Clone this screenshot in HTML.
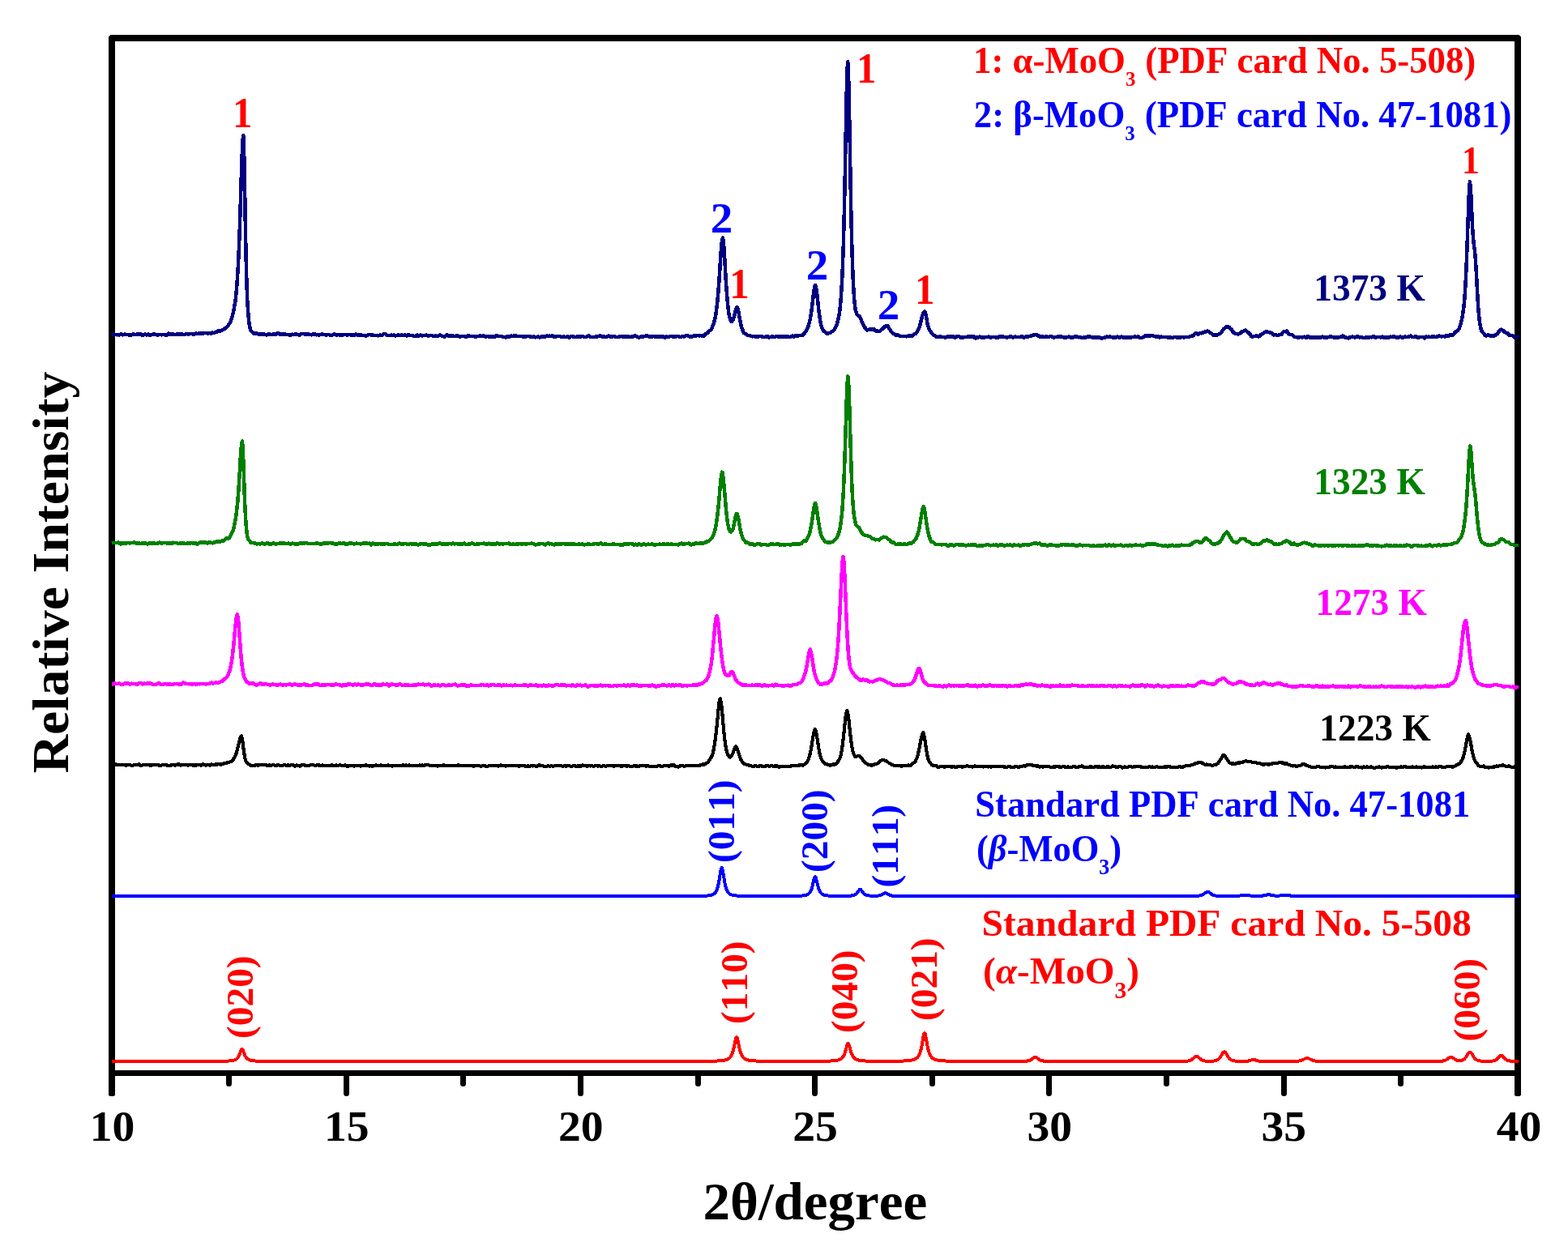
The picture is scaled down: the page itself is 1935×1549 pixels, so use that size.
<!DOCTYPE html>
<html lang="en"><head><meta charset="utf-8"><title>XRD patterns</title>
<style>
html,body{margin:0;padding:0;background:#fff;}
body{width:1935px;height:1549px;overflow:hidden;}
svg{display:block;}
text{font-family:"Liberation Serif","DejaVu Serif",serif;font-weight:bold;font-kerning:none;}
.c{fill:none;stroke-linejoin:round;stroke-linecap:butt;shape-rendering:crispEdges;}
</style></head><body>
<svg width="1935" height="1549" viewBox="0 0 1935 1549">
<rect x="0" y="0" width="1935" height="1549" fill="#ffffff"/>
<g stroke="#000" fill="none" stroke-linecap="round" stroke-linejoin="round" shape-rendering="crispEdges">
<path stroke-width="8" d="M138.0,1349.4 L138.0,47.0 L1873.0,47.0 L1873.0,1349.4"/>
<path stroke-width="7" stroke-linecap="butt" d="M138.0,1324.5 L1873.0,1324.5"/>
</g>
<g stroke="#000" fill="none" stroke-linecap="round" stroke-width="7">
<path d="M282.5,1325.5 L282.5,1337.4"/>
<path d="M427.5,1325.5 L427.5,1349.4"/>
<path d="M571.5,1325.5 L571.5,1337.4"/>
<path d="M716.5,1325.5 L716.5,1349.4"/>
<path d="M861.5,1325.5 L861.5,1337.4"/>
<path d="M1005.5,1325.5 L1005.5,1349.4"/>
<path d="M1150.5,1325.5 L1150.5,1337.4"/>
<path d="M1294.5,1325.5 L1294.5,1349.4"/>
<path d="M1439.5,1325.5 L1439.5,1337.4"/>
<path d="M1584.5,1325.5 L1584.5,1349.4"/>
<path d="M1728.5,1325.5 L1728.5,1337.4"/>
</g>
<path class="c" d="M138.0,413.8 L139.0,413.2 L140.0,412.7 L141.0,412.9 L142.0,412.9 L143.0,412.8 L144.0,413.3 L145.0,413.3 L146.0,413.1 L147.0,413.4 L148.0,413.3 L149.0,412.6 L150.0,412.5 L151.0,413.2 L152.0,413.3 L153.0,412.9 L154.0,412.7 L155.0,412.8 L156.0,413.1 L157.0,413.1 L158.0,413.0 L159.0,413.5 L160.0,413.8 L161.0,413.7 L162.0,413.4 L163.0,413.0 L164.0,412.7 L165.0,412.6 L166.0,412.9 L167.0,413.1 L168.0,412.8 L169.0,412.6 L170.0,412.5 L171.0,412.4 L172.0,412.6 L173.0,412.6 L174.0,412.6 L175.0,413.2 L176.0,413.9 L177.0,413.6 L178.0,412.9 L179.0,412.4 L180.0,412.8 L181.0,413.5 L182.0,413.2 L183.0,412.7 L184.0,413.3 L185.0,413.8 L186.0,413.5 L187.0,413.2 L188.0,413.1 L189.0,412.6 L190.0,412.3 L191.0,412.5 L192.0,412.8 L193.0,413.2 L194.0,413.5 L195.0,413.4 L196.0,413.3 L197.0,413.1 L198.0,412.9 L199.0,413.3 L200.0,413.2 L201.0,412.9 L202.0,412.9 L203.0,413.1 L204.0,413.5 L205.0,414.0 L206.0,413.6 L207.0,412.3 L208.0,411.7 L209.0,412.2 L210.0,412.8 L211.0,413.1 L212.0,412.6 L213.0,411.8 L214.0,412.3 L215.0,412.9 L216.0,413.0 L217.0,412.9 L218.0,412.6 L219.0,412.5 L220.0,412.7 L221.0,412.8 L222.0,412.7 L223.0,412.4 L224.0,412.3 L225.0,412.5 L226.0,412.8 L227.0,413.1 L228.0,413.1 L229.0,412.6 L230.0,412.1 L231.0,412.1 L232.0,412.4 L233.0,412.3 L234.0,412.2 L235.0,412.1 L236.0,412.1 L237.0,412.2 L238.0,412.4 L239.0,412.6 L240.0,412.6 L241.0,412.2 L242.0,411.7 L243.0,412.0 L244.0,412.1 L245.0,411.6 L246.0,411.6 L247.0,411.5 L248.0,411.3 L249.0,411.7 L250.0,411.9 L251.0,411.5 L252.0,411.2 L253.0,411.0 L254.0,410.8 L255.0,410.9 L256.0,411.4 L257.0,411.5 L258.0,411.0 L259.0,410.9 L260.0,411.6 L261.0,411.4 L262.0,410.5 L263.0,410.9 L264.0,411.2 L265.0,410.3 L266.0,409.7 L267.0,409.8 L268.0,409.5 L269.0,408.7 L270.0,408.5 L271.0,408.8 L272.0,408.6 L273.0,407.9 L274.0,407.3 L275.0,406.8 L276.0,406.6 L277.0,406.0 L278.0,405.0 L279.0,404.4 L280.0,403.8 L281.0,402.8 L282.0,401.3 L283.0,399.5 L284.0,397.7 L285.0,395.6 L286.0,393.0 L287.0,389.6 L288.0,384.8 L289.0,379.5 L290.0,374.4 L291.0,367.2 L292.0,356.4 L293.0,342.6 L294.0,325.5 L295.0,303.8 L296.0,276.7 L297.0,244.7 L298.0,211.2 L299.0,182.7 L300.0,167.7 L300.3,166.9 L301.0,179.3 L302.0,228.6 L303.0,287.4 L304.0,334.8 L305.0,365.8 L306.0,383.7 L307.0,394.8 L308.0,402.6 L309.0,406.8 L310.0,408.5 L311.0,409.4 L312.0,410.6 L313.0,411.5 L314.0,411.7 L315.0,411.9 L316.0,411.7 L317.0,411.5 L318.0,412.1 L319.0,412.7 L320.0,412.8 L321.0,412.4 L322.0,412.2 L323.0,412.5 L324.0,412.6 L325.0,412.5 L326.0,412.6 L327.0,412.9 L328.0,413.1 L329.0,413.4 L330.0,413.3 L331.0,412.5 L332.0,412.0 L333.0,412.4 L334.0,412.9 L335.0,413.1 L336.0,412.9 L337.0,412.7 L338.0,412.6 L339.0,412.8 L340.0,412.9 L341.0,412.0 L342.0,411.2 L343.0,411.3 L344.0,411.6 L345.0,412.3 L346.0,413.0 L347.0,412.5 L348.0,412.2 L349.0,412.6 L350.0,412.3 L351.0,412.2 L352.0,412.8 L353.0,413.0 L354.0,412.9 L355.0,413.1 L356.0,413.3 L357.0,413.4 L358.0,413.5 L359.0,413.4 L360.0,412.8 L361.0,412.7 L362.0,413.3 L363.0,412.9 L364.0,412.4 L365.0,412.4 L366.0,412.6 L367.0,412.8 L368.0,413.0 L369.0,413.4 L370.0,413.6 L371.0,412.8 L372.0,412.0 L373.0,411.9 L374.0,412.0 L375.0,412.2 L376.0,412.7 L377.0,412.7 L378.0,412.6 L379.0,412.5 L380.0,412.1 L381.0,412.4 L382.0,413.1 L383.0,413.2 L384.0,413.2 L385.0,413.3 L386.0,412.7 L387.0,412.5 L388.0,412.2 L389.0,412.2 L390.0,413.2 L391.0,413.3 L392.0,413.0 L393.0,413.7 L394.0,413.7 L395.0,413.2 L396.0,412.9 L397.0,412.6 L398.0,412.6 L399.0,413.0 L400.0,413.1 L401.0,413.3 L402.0,413.6 L403.0,413.5 L404.0,413.3 L405.0,413.1 L406.0,413.0 L407.0,413.6 L408.0,414.1 L409.0,413.9 L410.0,413.5 L411.0,412.8 L412.0,412.4 L413.0,412.7 L414.0,413.3 L415.0,413.6 L416.0,413.6 L417.0,413.1 L418.0,412.9 L419.0,413.4 L420.0,413.6 L421.0,413.5 L422.0,413.4 L423.0,413.4 L424.0,413.1 L425.0,412.9 L426.0,413.1 L427.0,413.2 L428.0,413.4 L429.0,413.4 L430.0,413.1 L431.0,413.1 L432.0,413.3 L433.0,413.6 L434.0,413.6 L435.0,413.3 L436.0,413.8 L437.0,414.0 L438.0,413.1 L439.0,412.6 L440.0,412.9 L441.0,413.5 L442.0,414.0 L443.0,413.6 L444.0,413.3 L445.0,413.5 L446.0,413.6 L447.0,413.9 L448.0,414.1 L449.0,414.0 L450.0,414.1 L451.0,414.8 L452.0,414.6 L453.0,414.0 L454.0,413.5 L455.0,413.1 L456.0,413.1 L457.0,413.2 L458.0,413.3 L459.0,413.4 L460.0,413.5 L461.0,413.9 L462.0,414.0 L463.0,413.8 L464.0,413.9 L465.0,414.0 L466.0,414.2 L467.0,414.3 L468.0,414.0 L469.0,413.5 L470.0,413.8 L471.0,414.2 L472.0,413.4 L473.0,412.4 L474.0,412.1 L475.0,411.9 L476.0,412.3 L477.0,413.4 L478.0,414.1 L479.0,413.9 L480.0,413.8 L481.0,413.8 L482.0,413.8 L483.0,413.7 L484.0,413.8 L485.0,413.8 L486.0,413.7 L487.0,414.2 L488.0,414.4 L489.0,414.2 L490.0,414.0 L491.0,413.7 L492.0,413.6 L493.0,413.9 L494.0,413.8 L495.0,413.6 L496.0,413.5 L497.0,413.8 L498.0,413.9 L499.0,413.5 L500.0,413.7 L501.0,414.1 L502.0,414.4 L503.0,413.8 L504.0,413.2 L505.0,413.8 L506.0,414.3 L507.0,414.1 L508.0,414.1 L509.0,414.3 L510.0,414.5 L511.0,414.9 L512.0,415.2 L513.0,415.0 L514.0,413.9 L515.0,413.5 L516.0,414.3 L517.0,414.7 L518.0,414.1 L519.0,413.5 L520.0,413.9 L521.0,414.4 L522.0,414.3 L523.0,414.1 L524.0,414.0 L525.0,413.8 L526.0,413.6 L527.0,414.0 L528.0,414.6 L529.0,414.6 L530.0,414.2 L531.0,414.2 L532.0,414.1 L533.0,414.0 L534.0,414.4 L535.0,415.0 L536.0,415.0 L537.0,414.3 L538.0,414.3 L539.0,414.8 L540.0,414.9 L541.0,414.5 L542.0,414.0 L543.0,413.5 L544.0,413.8 L545.0,414.7 L546.0,415.0 L547.0,415.0 L548.0,415.6 L549.0,415.6 L550.0,414.4 L551.0,413.2 L552.0,413.2 L553.0,414.1 L554.0,414.9 L555.0,414.5 L556.0,413.8 L557.0,414.4 L558.0,415.2 L559.0,414.7 L560.0,414.7 L561.0,415.3 L562.0,415.0 L563.0,414.6 L564.0,414.7 L565.0,414.7 L566.0,414.8 L567.0,415.4 L568.0,415.6 L569.0,415.3 L570.0,415.1 L571.0,415.2 L572.0,415.1 L573.0,415.2 L574.0,415.5 L575.0,415.7 L576.0,415.8 L577.0,415.0 L578.0,414.0 L579.0,414.3 L580.0,415.1 L581.0,415.1 L582.0,414.8 L583.0,414.8 L584.0,415.1 L585.0,415.3 L586.0,415.3 L587.0,415.2 L588.0,415.4 L589.0,415.3 L590.0,415.0 L591.0,415.1 L592.0,414.7 L593.0,414.6 L594.0,415.0 L595.0,414.8 L596.0,414.6 L597.0,414.6 L598.0,414.8 L599.0,415.4 L600.0,415.5 L601.0,415.2 L602.0,415.1 L603.0,415.6 L604.0,416.1 L605.0,415.7 L606.0,415.3 L607.0,415.3 L608.0,415.2 L609.0,415.4 L610.0,415.8 L611.0,415.3 L612.0,414.5 L613.0,414.1 L614.0,414.4 L615.0,415.0 L616.0,415.2 L617.0,415.1 L618.0,414.8 L619.0,414.9 L620.0,415.7 L621.0,416.1 L622.0,416.1 L623.0,416.2 L624.0,416.4 L625.0,415.9 L626.0,415.1 L627.0,415.2 L628.0,415.5 L629.0,415.4 L630.0,415.1 L631.0,414.6 L632.0,414.8 L633.0,414.9 L634.0,414.3 L635.0,414.4 L636.0,414.7 L637.0,414.6 L638.0,414.8 L639.0,415.0 L640.0,415.0 L641.0,415.2 L642.0,415.2 L643.0,415.2 L644.0,415.1 L645.0,415.2 L646.0,415.8 L647.0,416.2 L648.0,415.8 L649.0,415.2 L650.0,415.0 L651.0,415.2 L652.0,415.0 L653.0,415.0 L654.0,415.4 L655.0,415.7 L656.0,416.1 L657.0,416.0 L658.0,415.4 L659.0,415.6 L660.0,416.3 L661.0,416.2 L662.0,416.1 L663.0,415.9 L664.0,415.5 L665.0,415.8 L666.0,416.4 L667.0,416.1 L668.0,415.3 L669.0,415.2 L670.0,415.4 L671.0,415.2 L672.0,415.3 L673.0,415.5 L674.0,415.0 L675.0,414.6 L676.0,415.1 L677.0,415.1 L678.0,414.7 L679.0,414.8 L680.0,415.0 L681.0,414.3 L682.0,414.2 L683.0,415.2 L684.0,416.1 L685.0,415.9 L686.0,415.1 L687.0,414.8 L688.0,414.9 L689.0,415.2 L690.0,415.0 L691.0,415.2 L692.0,415.7 L693.0,415.8 L694.0,415.8 L695.0,415.4 L696.0,415.5 L697.0,415.8 L698.0,415.8 L699.0,416.0 L700.0,415.6 L701.0,415.6 L702.0,416.8 L703.0,416.5 L704.0,415.3 L705.0,414.9 L706.0,415.1 L707.0,415.4 L708.0,415.6 L709.0,416.0 L710.0,416.2 L711.0,415.9 L712.0,415.7 L713.0,415.6 L714.0,415.4 L715.0,415.5 L716.0,416.0 L717.0,415.8 L718.0,415.1 L719.0,414.8 L720.0,415.4 L721.0,415.9 L722.0,416.0 L723.0,416.0 L724.0,415.5 L725.0,414.8 L726.0,414.3 L727.0,414.6 L728.0,415.3 L729.0,415.9 L730.0,416.2 L731.0,416.1 L732.0,416.1 L733.0,416.2 L734.0,415.9 L735.0,415.7 L736.0,415.7 L737.0,415.4 L738.0,415.2 L739.0,415.0 L740.0,414.7 L741.0,414.6 L742.0,415.0 L743.0,415.5 L744.0,415.2 L745.0,415.2 L746.0,415.8 L747.0,416.1 L748.0,416.1 L749.0,415.8 L750.0,414.9 L751.0,414.3 L752.0,414.9 L753.0,415.5 L754.0,415.4 L755.0,415.4 L756.0,415.4 L757.0,415.1 L758.0,415.0 L759.0,415.5 L760.0,415.8 L761.0,415.8 L762.0,415.9 L763.0,415.8 L764.0,415.7 L765.0,415.4 L766.0,414.8 L767.0,414.9 L768.0,415.5 L769.0,415.5 L770.0,415.3 L771.0,415.4 L772.0,415.5 L773.0,415.4 L774.0,415.4 L775.0,415.1 L776.0,415.3 L777.0,416.0 L778.0,415.9 L779.0,415.4 L780.0,415.4 L781.0,415.4 L782.0,415.2 L783.0,414.6 L784.0,414.5 L785.0,415.0 L786.0,415.6 L787.0,416.2 L788.0,416.4 L789.0,416.5 L790.0,416.2 L791.0,415.5 L792.0,415.5 L793.0,415.9 L794.0,415.7 L795.0,415.1 L796.0,414.9 L797.0,414.6 L798.0,414.2 L799.0,414.5 L800.0,415.1 L801.0,415.5 L802.0,415.3 L803.0,415.5 L804.0,415.7 L805.0,415.4 L806.0,415.0 L807.0,414.8 L808.0,415.2 L809.0,415.8 L810.0,415.7 L811.0,415.3 L812.0,415.5 L813.0,415.6 L814.0,415.5 L815.0,415.6 L816.0,415.7 L817.0,415.5 L818.0,414.9 L819.0,415.3 L820.0,416.6 L821.0,416.4 L822.0,415.4 L823.0,415.5 L824.0,415.9 L825.0,415.9 L826.0,415.4 L827.0,415.0 L828.0,415.1 L829.0,415.2 L830.0,415.3 L831.0,415.3 L832.0,415.5 L833.0,416.0 L834.0,415.8 L835.0,415.1 L836.0,414.8 L837.0,415.2 L838.0,415.7 L839.0,415.8 L840.0,415.8 L841.0,415.4 L842.0,414.9 L843.0,415.0 L844.0,415.4 L845.0,415.1 L846.0,414.4 L847.0,414.2 L848.0,414.1 L849.0,414.7 L850.0,415.2 L851.0,415.5 L852.0,415.6 L853.0,415.4 L854.0,415.3 L855.0,415.2 L856.0,414.4 L857.0,414.1 L858.0,414.6 L859.0,414.7 L860.0,414.2 L861.0,414.0 L862.0,414.3 L863.0,414.4 L864.0,414.1 L865.0,414.1 L866.0,414.4 L867.0,414.3 L868.0,414.5 L869.0,414.4 L870.0,413.1 L871.0,411.8 L872.0,411.4 L873.0,411.1 L874.0,409.9 L875.0,408.3 L876.0,407.8 L877.0,407.6 L878.0,406.2 L879.0,403.6 L880.0,401.2 L881.0,398.4 L882.0,394.7 L883.0,390.0 L884.0,383.7 L885.0,375.3 L886.0,365.0 L887.0,352.6 L888.0,337.8 L889.0,321.8 L890.0,307.1 L891.0,296.9 L891.8,293.8 L892.0,293.6 L893.0,300.4 L894.0,314.7 L895.0,332.4 L896.0,349.5 L897.0,363.3 L898.0,374.9 L899.0,384.5 L900.0,390.2 L901.0,393.6 L902.0,396.3 L903.0,397.0 L904.0,395.6 L905.0,393.7 L906.0,390.7 L907.0,386.6 L908.0,382.2 L909.0,379.4 L909.5,379.2 L910.0,379.5 L911.0,382.6 L912.0,388.2 L913.0,394.1 L914.0,399.1 L915.0,403.3 L916.0,406.3 L917.0,408.6 L918.0,410.9 L919.0,411.8 L920.0,411.8 L921.0,412.4 L922.0,413.4 L923.0,413.9 L924.0,414.1 L925.0,413.9 L926.0,414.5 L927.0,415.1 L928.0,415.3 L929.0,415.2 L930.0,415.0 L931.0,415.2 L932.0,415.3 L933.0,415.3 L934.0,415.5 L935.0,415.7 L936.0,415.5 L937.0,414.9 L938.0,415.0 L939.0,415.3 L940.0,415.2 L941.0,415.5 L942.0,416.1 L943.0,416.2 L944.0,416.0 L945.0,415.4 L946.0,415.0 L947.0,415.2 L948.0,415.8 L949.0,416.4 L950.0,416.3 L951.0,416.0 L952.0,415.6 L953.0,415.3 L954.0,415.5 L955.0,415.8 L956.0,415.9 L957.0,415.5 L958.0,415.0 L959.0,414.9 L960.0,415.3 L961.0,415.8 L962.0,415.7 L963.0,415.4 L964.0,415.2 L965.0,415.5 L966.0,415.7 L967.0,415.5 L968.0,415.4 L969.0,415.5 L970.0,415.6 L971.0,415.3 L972.0,415.3 L973.0,415.6 L974.0,415.9 L975.0,416.0 L976.0,415.8 L977.0,415.1 L978.0,414.6 L979.0,415.3 L980.0,415.7 L981.0,414.7 L982.0,414.0 L983.0,414.4 L984.0,414.8 L985.0,414.5 L986.0,413.9 L987.0,413.8 L988.0,414.0 L989.0,414.0 L990.0,414.0 L991.0,413.1 L992.0,411.9 L993.0,410.9 L994.0,409.4 L995.0,407.9 L996.0,406.6 L997.0,404.4 L998.0,401.0 L999.0,397.3 L1000.0,392.8 L1001.0,386.9 L1002.0,379.5 L1003.0,371.1 L1004.0,362.6 L1005.0,355.4 L1006.0,351.9 L1006.2,352.5 L1007.0,354.6 L1008.0,360.8 L1009.0,370.1 L1010.0,379.6 L1011.0,387.6 L1012.0,394.5 L1013.0,399.9 L1014.0,403.7 L1015.0,406.4 L1016.0,408.1 L1017.0,409.0 L1018.0,409.7 L1019.0,410.3 L1020.0,411.2 L1021.0,412.0 L1022.0,411.7 L1023.0,411.1 L1024.0,411.1 L1025.0,410.3 L1026.0,409.2 L1027.0,409.1 L1028.0,408.6 L1029.0,407.7 L1030.0,406.1 L1031.0,404.3 L1032.0,402.4 L1033.0,399.5 L1034.0,396.0 L1035.0,391.7 L1036.0,385.7 L1037.0,377.0 L1038.0,364.8 L1039.0,348.6 L1040.0,326.7 L1041.0,296.2 L1042.0,255.7 L1043.0,205.2 L1044.0,149.9 L1045.0,101.4 L1046.0,76.5 L1046.2,76.0 L1047.0,88.7 L1048.0,132.5 L1049.0,190.7 L1050.0,247.1 L1051.0,292.8 L1052.0,326.8 L1053.0,351.0 L1054.0,367.2 L1055.0,377.8 L1056.0,383.8 L1057.0,386.8 L1058.0,388.5 L1059.0,389.3 L1060.0,389.9 L1061.0,391.1 L1062.0,393.0 L1063.0,395.7 L1064.0,398.0 L1065.0,399.9 L1066.0,402.2 L1067.0,403.8 L1068.0,405.1 L1069.0,406.6 L1070.0,407.5 L1071.0,407.3 L1072.0,406.9 L1073.0,406.7 L1074.0,406.5 L1075.0,406.7 L1076.0,406.9 L1077.0,406.3 L1078.0,405.9 L1079.0,406.7 L1080.0,408.0 L1081.0,408.5 L1082.0,408.3 L1083.0,408.6 L1084.0,409.1 L1085.0,409.2 L1086.0,408.7 L1087.0,407.5 L1088.0,406.7 L1089.0,406.1 L1090.0,405.0 L1091.0,403.9 L1092.0,403.0 L1093.0,402.4 L1093.5,402.2 L1094.0,401.8 L1095.0,401.9 L1096.0,403.1 L1097.0,405.0 L1098.0,406.6 L1099.0,408.0 L1100.0,409.4 L1101.0,410.5 L1102.0,411.5 L1103.0,412.3 L1104.0,412.3 L1105.0,412.8 L1106.0,414.1 L1107.0,414.1 L1108.0,413.4 L1109.0,414.0 L1110.0,414.8 L1111.0,415.0 L1112.0,415.0 L1113.0,414.8 L1114.0,415.0 L1115.0,415.1 L1116.0,415.0 L1117.0,415.0 L1118.0,415.3 L1119.0,415.3 L1120.0,414.9 L1121.0,414.6 L1122.0,414.7 L1123.0,414.7 L1124.0,414.7 L1125.0,414.8 L1126.0,414.6 L1127.0,413.3 L1128.0,412.2 L1129.0,412.1 L1130.0,411.9 L1131.0,410.8 L1132.0,408.9 L1133.0,407.0 L1134.0,405.4 L1135.0,402.6 L1136.0,398.6 L1137.0,394.6 L1138.0,390.6 L1139.0,387.3 L1140.0,385.3 L1140.6,385.0 L1141.0,384.7 L1142.0,386.2 L1143.0,390.6 L1144.0,396.6 L1145.0,401.5 L1146.0,404.8 L1147.0,407.2 L1148.0,408.6 L1149.0,409.8 L1150.0,411.3 L1151.0,412.6 L1152.0,413.4 L1153.0,413.9 L1154.0,414.4 L1155.0,415.3 L1156.0,415.7 L1157.0,415.9 L1158.0,416.0 L1159.0,415.5 L1160.0,415.2 L1161.0,415.6 L1162.0,415.8 L1163.0,415.9 L1164.0,416.0 L1165.0,416.2 L1166.0,416.6 L1167.0,416.8 L1168.0,416.1 L1169.0,415.7 L1170.0,415.4 L1171.0,415.1 L1172.0,415.8 L1173.0,416.2 L1174.0,415.7 L1175.0,415.0 L1176.0,415.1 L1177.0,416.1 L1178.0,416.8 L1179.0,416.6 L1180.0,415.7 L1181.0,415.3 L1182.0,415.2 L1183.0,415.0 L1184.0,415.5 L1185.0,416.5 L1186.0,416.8 L1187.0,416.7 L1188.0,416.8 L1189.0,416.5 L1190.0,416.1 L1191.0,416.0 L1192.0,416.0 L1193.0,415.9 L1194.0,415.7 L1195.0,415.7 L1196.0,416.0 L1197.0,415.7 L1198.0,415.3 L1199.0,415.4 L1200.0,415.2 L1201.0,415.1 L1202.0,416.1 L1203.0,417.2 L1204.0,417.6 L1205.0,416.9 L1206.0,416.2 L1207.0,416.5 L1208.0,416.3 L1209.0,415.6 L1210.0,416.1 L1211.0,416.5 L1212.0,416.3 L1213.0,416.2 L1214.0,416.4 L1215.0,416.6 L1216.0,416.1 L1217.0,415.8 L1218.0,416.0 L1219.0,415.8 L1220.0,415.6 L1221.0,416.3 L1222.0,416.5 L1223.0,416.3 L1224.0,416.2 L1225.0,415.9 L1226.0,415.9 L1227.0,416.0 L1228.0,416.3 L1229.0,416.6 L1230.0,416.4 L1231.0,416.4 L1232.0,416.5 L1233.0,415.6 L1234.0,415.3 L1235.0,415.9 L1236.0,415.7 L1237.0,415.2 L1238.0,415.4 L1239.0,415.9 L1240.0,416.2 L1241.0,416.2 L1242.0,416.4 L1243.0,416.4 L1244.0,416.0 L1245.0,416.1 L1246.0,415.7 L1247.0,415.3 L1248.0,415.6 L1249.0,416.3 L1250.0,416.5 L1251.0,416.3 L1252.0,415.8 L1253.0,415.4 L1254.0,415.9 L1255.0,416.2 L1256.0,415.9 L1257.0,415.9 L1258.0,416.0 L1259.0,416.1 L1260.0,415.6 L1261.0,415.2 L1262.0,415.9 L1263.0,416.8 L1264.0,416.4 L1265.0,415.8 L1266.0,415.6 L1267.0,415.7 L1268.0,415.6 L1269.0,415.5 L1270.0,415.3 L1271.0,414.8 L1272.0,414.6 L1273.0,414.6 L1274.0,414.0 L1275.0,413.6 L1276.0,413.6 L1277.0,413.3 L1277.5,413.2 L1278.0,413.3 L1279.0,413.5 L1280.0,413.7 L1281.0,414.1 L1282.0,415.0 L1283.0,415.5 L1284.0,415.3 L1285.0,415.3 L1286.0,415.4 L1287.0,415.7 L1288.0,416.1 L1289.0,415.8 L1290.0,415.4 L1291.0,415.3 L1292.0,415.5 L1293.0,416.0 L1294.0,416.0 L1295.0,415.4 L1296.0,415.1 L1297.0,415.1 L1298.0,415.4 L1299.0,416.2 L1300.0,416.7 L1301.0,416.5 L1302.0,416.1 L1303.0,416.2 L1304.0,416.0 L1305.0,415.6 L1306.0,415.4 L1307.0,415.2 L1308.0,415.4 L1309.0,415.6 L1310.0,415.5 L1311.0,415.7 L1312.0,416.2 L1313.0,416.4 L1314.0,416.3 L1315.0,416.3 L1316.0,416.3 L1317.0,416.3 L1318.0,416.0 L1319.0,415.6 L1320.0,416.0 L1321.0,416.7 L1322.0,416.3 L1323.0,416.1 L1324.0,416.5 L1325.0,416.2 L1326.0,415.5 L1327.0,415.5 L1328.0,415.9 L1329.0,415.7 L1330.0,415.8 L1331.0,416.3 L1332.0,416.3 L1333.0,416.1 L1334.0,416.2 L1335.0,417.0 L1336.0,417.1 L1337.0,416.4 L1338.0,416.6 L1339.0,417.2 L1340.0,416.8 L1341.0,416.0 L1342.0,415.7 L1343.0,415.6 L1344.0,415.5 L1345.0,415.7 L1346.0,416.0 L1347.0,416.1 L1348.0,416.4 L1349.0,416.3 L1350.0,416.2 L1351.0,416.4 L1352.0,416.5 L1353.0,416.5 L1354.0,416.7 L1355.0,416.5 L1356.0,416.4 L1357.0,416.5 L1358.0,417.0 L1359.0,417.6 L1360.0,417.4 L1361.0,417.1 L1362.0,416.9 L1363.0,416.7 L1364.0,416.7 L1365.0,416.2 L1366.0,415.7 L1367.0,415.8 L1368.0,415.9 L1369.0,415.6 L1370.0,415.7 L1371.0,416.0 L1372.0,416.1 L1373.0,416.3 L1374.0,416.9 L1375.0,416.6 L1376.0,416.1 L1377.0,416.5 L1378.0,416.2 L1379.0,415.6 L1380.0,415.7 L1381.0,416.5 L1382.0,416.7 L1383.0,416.0 L1384.0,415.4 L1385.0,415.8 L1386.0,416.8 L1387.0,417.0 L1388.0,416.4 L1389.0,416.3 L1390.0,416.2 L1391.0,416.3 L1392.0,416.6 L1393.0,416.6 L1394.0,416.3 L1395.0,416.2 L1396.0,416.3 L1397.0,416.2 L1398.0,416.1 L1399.0,416.0 L1400.0,415.6 L1401.0,415.7 L1402.0,415.9 L1403.0,415.8 L1404.0,415.4 L1405.0,415.7 L1406.0,416.6 L1407.0,416.9 L1408.0,416.9 L1409.0,416.8 L1410.0,416.3 L1411.0,415.8 L1412.0,415.3 L1413.0,414.4 L1414.0,414.5 L1415.0,415.0 L1416.0,414.6 L1417.0,414.1 L1418.0,414.5 L1419.0,414.8 L1420.0,414.6 L1421.0,414.1 L1422.0,414.0 L1423.0,414.4 L1424.0,414.8 L1425.0,415.0 L1426.0,415.4 L1427.0,415.6 L1428.0,415.3 L1429.0,415.1 L1430.0,416.1 L1431.0,416.7 L1432.0,415.8 L1433.0,415.4 L1434.0,415.9 L1435.0,415.8 L1436.0,415.8 L1437.0,416.1 L1438.0,415.9 L1439.0,415.9 L1440.0,416.1 L1441.0,416.6 L1442.0,416.6 L1443.0,416.2 L1444.0,416.3 L1445.0,416.6 L1446.0,416.8 L1447.0,416.8 L1448.0,416.5 L1449.0,416.2 L1450.0,416.1 L1451.0,416.0 L1452.0,416.5 L1453.0,417.0 L1454.0,416.8 L1455.0,416.2 L1456.0,416.3 L1457.0,416.6 L1458.0,416.3 L1459.0,416.1 L1460.0,416.2 L1461.0,416.4 L1462.0,416.3 L1463.0,416.0 L1464.0,416.0 L1465.0,416.2 L1466.0,416.1 L1467.0,415.8 L1468.0,415.4 L1469.0,415.2 L1470.0,414.8 L1471.0,414.3 L1472.0,414.3 L1473.0,414.2 L1474.0,412.7 L1475.0,411.3 L1476.0,411.0 L1476.8,411.1 L1477.0,411.6 L1478.0,412.4 L1479.0,412.6 L1480.0,411.7 L1481.0,411.0 L1482.0,411.3 L1483.0,411.2 L1484.0,410.7 L1485.0,410.4 L1486.0,410.1 L1487.0,409.7 L1488.0,409.4 L1489.0,409.1 L1489.9,408.7 L1490.0,408.9 L1491.0,409.2 L1492.0,409.6 L1493.0,410.3 L1494.0,410.9 L1495.0,411.7 L1496.0,412.8 L1497.0,413.5 L1498.0,413.6 L1499.0,413.7 L1500.0,413.5 L1501.0,413.4 L1502.0,413.4 L1503.0,413.0 L1504.0,412.6 L1505.0,412.0 L1506.0,411.3 L1507.0,410.4 L1508.0,409.2 L1509.0,407.4 L1510.0,405.9 L1511.0,405.3 L1512.0,404.3 L1513.0,403.3 L1514.0,403.3 L1514.7,403.7 L1515.0,403.4 L1516.0,403.3 L1517.0,404.1 L1518.0,405.4 L1519.0,405.8 L1520.0,406.8 L1521.0,408.9 L1522.0,409.9 L1523.0,410.9 L1524.0,411.8 L1525.0,412.0 L1526.0,412.0 L1527.0,412.3 L1528.0,412.4 L1529.0,411.8 L1530.0,411.3 L1531.0,410.9 L1532.0,409.9 L1533.0,409.1 L1534.0,409.0 L1535.0,408.4 L1536.0,407.8 L1537.0,407.6 L1538.0,408.3 L1539.0,409.7 L1540.0,410.4 L1541.0,410.4 L1542.0,411.5 L1543.0,413.5 L1544.0,415.0 L1545.0,415.5 L1546.0,415.4 L1547.0,415.2 L1548.0,415.0 L1549.0,414.8 L1550.0,414.4 L1551.0,414.4 L1552.0,415.2 L1553.0,415.6 L1554.0,415.0 L1555.0,414.1 L1556.0,413.1 L1557.0,412.4 L1558.0,412.1 L1559.0,411.6 L1560.0,410.7 L1561.0,410.0 L1562.0,409.2 L1563.0,408.8 L1564.0,409.2 L1564.5,409.8 L1565.0,410.1 L1566.0,410.3 L1567.0,410.3 L1568.0,410.5 L1569.0,410.9 L1570.0,411.6 L1571.0,412.9 L1572.0,413.4 L1573.0,413.0 L1574.0,413.1 L1575.0,413.8 L1576.0,414.2 L1577.0,413.9 L1578.0,413.6 L1579.0,413.1 L1580.0,413.0 L1581.0,413.0 L1582.0,412.1 L1583.0,410.6 L1584.0,409.8 L1585.0,409.1 L1586.0,408.9 L1586.6,409.3 L1587.0,408.7 L1588.0,408.5 L1589.0,410.2 L1590.0,412.0 L1591.0,412.7 L1592.0,413.0 L1593.0,413.2 L1594.0,412.8 L1595.0,413.5 L1596.0,414.8 L1597.0,415.6 L1598.0,416.2 L1599.0,416.2 L1600.0,416.2 L1601.0,416.6 L1602.0,416.9 L1603.0,416.7 L1604.0,416.2 L1605.0,416.0 L1606.0,416.2 L1607.0,416.4 L1608.0,416.2 L1609.0,415.8 L1610.0,415.7 L1611.0,416.3 L1612.0,417.0 L1613.0,416.3 L1614.0,414.9 L1615.0,415.4 L1616.0,416.7 L1617.0,416.6 L1618.0,416.4 L1619.0,416.8 L1620.0,416.5 L1621.0,416.0 L1622.0,416.5 L1623.0,416.7 L1624.0,416.4 L1625.0,416.5 L1626.0,416.4 L1627.0,416.5 L1628.0,416.9 L1629.0,416.6 L1630.0,416.4 L1631.0,416.0 L1632.0,415.6 L1633.0,416.2 L1634.0,416.7 L1635.0,416.6 L1636.0,416.5 L1637.0,416.5 L1638.0,416.3 L1639.0,416.2 L1640.0,415.9 L1641.0,415.4 L1642.0,415.4 L1643.0,415.5 L1644.0,416.1 L1645.0,416.3 L1646.0,416.2 L1647.0,416.5 L1648.0,416.7 L1649.0,416.4 L1650.0,416.3 L1651.0,416.6 L1652.0,416.7 L1653.0,416.1 L1654.0,416.1 L1655.0,416.2 L1656.0,415.1 L1657.0,414.4 L1658.0,415.1 L1659.0,416.1 L1660.0,416.5 L1661.0,416.6 L1662.0,416.7 L1663.0,417.3 L1664.0,417.5 L1665.0,416.9 L1666.0,416.2 L1667.0,416.1 L1668.0,415.9 L1669.0,415.7 L1670.0,415.8 L1671.0,416.2 L1672.0,416.5 L1673.0,416.2 L1674.0,415.5 L1675.0,415.3 L1676.0,415.5 L1677.0,416.0 L1678.0,416.4 L1679.0,416.3 L1680.0,416.1 L1681.0,416.4 L1682.0,417.0 L1683.0,417.3 L1684.0,416.8 L1685.0,416.6 L1686.0,416.9 L1687.0,416.7 L1688.0,416.4 L1689.0,416.7 L1690.0,416.3 L1691.0,415.9 L1692.0,416.3 L1693.0,416.2 L1694.0,415.2 L1695.0,415.1 L1696.0,416.1 L1697.0,416.7 L1698.0,416.4 L1699.0,415.8 L1700.0,416.0 L1701.0,416.2 L1702.0,415.8 L1703.0,416.1 L1704.0,416.6 L1705.0,416.2 L1706.0,415.5 L1707.0,416.3 L1708.0,417.0 L1709.0,416.4 L1710.0,416.2 L1711.0,416.5 L1712.0,416.4 L1713.0,416.7 L1714.0,416.4 L1715.0,415.8 L1716.0,415.7 L1717.0,415.9 L1718.0,416.0 L1719.0,415.4 L1720.0,415.0 L1721.0,415.3 L1722.0,416.0 L1723.0,416.6 L1724.0,416.6 L1725.0,416.6 L1726.0,416.6 L1727.0,416.1 L1728.0,415.7 L1729.0,416.0 L1730.0,416.7 L1731.0,417.1 L1732.0,416.6 L1733.0,415.9 L1734.0,415.7 L1735.0,415.8 L1736.0,416.1 L1737.0,415.9 L1738.0,415.7 L1739.0,415.3 L1740.0,414.7 L1741.0,414.6 L1742.0,415.4 L1743.0,416.0 L1744.0,416.1 L1745.0,415.8 L1746.0,415.5 L1747.0,415.4 L1748.0,415.6 L1749.0,416.4 L1750.0,417.0 L1751.0,416.2 L1752.0,415.8 L1753.0,416.1 L1754.0,416.1 L1755.0,416.0 L1756.0,416.0 L1757.0,416.7 L1758.0,417.3 L1759.0,416.3 L1760.0,415.7 L1761.0,416.0 L1762.0,416.0 L1763.0,415.6 L1764.0,415.7 L1765.0,416.2 L1766.0,416.2 L1767.0,415.5 L1768.0,415.5 L1769.0,416.0 L1770.0,415.7 L1771.0,415.8 L1772.0,415.8 L1773.0,415.4 L1774.0,415.4 L1775.0,415.0 L1776.0,414.5 L1777.0,414.8 L1778.0,415.3 L1779.0,415.4 L1780.0,415.3 L1781.0,415.1 L1782.0,415.3 L1783.0,415.5 L1784.0,414.7 L1785.0,414.0 L1786.0,414.3 L1787.0,414.8 L1788.0,414.4 L1789.0,413.4 L1790.0,412.8 L1791.0,413.4 L1792.0,413.9 L1793.0,413.4 L1794.0,412.3 L1795.0,411.1 L1796.0,410.0 L1797.0,408.9 L1798.0,408.3 L1799.0,407.9 L1800.0,406.7 L1801.0,404.8 L1802.0,401.6 L1803.0,398.0 L1804.0,394.6 L1805.0,389.0 L1806.0,382.0 L1807.0,373.4 L1808.0,360.2 L1809.0,341.8 L1810.0,318.8 L1811.0,290.7 L1812.0,260.4 L1813.0,235.0 L1813.9,224.5 L1814.0,224.2 L1815.0,233.7 L1816.0,256.3 L1817.0,278.6 L1818.0,294.0 L1819.0,302.8 L1820.0,310.0 L1820.5,315.4 L1821.0,321.9 L1822.0,339.2 L1823.0,358.6 L1824.0,376.1 L1825.0,389.2 L1826.0,397.9 L1827.0,403.4 L1828.0,407.1 L1829.0,409.8 L1830.0,410.8 L1831.0,411.3 L1832.0,413.1 L1833.0,414.2 L1834.0,414.4 L1835.0,413.9 L1836.0,413.3 L1837.0,413.7 L1838.0,414.1 L1839.0,414.5 L1840.0,414.7 L1841.0,414.5 L1842.0,414.2 L1843.0,414.3 L1844.0,414.4 L1845.0,413.9 L1846.0,412.9 L1847.0,412.5 L1848.0,411.9 L1849.0,410.1 L1850.0,408.8 L1851.0,407.7 L1852.0,406.7 L1852.4,406.7 L1853.0,407.1 L1854.0,407.5 L1855.0,407.9 L1856.0,408.9 L1857.0,410.1 L1858.0,410.8 L1859.0,411.3 L1860.0,411.4 L1861.0,411.6 L1862.0,413.0 L1863.0,414.1 L1864.0,414.0 L1865.0,414.1 L1866.0,414.3 L1867.0,414.6 L1868.0,415.4 L1869.0,416.4 L1870.0,417.0 L1871.0,416.5 L1872.0,415.5 L1873.0,415.6 L1874.0,416.4" stroke="#000080" stroke-width="4.5"/>
<path class="c" d="M138.0,670.3 L139.0,669.9 L140.0,669.9 L141.0,670.3 L142.0,669.9 L143.0,669.9 L144.0,670.3 L145.0,669.9 L146.0,669.6 L147.0,670.0 L148.0,671.0 L149.0,671.5 L150.0,670.7 L151.0,670.2 L152.0,670.4 L153.0,670.4 L154.0,670.6 L155.0,670.8 L156.0,670.4 L157.0,670.2 L158.0,670.1 L159.0,670.3 L160.0,670.4 L161.0,670.1 L162.0,670.1 L163.0,670.2 L164.0,670.0 L165.0,669.6 L166.0,669.7 L167.0,670.1 L168.0,670.8 L169.0,670.9 L170.0,670.0 L171.0,670.1 L172.0,671.0 L173.0,671.2 L174.0,670.8 L175.0,670.3 L176.0,670.5 L177.0,670.7 L178.0,670.6 L179.0,670.4 L180.0,670.3 L181.0,671.1 L182.0,671.4 L183.0,670.8 L184.0,670.7 L185.0,670.5 L186.0,670.2 L187.0,670.6 L188.0,670.9 L189.0,670.5 L190.0,670.3 L191.0,670.5 L192.0,670.9 L193.0,671.0 L194.0,670.6 L195.0,670.6 L196.0,670.3 L197.0,669.7 L198.0,670.0 L199.0,670.4 L200.0,670.5 L201.0,670.2 L202.0,669.8 L203.0,670.0 L204.0,670.0 L205.0,669.9 L206.0,670.6 L207.0,670.8 L208.0,670.6 L209.0,670.6 L210.0,670.5 L211.0,670.2 L212.0,670.4 L213.0,670.4 L214.0,669.7 L215.0,670.1 L216.0,670.3 L217.0,669.8 L218.0,670.0 L219.0,670.6 L220.0,671.0 L221.0,671.1 L222.0,670.3 L223.0,670.1 L224.0,671.0 L225.0,671.1 L226.0,670.6 L227.0,670.6 L228.0,670.8 L229.0,670.8 L230.0,670.9 L231.0,670.7 L232.0,670.2 L233.0,670.5 L234.0,670.7 L235.0,670.6 L236.0,670.3 L237.0,669.9 L238.0,670.4 L239.0,670.5 L240.0,670.0 L241.0,670.2 L242.0,670.8 L243.0,671.6 L244.0,671.6 L245.0,670.6 L246.0,669.9 L247.0,669.7 L248.0,669.8 L249.0,669.7 L250.0,669.5 L251.0,669.6 L252.0,669.7 L253.0,669.6 L254.0,669.4 L255.0,669.9 L256.0,670.4 L257.0,669.6 L258.0,669.2 L259.0,669.7 L260.0,669.7 L261.0,669.9 L262.0,670.2 L263.0,670.3 L264.0,669.7 L265.0,669.3 L266.0,669.1 L267.0,668.6 L268.0,668.4 L269.0,668.4 L270.0,668.2 L271.0,668.5 L272.0,668.5 L273.0,668.1 L274.0,667.6 L275.0,667.6 L276.0,667.5 L277.0,666.6 L278.0,665.7 L279.0,665.1 L280.0,664.1 L281.0,664.0 L282.0,664.7 L283.0,664.0 L284.0,662.2 L285.0,660.2 L286.0,658.4 L287.0,656.4 L288.0,653.4 L289.0,649.6 L290.0,644.5 L291.0,638.4 L292.0,631.6 L293.0,622.6 L294.0,610.4 L295.0,595.5 L296.0,578.7 L297.0,561.3 L298.0,548.5 L298.9,544.8 L299.0,544.7 L300.0,559.0 L301.0,588.6 L302.0,617.5 L303.0,638.2 L304.0,652.2 L305.0,660.9 L306.0,665.0 L307.0,666.7 L308.0,667.5 L309.0,668.8 L310.0,669.9 L311.0,669.8 L312.0,669.9 L313.0,670.3 L314.0,670.4 L315.0,670.5 L316.0,671.3 L317.0,671.6 L318.0,671.1 L319.0,670.8 L320.0,671.1 L321.0,671.4 L322.0,671.0 L323.0,670.3 L324.0,670.5 L325.0,671.1 L326.0,671.4 L327.0,671.5 L328.0,671.2 L329.0,670.4 L330.0,670.1 L331.0,670.6 L332.0,671.4 L333.0,671.4 L334.0,671.4 L335.0,671.4 L336.0,670.8 L337.0,670.3 L338.0,670.5 L339.0,671.1 L340.0,671.7 L341.0,671.4 L342.0,670.8 L343.0,671.1 L344.0,671.1 L345.0,670.6 L346.0,670.3 L347.0,670.2 L348.0,670.6 L349.0,670.6 L350.0,670.2 L351.0,670.4 L352.0,670.8 L353.0,670.8 L354.0,671.1 L355.0,671.1 L356.0,670.7 L357.0,671.1 L358.0,671.8 L359.0,671.3 L360.0,670.7 L361.0,670.6 L362.0,670.7 L363.0,671.2 L364.0,671.6 L365.0,671.7 L366.0,671.6 L367.0,671.5 L368.0,671.5 L369.0,671.1 L370.0,670.6 L371.0,670.4 L372.0,670.1 L373.0,670.3 L374.0,670.9 L375.0,670.7 L376.0,670.4 L377.0,670.1 L378.0,669.9 L379.0,670.5 L380.0,670.8 L381.0,671.0 L382.0,671.1 L383.0,671.0 L384.0,671.1 L385.0,671.2 L386.0,670.9 L387.0,671.0 L388.0,671.2 L389.0,671.2 L390.0,670.6 L391.0,670.1 L392.0,670.7 L393.0,671.2 L394.0,671.1 L395.0,671.5 L396.0,671.9 L397.0,671.6 L398.0,671.2 L399.0,670.7 L400.0,670.4 L401.0,670.5 L402.0,670.6 L403.0,670.7 L404.0,670.6 L405.0,670.5 L406.0,670.1 L407.0,670.0 L408.0,670.3 L409.0,670.4 L410.0,670.5 L411.0,670.6 L412.0,671.0 L413.0,671.7 L414.0,672.0 L415.0,671.6 L416.0,671.4 L417.0,671.3 L418.0,670.4 L419.0,670.0 L420.0,670.8 L421.0,671.1 L422.0,671.0 L423.0,670.8 L424.0,670.2 L425.0,670.6 L426.0,671.6 L427.0,671.6 L428.0,671.4 L429.0,671.5 L430.0,671.0 L431.0,670.7 L432.0,670.9 L433.0,670.6 L434.0,670.7 L435.0,670.9 L436.0,671.1 L437.0,671.5 L438.0,671.3 L439.0,670.7 L440.0,670.7 L441.0,671.1 L442.0,671.0 L443.0,670.9 L444.0,671.3 L445.0,671.4 L446.0,671.2 L447.0,671.0 L448.0,670.3 L449.0,670.3 L450.0,670.9 L451.0,670.7 L452.0,670.5 L453.0,670.7 L454.0,670.9 L455.0,670.9 L456.0,670.6 L457.0,671.4 L458.0,672.4 L459.0,671.5 L460.0,670.6 L461.0,671.1 L462.0,671.8 L463.0,671.9 L464.0,671.4 L465.0,671.2 L466.0,671.8 L467.0,671.4 L468.0,670.8 L469.0,671.1 L470.0,671.5 L471.0,671.5 L472.0,671.4 L473.0,671.5 L474.0,671.6 L475.0,671.5 L476.0,671.2 L477.0,671.1 L478.0,671.3 L479.0,671.6 L480.0,671.8 L481.0,672.0 L482.0,671.8 L483.0,672.0 L484.0,672.2 L485.0,671.8 L486.0,671.3 L487.0,671.1 L488.0,671.5 L489.0,672.0 L490.0,672.0 L491.0,671.7 L492.0,670.8 L493.0,670.5 L494.0,670.8 L495.0,671.3 L496.0,672.3 L497.0,672.0 L498.0,671.0 L499.0,670.8 L500.0,671.1 L501.0,671.3 L502.0,671.5 L503.0,671.9 L504.0,672.0 L505.0,671.2 L506.0,670.9 L507.0,671.2 L508.0,671.6 L509.0,671.7 L510.0,671.6 L511.0,671.7 L512.0,671.5 L513.0,671.2 L514.0,671.2 L515.0,672.0 L516.0,672.6 L517.0,672.1 L518.0,671.6 L519.0,671.6 L520.0,671.2 L521.0,670.9 L522.0,671.5 L523.0,671.9 L524.0,671.3 L525.0,670.9 L526.0,671.7 L527.0,672.3 L528.0,672.3 L529.0,672.4 L530.0,672.8 L531.0,672.6 L532.0,671.9 L533.0,671.4 L534.0,671.3 L535.0,671.5 L536.0,671.5 L537.0,671.5 L538.0,671.8 L539.0,671.6 L540.0,671.4 L541.0,671.2 L542.0,670.5 L543.0,670.5 L544.0,671.1 L545.0,671.5 L546.0,671.6 L547.0,671.7 L548.0,671.6 L549.0,671.3 L550.0,671.4 L551.0,671.6 L552.0,671.6 L553.0,671.4 L554.0,671.1 L555.0,670.8 L556.0,671.3 L557.0,671.6 L558.0,670.9 L559.0,670.5 L560.0,671.1 L561.0,671.4 L562.0,671.0 L563.0,671.0 L564.0,671.3 L565.0,671.4 L566.0,671.7 L567.0,671.9 L568.0,671.6 L569.0,671.5 L570.0,671.7 L571.0,671.3 L572.0,670.8 L573.0,670.6 L574.0,671.2 L575.0,672.0 L576.0,671.9 L577.0,671.8 L578.0,671.6 L579.0,671.3 L580.0,671.4 L581.0,670.9 L582.0,670.4 L583.0,670.7 L584.0,670.9 L585.0,671.2 L586.0,672.0 L587.0,672.3 L588.0,671.7 L589.0,671.4 L590.0,671.6 L591.0,671.6 L592.0,671.2 L593.0,670.8 L594.0,670.8 L595.0,671.0 L596.0,670.8 L597.0,670.7 L598.0,671.1 L599.0,671.4 L600.0,671.5 L601.0,671.8 L602.0,671.4 L603.0,670.7 L604.0,671.0 L605.0,671.8 L606.0,671.9 L607.0,671.4 L608.0,671.4 L609.0,671.4 L610.0,671.4 L611.0,671.7 L612.0,671.5 L613.0,670.4 L614.0,670.3 L615.0,671.1 L616.0,671.7 L617.0,671.4 L618.0,670.8 L619.0,671.1 L620.0,671.7 L621.0,671.4 L622.0,671.2 L623.0,671.2 L624.0,670.9 L625.0,671.1 L626.0,671.3 L627.0,670.8 L628.0,670.5 L629.0,671.2 L630.0,671.9 L631.0,672.0 L632.0,671.9 L633.0,671.7 L634.0,671.7 L635.0,672.1 L636.0,672.3 L637.0,671.7 L638.0,671.2 L639.0,671.7 L640.0,671.6 L641.0,671.1 L642.0,671.1 L643.0,671.6 L644.0,672.1 L645.0,671.4 L646.0,670.8 L647.0,671.1 L648.0,671.6 L649.0,672.0 L650.0,671.5 L651.0,670.8 L652.0,670.8 L653.0,670.9 L654.0,670.9 L655.0,670.8 L656.0,670.7 L657.0,671.1 L658.0,671.1 L659.0,671.2 L660.0,672.1 L661.0,672.4 L662.0,672.1 L663.0,671.8 L664.0,671.3 L665.0,671.3 L666.0,671.5 L667.0,671.3 L668.0,671.1 L669.0,671.1 L670.0,671.3 L671.0,671.5 L672.0,672.2 L673.0,672.5 L674.0,671.8 L675.0,671.1 L676.0,670.4 L677.0,670.6 L678.0,671.4 L679.0,671.2 L680.0,671.1 L681.0,671.7 L682.0,672.1 L683.0,672.3 L684.0,672.4 L685.0,671.6 L686.0,670.9 L687.0,671.4 L688.0,671.6 L689.0,671.3 L690.0,671.3 L691.0,671.7 L692.0,672.1 L693.0,671.5 L694.0,671.1 L695.0,671.1 L696.0,671.1 L697.0,671.6 L698.0,671.8 L699.0,671.3 L700.0,671.2 L701.0,671.7 L702.0,672.3 L703.0,671.9 L704.0,671.0 L705.0,670.9 L706.0,671.4 L707.0,671.5 L708.0,671.5 L709.0,671.6 L710.0,671.9 L711.0,672.2 L712.0,672.1 L713.0,671.8 L714.0,671.6 L715.0,671.6 L716.0,672.0 L717.0,672.0 L718.0,671.7 L719.0,671.6 L720.0,672.0 L721.0,672.5 L722.0,672.2 L723.0,671.9 L724.0,671.8 L725.0,671.5 L726.0,671.5 L727.0,671.7 L728.0,671.8 L729.0,672.1 L730.0,672.3 L731.0,672.1 L732.0,671.7 L733.0,671.4 L734.0,671.3 L735.0,671.0 L736.0,671.0 L737.0,671.6 L738.0,671.8 L739.0,671.3 L740.0,670.8 L741.0,670.3 L742.0,670.5 L743.0,671.4 L744.0,672.2 L745.0,672.1 L746.0,671.7 L747.0,671.3 L748.0,671.6 L749.0,671.9 L750.0,672.2 L751.0,672.2 L752.0,671.8 L753.0,671.9 L754.0,672.2 L755.0,672.1 L756.0,671.4 L757.0,670.8 L758.0,671.3 L759.0,672.1 L760.0,672.2 L761.0,672.2 L762.0,671.9 L763.0,672.0 L764.0,672.3 L765.0,672.3 L766.0,672.3 L767.0,672.6 L768.0,672.9 L769.0,672.3 L770.0,671.4 L771.0,671.3 L772.0,671.5 L773.0,671.3 L774.0,671.4 L775.0,671.8 L776.0,671.7 L777.0,671.2 L778.0,670.8 L779.0,671.1 L780.0,671.5 L781.0,671.6 L782.0,672.4 L783.0,672.8 L784.0,671.8 L785.0,671.7 L786.0,672.5 L787.0,672.4 L788.0,671.6 L789.0,671.4 L790.0,672.0 L791.0,672.4 L792.0,672.4 L793.0,671.8 L794.0,671.6 L795.0,671.7 L796.0,672.0 L797.0,672.4 L798.0,672.3 L799.0,671.8 L800.0,671.7 L801.0,672.0 L802.0,672.2 L803.0,671.8 L804.0,671.3 L805.0,671.5 L806.0,672.0 L807.0,672.5 L808.0,672.9 L809.0,672.7 L810.0,672.2 L811.0,671.9 L812.0,672.0 L813.0,671.8 L814.0,671.7 L815.0,672.0 L816.0,672.3 L817.0,672.1 L818.0,671.4 L819.0,671.2 L820.0,671.6 L821.0,671.8 L822.0,671.9 L823.0,671.5 L824.0,671.1 L825.0,671.5 L826.0,672.3 L827.0,672.1 L828.0,671.7 L829.0,671.6 L830.0,671.8 L831.0,672.2 L832.0,672.1 L833.0,672.1 L834.0,672.1 L835.0,671.8 L836.0,672.3 L837.0,672.4 L838.0,671.7 L839.0,671.4 L840.0,670.9 L841.0,670.5 L842.0,671.1 L843.0,672.0 L844.0,672.1 L845.0,671.6 L846.0,671.2 L847.0,671.2 L848.0,671.2 L849.0,670.8 L850.0,670.5 L851.0,671.1 L852.0,672.0 L853.0,672.6 L854.0,672.3 L855.0,671.6 L856.0,671.6 L857.0,671.5 L858.0,670.8 L859.0,670.2 L860.0,670.5 L861.0,671.0 L862.0,671.0 L863.0,670.6 L864.0,670.4 L865.0,670.5 L866.0,670.7 L867.0,670.7 L868.0,670.4 L869.0,670.0 L870.0,669.7 L871.0,669.6 L872.0,669.0 L873.0,668.1 L874.0,667.8 L875.0,667.3 L876.0,666.4 L877.0,665.7 L878.0,664.6 L879.0,662.8 L880.0,660.7 L881.0,658.5 L882.0,655.5 L883.0,651.0 L884.0,645.5 L885.0,638.8 L886.0,630.6 L887.0,620.6 L888.0,609.3 L889.0,597.5 L890.0,587.6 L891.0,582.7 L891.3,582.9 L892.0,585.5 L893.0,594.0 L894.0,605.3 L895.0,616.8 L896.0,628.0 L897.0,638.1 L898.0,645.4 L899.0,650.4 L900.0,654.3 L901.0,656.3 L902.0,656.4 L903.0,655.7 L904.0,654.5 L905.0,651.4 L906.0,646.3 L907.0,640.6 L908.0,635.9 L909.0,633.7 L909.4,633.8 L910.0,635.0 L911.0,638.9 L912.0,644.6 L913.0,650.7 L914.0,655.6 L915.0,659.2 L916.0,662.6 L917.0,665.2 L918.0,666.6 L919.0,667.5 L920.0,668.8 L921.0,669.9 L922.0,669.8 L923.0,669.7 L924.0,670.5 L925.0,671.5 L926.0,671.8 L927.0,671.5 L928.0,671.5 L929.0,671.4 L930.0,672.0 L931.0,673.0 L932.0,672.7 L933.0,671.8 L934.0,671.3 L935.0,671.3 L936.0,670.9 L937.0,671.0 L938.0,671.9 L939.0,672.4 L940.0,672.4 L941.0,672.2 L942.0,671.9 L943.0,672.1 L944.0,672.0 L945.0,672.1 L946.0,672.6 L947.0,673.0 L948.0,673.2 L949.0,672.6 L950.0,671.8 L951.0,671.7 L952.0,671.8 L953.0,671.6 L954.0,671.4 L955.0,671.9 L956.0,672.3 L957.0,671.9 L958.0,671.7 L959.0,671.7 L960.0,671.3 L961.0,671.6 L962.0,672.4 L963.0,672.9 L964.0,672.6 L965.0,672.1 L966.0,672.2 L967.0,672.7 L968.0,673.0 L969.0,672.4 L970.0,671.9 L971.0,672.1 L972.0,672.0 L973.0,672.0 L974.0,672.3 L975.0,672.5 L976.0,672.4 L977.0,672.0 L978.0,671.4 L979.0,671.4 L980.0,671.6 L981.0,671.7 L982.0,672.0 L983.0,671.6 L984.0,671.2 L985.0,671.4 L986.0,671.4 L987.0,671.3 L988.0,671.2 L989.0,671.0 L990.0,669.7 L991.0,668.3 L992.0,667.6 L993.0,667.5 L994.0,667.8 L995.0,667.3 L996.0,665.2 L997.0,663.0 L998.0,661.2 L999.0,658.4 L1000.0,654.3 L1001.0,649.5 L1002.0,643.3 L1003.0,636.3 L1004.0,629.7 L1005.0,624.0 L1006.0,621.1 L1006.2,621.5 L1007.0,623.9 L1008.0,629.7 L1009.0,636.6 L1010.0,643.3 L1011.0,649.8 L1012.0,655.5 L1013.0,659.6 L1014.0,662.4 L1015.0,664.2 L1016.0,665.5 L1017.0,667.0 L1018.0,668.5 L1019.0,669.2 L1020.0,669.2 L1021.0,669.6 L1022.0,669.7 L1023.0,669.4 L1024.0,669.5 L1025.0,669.5 L1026.0,669.1 L1027.0,669.0 L1028.0,668.5 L1029.0,667.7 L1030.0,666.6 L1031.0,665.4 L1032.0,664.6 L1033.0,663.2 L1034.0,660.9 L1035.0,658.2 L1036.0,654.8 L1037.0,649.6 L1038.0,642.7 L1039.0,633.8 L1040.0,621.2 L1041.0,603.4 L1042.0,579.8 L1043.0,550.5 L1044.0,516.9 L1045.0,485.7 L1046.0,466.8 L1046.4,464.4 L1047.0,468.4 L1048.0,492.0 L1049.0,526.4 L1050.0,561.2 L1051.0,591.1 L1052.0,613.2 L1053.0,627.6 L1054.0,636.6 L1055.0,642.5 L1056.0,646.6 L1057.0,648.8 L1058.0,649.7 L1059.0,650.4 L1059.6,650.6 L1060.0,651.1 L1061.0,652.7 L1062.0,654.5 L1063.0,656.6 L1064.0,658.3 L1065.0,659.3 L1066.0,659.9 L1067.0,660.8 L1068.0,661.3 L1069.0,661.1 L1070.0,660.9 L1071.0,661.4 L1072.0,662.1 L1073.0,662.2 L1074.0,662.3 L1075.0,663.4 L1076.0,664.6 L1077.0,664.8 L1078.0,664.9 L1079.0,665.7 L1080.0,666.3 L1081.0,666.3 L1082.0,666.1 L1083.0,666.0 L1084.0,666.1 L1085.0,666.4 L1086.0,665.8 L1087.0,664.5 L1088.0,664.0 L1089.0,663.6 L1090.0,662.8 L1091.0,662.7 L1091.7,662.9 L1092.0,662.9 L1093.0,663.0 L1094.0,663.3 L1095.0,664.2 L1096.0,665.3 L1097.0,665.9 L1098.0,666.7 L1099.0,667.9 L1100.0,668.9 L1101.0,669.4 L1102.0,669.4 L1103.0,669.5 L1104.0,670.7 L1105.0,671.6 L1106.0,671.8 L1107.0,671.8 L1108.0,671.7 L1109.0,671.3 L1110.0,671.1 L1111.0,671.3 L1112.0,671.7 L1113.0,672.2 L1114.0,672.1 L1115.0,671.5 L1116.0,671.3 L1117.0,671.5 L1118.0,671.8 L1119.0,671.9 L1120.0,671.6 L1121.0,671.2 L1122.0,670.4 L1123.0,670.4 L1124.0,670.9 L1125.0,670.3 L1126.0,669.5 L1127.0,668.9 L1128.0,667.8 L1129.0,666.7 L1130.0,665.4 L1131.0,663.7 L1132.0,661.1 L1133.0,657.8 L1134.0,653.8 L1135.0,648.8 L1136.0,643.0 L1137.0,636.6 L1138.0,630.6 L1139.0,626.6 L1139.7,625.3 L1140.0,625.5 L1141.0,629.1 L1142.0,635.8 L1143.0,643.1 L1144.0,649.5 L1145.0,655.0 L1146.0,659.5 L1147.0,663.1 L1148.0,665.8 L1149.0,668.1 L1150.0,669.1 L1151.0,669.0 L1152.0,669.5 L1153.0,670.6 L1154.0,671.5 L1155.0,671.8 L1156.0,671.9 L1157.0,672.0 L1158.0,671.8 L1159.0,671.9 L1160.0,672.0 L1161.0,672.2 L1162.0,672.6 L1163.0,672.2 L1164.0,671.9 L1165.0,672.0 L1166.0,671.8 L1167.0,672.0 L1168.0,672.7 L1169.0,673.7 L1170.0,674.1 L1171.0,673.1 L1172.0,672.2 L1173.0,672.7 L1174.0,672.8 L1175.0,672.5 L1176.0,673.0 L1177.0,673.5 L1178.0,673.1 L1179.0,672.4 L1180.0,672.1 L1181.0,671.9 L1182.0,672.2 L1183.0,672.7 L1184.0,672.9 L1185.0,672.1 L1186.0,671.9 L1187.0,672.7 L1188.0,673.0 L1189.0,672.7 L1190.0,672.9 L1191.0,673.3 L1192.0,673.3 L1193.0,673.2 L1194.0,672.8 L1195.0,672.5 L1196.0,672.9 L1197.0,672.9 L1198.0,672.5 L1199.0,672.5 L1200.0,672.5 L1201.0,672.5 L1202.0,672.6 L1203.0,672.4 L1204.0,672.6 L1205.0,673.5 L1206.0,673.9 L1207.0,673.8 L1208.0,673.5 L1209.0,673.4 L1210.0,673.5 L1211.0,673.7 L1212.0,673.7 L1213.0,673.3 L1214.0,673.0 L1215.0,673.2 L1216.0,673.1 L1217.0,672.2 L1218.0,672.0 L1219.0,672.1 L1220.0,672.4 L1221.0,673.1 L1222.0,673.3 L1223.0,673.2 L1224.0,673.2 L1225.0,672.7 L1226.0,672.6 L1227.0,672.9 L1228.0,673.1 L1229.0,672.7 L1230.0,672.6 L1231.0,673.3 L1232.0,673.7 L1233.0,673.1 L1234.0,672.7 L1235.0,672.5 L1236.0,672.5 L1237.0,672.6 L1238.0,673.1 L1239.0,673.7 L1240.0,673.3 L1241.0,672.9 L1242.0,672.8 L1243.0,672.7 L1244.0,673.2 L1245.0,673.1 L1246.0,672.5 L1247.0,672.4 L1248.0,672.9 L1249.0,673.7 L1250.0,673.4 L1251.0,672.5 L1252.0,672.5 L1253.0,672.8 L1254.0,672.8 L1255.0,673.0 L1256.0,672.9 L1257.0,672.6 L1258.0,673.2 L1259.0,673.8 L1260.0,673.5 L1261.0,673.1 L1262.0,672.7 L1263.0,672.6 L1264.0,672.6 L1265.0,672.1 L1266.0,672.0 L1267.0,672.5 L1268.0,672.4 L1269.0,672.3 L1270.0,672.3 L1271.0,672.2 L1272.0,672.0 L1273.0,671.6 L1274.0,671.2 L1275.0,671.0 L1276.0,670.7 L1277.0,670.4 L1277.5,670.3 L1278.0,670.2 L1279.0,670.6 L1280.0,671.3 L1281.0,671.3 L1282.0,670.8 L1283.0,670.6 L1284.0,671.5 L1285.0,672.4 L1286.0,672.5 L1287.0,672.7 L1288.0,672.7 L1289.0,672.3 L1290.0,672.4 L1291.0,673.0 L1292.0,673.5 L1293.0,673.6 L1294.0,673.1 L1295.0,672.7 L1296.0,672.6 L1297.0,672.4 L1298.0,672.5 L1299.0,672.8 L1300.0,672.8 L1301.0,673.0 L1302.0,673.3 L1303.0,673.5 L1304.0,673.4 L1305.0,673.4 L1306.0,673.7 L1307.0,673.6 L1308.0,673.1 L1309.0,672.7 L1310.0,672.8 L1311.0,672.5 L1312.0,672.0 L1313.0,671.9 L1314.0,672.3 L1315.0,672.7 L1316.0,672.6 L1317.0,672.6 L1318.0,672.7 L1319.0,672.7 L1320.0,673.0 L1321.0,672.9 L1322.0,672.4 L1323.0,672.6 L1324.0,672.7 L1325.0,672.4 L1326.0,672.9 L1327.0,673.6 L1328.0,673.4 L1329.0,673.1 L1330.0,673.4 L1331.0,673.1 L1332.0,672.6 L1333.0,672.7 L1334.0,673.0 L1335.0,673.2 L1336.0,673.3 L1337.0,673.2 L1338.0,673.0 L1339.0,672.8 L1340.0,672.8 L1341.0,673.0 L1342.0,673.2 L1343.0,673.1 L1344.0,673.0 L1345.0,673.8 L1346.0,674.2 L1347.0,673.8 L1348.0,673.5 L1349.0,673.2 L1350.0,673.3 L1351.0,673.8 L1352.0,674.2 L1353.0,674.2 L1354.0,673.4 L1355.0,673.4 L1356.0,674.0 L1357.0,673.8 L1358.0,673.1 L1359.0,673.2 L1360.0,673.9 L1361.0,673.7 L1362.0,673.2 L1363.0,672.7 L1364.0,672.6 L1365.0,673.5 L1366.0,673.9 L1367.0,673.1 L1368.0,672.7 L1369.0,672.5 L1370.0,672.9 L1371.0,673.5 L1372.0,673.7 L1373.0,673.2 L1374.0,672.6 L1375.0,673.0 L1376.0,673.9 L1377.0,673.6 L1378.0,673.2 L1379.0,673.2 L1380.0,673.1 L1381.0,673.1 L1382.0,672.9 L1383.0,672.5 L1384.0,672.9 L1385.0,673.8 L1386.0,674.0 L1387.0,673.8 L1388.0,673.7 L1389.0,673.2 L1390.0,672.9 L1391.0,673.4 L1392.0,673.8 L1393.0,673.5 L1394.0,672.9 L1395.0,672.7 L1396.0,673.4 L1397.0,673.6 L1398.0,673.3 L1399.0,673.1 L1400.0,673.0 L1401.0,672.7 L1402.0,672.5 L1403.0,672.8 L1404.0,673.1 L1405.0,673.2 L1406.0,673.1 L1407.0,672.9 L1408.0,672.7 L1409.0,673.3 L1410.0,673.8 L1411.0,673.2 L1412.0,673.0 L1413.0,673.0 L1414.0,672.6 L1415.0,671.8 L1416.0,671.0 L1417.0,671.2 L1418.0,671.8 L1419.0,671.6 L1420.0,671.6 L1421.0,671.6 L1422.0,671.2 L1423.0,671.7 L1424.0,671.8 L1425.0,671.2 L1426.0,671.7 L1427.0,672.3 L1428.0,672.3 L1429.0,672.5 L1430.0,673.0 L1431.0,673.1 L1432.0,673.1 L1433.0,673.1 L1434.0,673.3 L1435.0,673.8 L1436.0,674.3 L1437.0,673.7 L1438.0,673.2 L1439.0,673.4 L1440.0,674.2 L1441.0,674.4 L1442.0,673.6 L1443.0,673.4 L1444.0,673.9 L1445.0,673.8 L1446.0,673.0 L1447.0,672.7 L1448.0,673.4 L1449.0,673.8 L1450.0,673.8 L1451.0,673.7 L1452.0,673.7 L1453.0,673.8 L1454.0,673.5 L1455.0,673.5 L1456.0,673.6 L1457.0,672.9 L1458.0,672.4 L1459.0,672.8 L1460.0,673.1 L1461.0,673.1 L1462.0,673.1 L1463.0,673.2 L1464.0,672.8 L1465.0,672.8 L1466.0,673.1 L1467.0,673.0 L1468.0,672.7 L1469.0,672.3 L1470.0,672.0 L1471.0,671.2 L1472.0,670.0 L1473.0,669.6 L1474.0,669.3 L1475.0,668.6 L1476.0,668.1 L1477.0,668.0 L1478.0,668.1 L1479.0,668.2 L1480.0,669.1 L1481.0,670.1 L1482.0,670.2 L1483.0,669.5 L1484.0,668.3 L1485.0,667.2 L1486.0,665.8 L1487.0,664.6 L1488.0,664.3 L1489.0,664.6 L1490.0,665.5 L1491.0,666.4 L1492.0,667.0 L1493.0,667.5 L1494.0,668.8 L1495.0,670.3 L1496.0,671.1 L1497.0,671.4 L1498.0,671.6 L1499.0,671.7 L1500.0,671.4 L1501.0,671.1 L1502.0,670.9 L1503.0,670.0 L1504.0,669.5 L1505.0,669.4 L1506.0,668.3 L1507.0,666.4 L1508.0,665.0 L1509.0,663.6 L1510.0,661.0 L1511.0,659.3 L1512.0,658.8 L1513.0,657.7 L1513.6,656.9 L1514.0,656.4 L1515.0,657.2 L1516.0,658.9 L1517.0,660.7 L1518.0,662.6 L1519.0,664.4 L1520.0,665.9 L1521.0,667.5 L1522.0,668.8 L1523.0,669.3 L1524.0,669.0 L1525.0,669.2 L1526.0,669.9 L1527.0,669.7 L1528.0,668.6 L1529.0,667.7 L1530.0,666.7 L1531.0,665.1 L1532.0,664.8 L1533.0,665.0 L1534.0,664.8 L1535.0,665.1 L1536.0,665.2 L1537.0,665.9 L1538.0,667.4 L1539.0,667.8 L1540.0,667.9 L1541.0,668.5 L1542.0,669.0 L1543.0,669.5 L1544.0,670.7 L1545.0,671.4 L1546.0,671.6 L1547.0,672.0 L1548.0,671.6 L1549.0,671.0 L1550.0,671.2 L1551.0,671.7 L1552.0,672.1 L1553.0,672.0 L1554.0,671.2 L1555.0,670.8 L1556.0,670.5 L1557.0,669.8 L1558.0,668.6 L1559.0,667.5 L1560.0,667.4 L1561.0,667.7 L1562.0,667.1 L1563.0,666.3 L1564.0,666.2 L1565.0,667.1 L1566.0,668.0 L1567.0,667.9 L1568.0,668.1 L1569.0,668.9 L1570.0,669.5 L1571.0,670.5 L1572.0,671.7 L1573.0,671.7 L1574.0,671.1 L1575.0,671.5 L1576.0,672.1 L1577.0,672.0 L1578.0,671.7 L1579.0,671.3 L1580.0,671.1 L1581.0,670.9 L1582.0,670.5 L1583.0,669.7 L1584.0,668.9 L1585.0,668.7 L1586.0,668.6 L1587.0,668.1 L1587.6,667.4 L1588.0,667.5 L1589.0,667.9 L1590.0,668.4 L1591.0,668.9 L1592.0,670.0 L1593.0,671.2 L1594.0,672.1 L1595.0,672.3 L1596.0,671.5 L1597.0,670.7 L1598.0,671.5 L1599.0,672.3 L1600.0,672.4 L1601.0,672.6 L1602.0,672.4 L1603.0,672.1 L1604.0,672.0 L1605.0,671.6 L1606.0,671.0 L1607.0,670.6 L1608.0,670.3 L1609.0,669.7 L1610.0,669.8 L1611.0,670.3 L1612.0,670.4 L1613.0,670.7 L1614.0,671.2 L1615.0,671.5 L1616.0,671.7 L1617.0,671.7 L1618.0,672.3 L1619.0,673.6 L1620.0,673.9 L1621.0,673.1 L1622.0,672.2 L1623.0,672.3 L1624.0,672.9 L1625.0,673.1 L1626.0,673.2 L1627.0,673.5 L1628.0,673.7 L1629.0,674.0 L1630.0,673.9 L1631.0,673.2 L1632.0,672.9 L1633.0,673.2 L1634.0,673.6 L1635.0,673.5 L1636.0,673.1 L1637.0,673.0 L1638.0,673.4 L1639.0,673.6 L1640.0,673.5 L1641.0,673.1 L1642.0,673.1 L1643.0,673.7 L1644.0,673.8 L1645.0,673.5 L1646.0,673.6 L1647.0,673.8 L1648.0,673.4 L1649.0,673.0 L1650.0,672.9 L1651.0,673.1 L1652.0,673.5 L1653.0,673.3 L1654.0,673.0 L1655.0,673.2 L1656.0,673.4 L1657.0,673.4 L1658.0,673.4 L1659.0,673.2 L1660.0,672.8 L1661.0,673.0 L1662.0,673.8 L1663.0,673.7 L1664.0,673.1 L1665.0,673.4 L1666.0,673.9 L1667.0,673.8 L1668.0,673.5 L1669.0,673.7 L1670.0,673.7 L1671.0,673.1 L1672.0,673.2 L1673.0,673.8 L1674.0,673.9 L1675.0,673.9 L1676.0,673.6 L1677.0,673.1 L1678.0,673.4 L1679.0,673.7 L1680.0,673.7 L1681.0,673.6 L1682.0,673.3 L1683.0,673.2 L1684.0,673.3 L1685.0,672.9 L1686.0,672.5 L1687.0,672.3 L1688.0,672.7 L1689.0,673.2 L1690.0,673.3 L1691.0,673.4 L1692.0,673.4 L1693.0,673.4 L1694.0,673.8 L1695.0,673.7 L1696.0,673.2 L1697.0,673.1 L1698.0,673.4 L1699.0,674.0 L1700.0,673.6 L1701.0,673.4 L1702.0,674.0 L1703.0,674.1 L1704.0,674.3 L1705.0,674.3 L1706.0,674.2 L1707.0,674.2 L1708.0,673.7 L1709.0,673.6 L1710.0,673.4 L1711.0,672.7 L1712.0,672.9 L1713.0,673.6 L1714.0,673.8 L1715.0,673.7 L1716.0,673.6 L1717.0,673.6 L1718.0,674.0 L1719.0,674.0 L1720.0,673.5 L1721.0,673.4 L1722.0,673.4 L1723.0,673.3 L1724.0,673.6 L1725.0,674.1 L1726.0,674.2 L1727.0,673.6 L1728.0,673.1 L1729.0,673.5 L1730.0,674.1 L1731.0,673.8 L1732.0,673.4 L1733.0,673.6 L1734.0,673.9 L1735.0,673.3 L1736.0,672.6 L1737.0,672.9 L1738.0,673.2 L1739.0,673.0 L1740.0,673.4 L1741.0,674.2 L1742.0,674.9 L1743.0,674.7 L1744.0,673.7 L1745.0,673.0 L1746.0,673.1 L1747.0,672.8 L1748.0,673.1 L1749.0,673.6 L1750.0,673.6 L1751.0,673.7 L1752.0,673.9 L1753.0,673.9 L1754.0,673.6 L1755.0,673.7 L1756.0,674.2 L1757.0,674.2 L1758.0,673.8 L1759.0,673.7 L1760.0,673.7 L1761.0,673.7 L1762.0,673.7 L1763.0,673.2 L1764.0,672.4 L1765.0,672.3 L1766.0,673.2 L1767.0,674.3 L1768.0,674.2 L1769.0,673.3 L1770.0,672.8 L1771.0,672.9 L1772.0,673.3 L1773.0,673.6 L1774.0,672.9 L1775.0,672.4 L1776.0,672.4 L1777.0,672.8 L1778.0,673.4 L1779.0,673.2 L1780.0,672.9 L1781.0,672.5 L1782.0,672.1 L1783.0,672.5 L1784.0,672.8 L1785.0,672.5 L1786.0,672.4 L1787.0,672.2 L1788.0,672.2 L1789.0,672.2 L1790.0,671.9 L1791.0,671.7 L1792.0,671.5 L1793.0,671.0 L1794.0,670.4 L1795.0,670.0 L1796.0,670.0 L1797.0,669.9 L1798.0,669.4 L1799.0,668.5 L1800.0,667.0 L1801.0,665.5 L1802.0,664.5 L1803.0,663.0 L1804.0,660.7 L1805.0,657.7 L1806.0,653.5 L1807.0,647.2 L1808.0,639.1 L1809.0,629.9 L1810.0,617.2 L1811.0,600.2 L1812.0,580.7 L1813.0,562.3 L1814.0,551.6 L1814.2,550.5 L1815.0,553.7 L1816.0,566.8 L1817.0,581.8 L1818.0,593.0 L1819.0,600.4 L1820.0,607.1 L1820.5,611.5 L1821.0,616.4 L1822.0,628.0 L1823.0,639.6 L1824.0,649.4 L1825.0,657.1 L1826.0,662.4 L1827.0,665.8 L1828.0,668.0 L1829.0,669.5 L1830.0,670.2 L1831.0,670.4 L1832.0,671.1 L1833.0,671.9 L1834.0,672.2 L1835.0,672.5 L1836.0,672.5 L1837.0,672.5 L1838.0,673.1 L1839.0,673.1 L1840.0,672.7 L1841.0,672.3 L1842.0,672.0 L1843.0,671.9 L1844.0,672.0 L1845.0,671.6 L1846.0,670.8 L1847.0,670.1 L1848.0,670.0 L1849.0,669.8 L1850.0,668.2 L1851.0,666.0 L1852.0,665.2 L1853.0,665.4 L1854.0,665.4 L1855.0,665.8 L1856.0,666.7 L1857.0,667.8 L1858.0,668.6 L1859.0,668.8 L1860.0,669.0 L1861.0,669.3 L1862.0,669.4 L1863.0,670.3 L1864.0,671.7 L1865.0,672.1 L1866.0,671.9 L1867.0,672.2 L1868.0,672.7 L1869.0,672.9 L1870.0,672.9 L1871.0,673.1 L1872.0,673.3 L1873.0,673.0 L1874.0,673.2" stroke="#008000" stroke-width="4.5"/>
<path class="c" d="M138.0,844.9 L139.0,844.6 L140.0,843.8 L141.0,843.3 L142.0,843.5 L143.0,843.9 L144.0,843.9 L145.0,843.8 L146.0,843.9 L147.0,843.6 L148.0,843.7 L149.0,844.4 L150.0,845.0 L151.0,845.0 L152.0,844.4 L153.0,843.9 L154.0,843.5 L155.0,843.6 L156.0,844.0 L157.0,843.7 L158.0,843.4 L159.0,844.1 L160.0,844.8 L161.0,844.3 L162.0,843.7 L163.0,843.8 L164.0,844.2 L165.0,844.1 L166.0,843.8 L167.0,844.1 L168.0,844.8 L169.0,844.9 L170.0,844.0 L171.0,843.5 L172.0,843.3 L173.0,842.9 L174.0,843.1 L175.0,843.8 L176.0,844.4 L177.0,844.1 L178.0,843.7 L179.0,844.1 L180.0,843.8 L181.0,843.3 L182.0,843.5 L183.0,843.7 L184.0,843.8 L185.0,843.6 L186.0,843.3 L187.0,843.9 L188.0,844.8 L189.0,845.0 L190.0,845.1 L191.0,845.2 L192.0,844.8 L193.0,844.3 L194.0,844.0 L195.0,843.6 L196.0,843.3 L197.0,843.6 L198.0,844.6 L199.0,845.0 L200.0,844.8 L201.0,844.8 L202.0,844.4 L203.0,844.2 L204.0,844.1 L205.0,844.0 L206.0,844.6 L207.0,844.9 L208.0,844.4 L209.0,844.4 L210.0,844.7 L211.0,845.0 L212.0,845.0 L213.0,844.8 L214.0,844.7 L215.0,844.2 L216.0,844.0 L217.0,844.3 L218.0,844.0 L219.0,844.2 L220.0,844.4 L221.0,844.1 L222.0,844.4 L223.0,844.8 L224.0,844.3 L225.0,843.3 L226.0,842.7 L227.0,843.2 L228.0,843.7 L229.0,843.7 L230.0,843.8 L231.0,844.1 L232.0,844.1 L233.0,844.2 L234.0,844.3 L235.0,844.0 L236.0,844.4 L237.0,845.2 L238.0,844.7 L239.0,843.8 L240.0,844.0 L241.0,844.6 L242.0,844.8 L243.0,844.3 L244.0,843.8 L245.0,843.8 L246.0,844.3 L247.0,844.2 L248.0,843.9 L249.0,843.8 L250.0,843.9 L251.0,844.0 L252.0,843.9 L253.0,844.1 L254.0,844.4 L255.0,844.0 L256.0,843.8 L257.0,844.0 L258.0,843.8 L259.0,843.5 L260.0,843.0 L261.0,842.7 L262.0,843.2 L263.0,843.5 L264.0,843.3 L265.0,843.0 L266.0,842.6 L267.0,842.3 L268.0,842.8 L269.0,843.3 L270.0,842.8 L271.0,842.0 L272.0,841.6 L273.0,841.0 L274.0,840.6 L275.0,840.4 L276.0,839.2 L277.0,837.9 L278.0,837.3 L279.0,836.7 L280.0,835.8 L281.0,834.1 L282.0,831.7 L283.0,829.1 L284.0,825.7 L285.0,821.2 L286.0,815.8 L287.0,808.5 L288.0,799.5 L289.0,789.2 L290.0,777.8 L291.0,767.3 L292.0,760.4 L292.8,758.3 L293.0,758.3 L294.0,764.0 L295.0,776.2 L296.0,790.6 L297.0,804.0 L298.0,815.2 L299.0,823.5 L300.0,830.0 L301.0,835.2 L302.0,837.6 L303.0,839.2 L304.0,841.0 L305.0,841.9 L306.0,842.8 L307.0,843.5 L308.0,843.4 L309.0,843.4 L310.0,843.7 L311.0,843.7 L312.0,843.4 L313.0,843.5 L314.0,844.4 L315.0,845.0 L316.0,845.4 L317.0,845.6 L318.0,845.2 L319.0,844.6 L320.0,844.1 L321.0,843.7 L322.0,843.7 L323.0,844.2 L324.0,844.8 L325.0,844.9 L326.0,844.5 L327.0,844.1 L328.0,844.0 L329.0,844.5 L330.0,844.9 L331.0,844.9 L332.0,845.0 L333.0,845.7 L334.0,845.7 L335.0,844.9 L336.0,844.5 L337.0,844.6 L338.0,844.8 L339.0,844.9 L340.0,845.2 L341.0,845.5 L342.0,845.8 L343.0,845.6 L344.0,845.1 L345.0,844.9 L346.0,844.7 L347.0,844.9 L348.0,845.4 L349.0,845.5 L350.0,845.5 L351.0,845.2 L352.0,845.1 L353.0,845.4 L354.0,845.2 L355.0,845.0 L356.0,844.8 L357.0,844.6 L358.0,844.6 L359.0,844.9 L360.0,845.4 L361.0,845.5 L362.0,845.0 L363.0,844.2 L364.0,844.5 L365.0,845.1 L366.0,845.1 L367.0,845.4 L368.0,845.4 L369.0,845.0 L370.0,845.6 L371.0,846.2 L372.0,845.7 L373.0,845.0 L374.0,844.9 L375.0,844.7 L376.0,844.4 L377.0,845.1 L378.0,846.1 L379.0,846.0 L380.0,845.7 L381.0,845.9 L382.0,846.1 L383.0,846.0 L384.0,846.2 L385.0,845.9 L386.0,845.6 L387.0,845.3 L388.0,844.3 L389.0,844.4 L390.0,844.8 L391.0,844.7 L392.0,844.7 L393.0,844.6 L394.0,845.2 L395.0,846.1 L396.0,845.8 L397.0,845.4 L398.0,845.5 L399.0,845.4 L400.0,845.4 L401.0,845.7 L402.0,845.5 L403.0,845.0 L404.0,845.1 L405.0,845.0 L406.0,844.8 L407.0,845.1 L408.0,845.3 L409.0,845.7 L410.0,845.8 L411.0,845.5 L412.0,845.4 L413.0,845.1 L414.0,844.6 L415.0,844.6 L416.0,844.9 L417.0,845.1 L418.0,845.3 L419.0,845.2 L420.0,845.3 L421.0,846.2 L422.0,846.4 L423.0,845.5 L424.0,845.2 L425.0,845.5 L426.0,846.1 L427.0,845.9 L428.0,844.9 L429.0,844.5 L430.0,844.4 L431.0,844.2 L432.0,844.4 L433.0,844.8 L434.0,845.1 L435.0,845.7 L436.0,845.6 L437.0,844.8 L438.0,844.5 L439.0,845.0 L440.0,845.5 L441.0,844.8 L442.0,844.4 L443.0,845.0 L444.0,845.2 L445.0,845.4 L446.0,845.8 L447.0,845.7 L448.0,845.3 L449.0,845.0 L450.0,845.0 L451.0,844.7 L452.0,844.4 L453.0,844.5 L454.0,844.6 L455.0,844.6 L456.0,845.1 L457.0,845.8 L458.0,846.0 L459.0,845.9 L460.0,845.5 L461.0,844.5 L462.0,844.0 L463.0,844.9 L464.0,845.6 L465.0,845.7 L466.0,845.8 L467.0,845.5 L468.0,844.9 L469.0,845.5 L470.0,846.0 L471.0,845.1 L472.0,844.3 L473.0,844.7 L474.0,845.2 L475.0,845.2 L476.0,845.1 L477.0,844.7 L478.0,844.6 L479.0,845.6 L480.0,846.4 L481.0,845.9 L482.0,845.1 L483.0,844.6 L484.0,844.3 L485.0,844.9 L486.0,845.2 L487.0,845.0 L488.0,845.3 L489.0,845.7 L490.0,845.8 L491.0,845.7 L492.0,845.1 L493.0,844.4 L494.0,844.4 L495.0,845.0 L496.0,845.4 L497.0,845.8 L498.0,845.8 L499.0,845.3 L500.0,845.2 L501.0,845.4 L502.0,845.5 L503.0,845.5 L504.0,845.6 L505.0,845.8 L506.0,845.8 L507.0,845.8 L508.0,846.0 L509.0,845.8 L510.0,845.3 L511.0,845.3 L512.0,845.4 L513.0,845.7 L514.0,845.8 L515.0,845.0 L516.0,844.5 L517.0,844.9 L518.0,845.0 L519.0,844.8 L520.0,844.9 L521.0,844.8 L522.0,844.7 L523.0,845.2 L524.0,845.5 L525.0,845.2 L526.0,845.2 L527.0,845.3 L528.0,844.9 L529.0,844.3 L530.0,844.8 L531.0,845.7 L532.0,846.4 L533.0,846.7 L534.0,846.2 L535.0,845.5 L536.0,845.2 L537.0,845.6 L538.0,846.1 L539.0,846.0 L540.0,845.5 L541.0,845.6 L542.0,846.3 L543.0,846.5 L544.0,845.9 L545.0,845.3 L546.0,845.1 L547.0,845.2 L548.0,845.4 L549.0,846.0 L550.0,846.3 L551.0,846.3 L552.0,846.1 L553.0,845.7 L554.0,845.6 L555.0,845.5 L556.0,845.8 L557.0,846.1 L558.0,845.5 L559.0,844.8 L560.0,845.0 L561.0,845.0 L562.0,844.7 L563.0,845.2 L564.0,846.2 L565.0,846.4 L566.0,846.0 L567.0,846.2 L568.0,846.1 L569.0,845.4 L570.0,845.4 L571.0,845.7 L572.0,845.4 L573.0,845.0 L574.0,845.4 L575.0,846.3 L576.0,846.8 L577.0,846.6 L578.0,846.3 L579.0,846.5 L580.0,846.1 L581.0,845.5 L582.0,845.7 L583.0,845.8 L584.0,845.8 L585.0,846.0 L586.0,846.2 L587.0,846.0 L588.0,845.9 L589.0,846.1 L590.0,846.0 L591.0,845.9 L592.0,846.1 L593.0,845.7 L594.0,845.3 L595.0,845.1 L596.0,845.0 L597.0,845.6 L598.0,846.2 L599.0,845.8 L600.0,845.4 L601.0,845.2 L602.0,845.6 L603.0,846.5 L604.0,846.3 L605.0,845.7 L606.0,845.5 L607.0,845.3 L608.0,845.1 L609.0,845.1 L610.0,845.3 L611.0,845.9 L612.0,846.2 L613.0,846.1 L614.0,845.6 L615.0,845.2 L616.0,845.4 L617.0,845.6 L618.0,846.1 L619.0,846.4 L620.0,846.2 L621.0,845.5 L622.0,845.3 L623.0,846.1 L624.0,846.3 L625.0,845.6 L626.0,845.9 L627.0,846.2 L628.0,846.0 L629.0,846.3 L630.0,845.9 L631.0,845.7 L632.0,846.3 L633.0,846.2 L634.0,845.9 L635.0,845.7 L636.0,845.7 L637.0,846.1 L638.0,846.0 L639.0,845.8 L640.0,845.9 L641.0,846.2 L642.0,846.2 L643.0,845.9 L644.0,846.0 L645.0,845.8 L646.0,845.6 L647.0,845.5 L648.0,845.4 L649.0,845.6 L650.0,846.2 L651.0,846.3 L652.0,846.5 L653.0,846.2 L654.0,845.3 L655.0,844.9 L656.0,845.4 L657.0,846.0 L658.0,845.9 L659.0,845.9 L660.0,845.9 L661.0,845.3 L662.0,845.2 L663.0,846.2 L664.0,847.0 L665.0,846.4 L666.0,845.8 L667.0,846.2 L668.0,846.6 L669.0,846.4 L670.0,845.9 L671.0,845.6 L672.0,846.0 L673.0,846.5 L674.0,847.2 L675.0,847.0 L676.0,846.0 L677.0,845.6 L678.0,845.8 L679.0,846.0 L680.0,846.3 L681.0,846.4 L682.0,846.5 L683.0,846.6 L684.0,846.0 L685.0,845.3 L686.0,845.0 L687.0,845.1 L688.0,845.0 L689.0,845.2 L690.0,846.0 L691.0,846.1 L692.0,845.7 L693.0,845.3 L694.0,845.0 L695.0,845.7 L696.0,846.1 L697.0,845.5 L698.0,845.8 L699.0,846.4 L700.0,846.2 L701.0,846.1 L702.0,846.1 L703.0,845.9 L704.0,846.3 L705.0,846.5 L706.0,845.7 L707.0,845.5 L708.0,846.1 L709.0,846.7 L710.0,846.9 L711.0,846.4 L712.0,845.7 L713.0,845.5 L714.0,846.0 L715.0,846.0 L716.0,845.7 L717.0,845.9 L718.0,846.4 L719.0,846.3 L720.0,846.0 L721.0,845.8 L722.0,845.6 L723.0,845.6 L724.0,846.2 L725.0,847.3 L726.0,847.7 L727.0,846.9 L728.0,846.5 L729.0,846.3 L730.0,845.9 L731.0,845.8 L732.0,846.0 L733.0,846.8 L734.0,847.1 L735.0,846.4 L736.0,846.2 L737.0,846.6 L738.0,846.5 L739.0,846.3 L740.0,846.0 L741.0,845.6 L742.0,846.1 L743.0,846.6 L744.0,846.4 L745.0,846.0 L746.0,845.8 L747.0,846.2 L748.0,846.3 L749.0,846.0 L750.0,846.0 L751.0,846.6 L752.0,846.8 L753.0,846.7 L754.0,846.8 L755.0,847.1 L756.0,847.0 L757.0,846.4 L758.0,846.0 L759.0,845.9 L760.0,846.1 L761.0,846.5 L762.0,846.5 L763.0,846.1 L764.0,845.9 L765.0,846.0 L766.0,846.3 L767.0,846.3 L768.0,846.0 L769.0,845.8 L770.0,845.7 L771.0,846.1 L772.0,846.7 L773.0,846.5 L774.0,845.9 L775.0,845.6 L776.0,845.8 L777.0,846.5 L778.0,846.6 L779.0,845.7 L780.0,845.4 L781.0,845.7 L782.0,845.5 L783.0,845.3 L784.0,845.9 L785.0,846.1 L786.0,845.7 L787.0,846.1 L788.0,846.7 L789.0,846.6 L790.0,846.6 L791.0,847.1 L792.0,846.6 L793.0,846.1 L794.0,846.1 L795.0,846.0 L796.0,846.0 L797.0,845.9 L798.0,846.1 L799.0,846.3 L800.0,846.6 L801.0,846.7 L802.0,846.4 L803.0,846.4 L804.0,846.2 L805.0,845.7 L806.0,846.0 L807.0,846.5 L808.0,846.6 L809.0,847.3 L810.0,847.8 L811.0,847.1 L812.0,846.5 L813.0,846.6 L814.0,846.4 L815.0,846.0 L816.0,846.2 L817.0,845.7 L818.0,844.9 L819.0,845.2 L820.0,845.9 L821.0,846.1 L822.0,846.3 L823.0,846.4 L824.0,846.2 L825.0,845.6 L826.0,845.3 L827.0,846.1 L828.0,846.5 L829.0,845.7 L830.0,845.0 L831.0,845.5 L832.0,846.4 L833.0,846.0 L834.0,845.5 L835.0,845.7 L836.0,846.1 L837.0,845.8 L838.0,845.3 L839.0,845.2 L840.0,845.9 L841.0,846.4 L842.0,846.3 L843.0,846.4 L844.0,846.3 L845.0,846.1 L846.0,846.1 L847.0,846.2 L848.0,846.4 L849.0,846.2 L850.0,845.8 L851.0,845.8 L852.0,845.9 L853.0,846.0 L854.0,846.0 L855.0,845.6 L856.0,845.2 L857.0,845.6 L858.0,845.8 L859.0,845.4 L860.0,845.7 L861.0,845.5 L862.0,844.5 L863.0,844.2 L864.0,844.4 L865.0,843.9 L866.0,843.6 L867.0,843.4 L868.0,842.4 L869.0,841.4 L870.0,840.7 L871.0,840.2 L872.0,839.3 L873.0,837.6 L874.0,835.2 L875.0,832.0 L876.0,828.1 L877.0,823.4 L878.0,817.6 L879.0,808.9 L880.0,798.2 L881.0,787.6 L882.0,777.0 L883.0,766.9 L884.0,760.9 L884.6,760.1 L885.0,760.5 L886.0,766.1 L887.0,775.3 L888.0,785.7 L889.0,796.6 L890.0,806.1 L891.0,814.0 L892.0,820.9 L893.0,825.9 L894.0,829.5 L895.0,831.9 L896.0,832.9 L897.0,833.4 L898.0,833.9 L899.0,833.9 L900.0,833.1 L901.0,831.3 L902.0,829.5 L903.0,829.3 L903.3,829.4 L904.0,829.3 L905.0,831.1 L906.0,834.1 L907.0,836.6 L908.0,838.6 L909.0,840.3 L910.0,841.6 L911.0,842.5 L912.0,843.0 L913.0,843.4 L914.0,843.9 L915.0,844.9 L916.0,845.8 L917.0,845.7 L918.0,845.3 L919.0,845.3 L920.0,845.4 L921.0,845.6 L922.0,845.9 L923.0,846.0 L924.0,846.0 L925.0,845.8 L926.0,846.1 L927.0,846.1 L928.0,845.7 L929.0,845.9 L930.0,846.1 L931.0,845.9 L932.0,845.4 L933.0,845.5 L934.0,846.0 L935.0,845.7 L936.0,845.6 L937.0,845.8 L938.0,845.7 L939.0,846.2 L940.0,846.6 L941.0,846.4 L942.0,846.0 L943.0,845.3 L944.0,845.4 L945.0,846.3 L946.0,846.2 L947.0,846.2 L948.0,846.6 L949.0,846.2 L950.0,845.9 L951.0,846.0 L952.0,845.9 L953.0,845.6 L954.0,846.0 L955.0,846.7 L956.0,846.1 L957.0,844.7 L958.0,844.8 L959.0,845.9 L960.0,846.1 L961.0,846.2 L962.0,846.1 L963.0,845.9 L964.0,846.3 L965.0,846.5 L966.0,846.4 L967.0,846.5 L968.0,846.4 L969.0,846.0 L970.0,845.9 L971.0,846.2 L972.0,845.9 L973.0,845.7 L974.0,846.4 L975.0,846.9 L976.0,846.6 L977.0,846.1 L978.0,845.7 L979.0,845.2 L980.0,845.0 L981.0,845.1 L982.0,845.0 L983.0,845.0 L984.0,844.8 L985.0,843.8 L986.0,843.0 L987.0,843.0 L988.0,842.8 L989.0,841.5 L990.0,839.8 L991.0,837.9 L992.0,835.5 L993.0,832.8 L994.0,829.7 L995.0,825.4 L996.0,819.5 L997.0,813.5 L998.0,808.2 L999.0,803.4 L999.8,801.6 L1000.0,802.3 L1001.0,805.5 L1002.0,810.8 L1003.0,817.2 L1004.0,824.3 L1005.0,830.2 L1006.0,833.9 L1007.0,836.5 L1008.0,838.9 L1009.0,841.2 L1010.0,843.0 L1011.0,843.8 L1012.0,844.5 L1013.0,844.8 L1014.0,844.7 L1015.0,844.5 L1016.0,843.9 L1017.0,843.7 L1018.0,843.8 L1019.0,843.6 L1020.0,843.8 L1021.0,843.8 L1022.0,842.9 L1023.0,841.5 L1024.0,840.9 L1025.0,840.3 L1026.0,838.7 L1027.0,836.8 L1028.0,834.7 L1029.0,832.1 L1030.0,828.5 L1031.0,822.9 L1032.0,816.2 L1033.0,808.3 L1034.0,797.1 L1035.0,782.3 L1036.0,764.2 L1037.0,743.5 L1038.0,721.8 L1039.0,702.2 L1040.0,689.4 L1040.6,687.0 L1041.0,688.4 L1042.0,701.6 L1043.0,724.3 L1044.0,749.6 L1045.0,772.9 L1046.0,792.7 L1047.0,807.1 L1048.0,816.7 L1049.0,823.0 L1050.0,826.4 L1051.0,828.2 L1052.0,829.9 L1052.9,831.1 L1053.0,831.4 L1054.0,832.6 L1055.0,833.8 L1056.0,835.1 L1057.0,836.0 L1058.0,836.8 L1059.0,837.4 L1060.0,837.9 L1061.0,838.9 L1062.0,840.0 L1063.0,840.2 L1064.0,839.5 L1065.0,838.5 L1066.0,838.7 L1067.0,839.4 L1068.0,839.5 L1069.0,839.4 L1070.0,839.4 L1071.0,840.1 L1072.0,841.1 L1073.0,841.4 L1074.0,841.2 L1075.0,840.9 L1076.0,841.1 L1077.0,841.6 L1078.0,841.3 L1079.0,840.7 L1080.0,840.1 L1081.0,839.6 L1082.0,839.6 L1083.0,839.2 L1084.0,838.2 L1085.0,838.0 L1086.0,838.1 L1086.6,838.2 L1087.0,838.8 L1088.0,839.0 L1089.0,838.8 L1090.0,839.7 L1091.0,840.3 L1092.0,840.3 L1093.0,841.0 L1094.0,841.8 L1095.0,842.4 L1096.0,843.1 L1097.0,843.2 L1098.0,843.0 L1099.0,843.5 L1100.0,844.5 L1101.0,845.2 L1102.0,845.3 L1103.0,845.3 L1104.0,845.8 L1105.0,846.3 L1106.0,846.1 L1107.0,845.6 L1108.0,845.9 L1109.0,846.3 L1110.0,845.9 L1111.0,845.7 L1112.0,845.7 L1113.0,845.7 L1114.0,845.7 L1115.0,845.5 L1116.0,845.9 L1117.0,845.7 L1118.0,845.2 L1119.0,845.1 L1120.0,844.9 L1121.0,845.2 L1122.0,845.2 L1123.0,844.4 L1124.0,844.0 L1125.0,843.5 L1126.0,842.4 L1127.0,841.2 L1128.0,840.0 L1129.0,838.1 L1130.0,835.0 L1131.0,832.1 L1132.0,829.0 L1133.0,826.1 L1134.0,825.1 L1135.0,825.8 L1136.0,828.6 L1137.0,832.8 L1138.0,836.3 L1139.0,838.9 L1140.0,840.8 L1141.0,842.2 L1142.0,843.2 L1143.0,843.9 L1144.0,844.7 L1145.0,845.6 L1146.0,846.2 L1147.0,846.1 L1148.0,846.0 L1149.0,846.1 L1150.0,845.9 L1151.0,845.9 L1152.0,846.3 L1153.0,846.3 L1154.0,846.2 L1155.0,846.5 L1156.0,846.8 L1157.0,846.8 L1158.0,846.5 L1159.0,846.5 L1160.0,846.7 L1161.0,846.9 L1162.0,847.0 L1163.0,847.4 L1164.0,847.5 L1165.0,846.7 L1166.0,846.4 L1167.0,847.3 L1168.0,847.6 L1169.0,846.6 L1170.0,845.8 L1171.0,845.7 L1172.0,846.1 L1173.0,846.6 L1174.0,846.5 L1175.0,845.8 L1176.0,846.1 L1177.0,846.7 L1178.0,846.3 L1179.0,846.1 L1180.0,846.3 L1181.0,846.2 L1182.0,846.2 L1183.0,846.3 L1184.0,846.2 L1185.0,846.4 L1186.0,846.7 L1187.0,846.5 L1188.0,846.3 L1189.0,846.4 L1190.0,846.4 L1191.0,846.3 L1192.0,846.0 L1193.0,845.3 L1194.0,845.2 L1195.0,845.9 L1196.0,846.6 L1197.0,846.5 L1198.0,845.9 L1199.0,846.2 L1200.0,846.9 L1201.0,846.8 L1202.0,846.4 L1203.0,845.7 L1204.0,845.7 L1205.0,846.9 L1206.0,847.4 L1207.0,846.8 L1208.0,846.4 L1209.0,846.5 L1210.0,846.7 L1211.0,846.4 L1212.0,845.8 L1213.0,845.5 L1214.0,846.0 L1215.0,846.7 L1216.0,846.8 L1217.0,846.5 L1218.0,846.6 L1219.0,846.5 L1220.0,846.1 L1221.0,845.7 L1222.0,845.4 L1223.0,846.0 L1224.0,846.6 L1225.0,846.2 L1226.0,846.3 L1227.0,846.4 L1228.0,845.9 L1229.0,846.1 L1230.0,846.4 L1231.0,846.6 L1232.0,846.8 L1233.0,846.5 L1234.0,846.5 L1235.0,846.8 L1236.0,846.7 L1237.0,846.3 L1238.0,846.0 L1239.0,846.1 L1240.0,846.5 L1241.0,846.3 L1242.0,846.6 L1243.0,847.4 L1244.0,847.1 L1245.0,846.4 L1246.0,846.0 L1247.0,846.3 L1248.0,846.8 L1249.0,846.8 L1250.0,847.0 L1251.0,847.3 L1252.0,846.5 L1253.0,846.0 L1254.0,846.2 L1255.0,846.5 L1256.0,846.5 L1257.0,846.5 L1258.0,846.7 L1259.0,846.6 L1260.0,845.7 L1261.0,845.2 L1262.0,845.6 L1263.0,845.5 L1264.0,845.2 L1265.0,845.1 L1266.0,844.6 L1267.0,844.6 L1268.0,844.8 L1269.0,844.8 L1270.0,844.7 L1271.0,844.5 L1272.0,844.5 L1273.0,844.6 L1274.0,845.0 L1275.0,845.5 L1276.0,845.3 L1277.0,845.2 L1278.0,845.6 L1279.0,846.3 L1280.0,846.6 L1281.0,846.4 L1282.0,845.9 L1283.0,846.2 L1284.0,846.7 L1285.0,846.2 L1286.0,845.7 L1287.0,845.8 L1288.0,845.9 L1289.0,846.6 L1290.0,846.8 L1291.0,846.5 L1292.0,846.1 L1293.0,846.3 L1294.0,846.9 L1295.0,847.6 L1296.0,848.0 L1297.0,847.1 L1298.0,846.0 L1299.0,846.1 L1300.0,846.6 L1301.0,846.9 L1302.0,846.8 L1303.0,846.6 L1304.0,846.6 L1305.0,847.0 L1306.0,847.1 L1307.0,846.2 L1308.0,845.4 L1309.0,846.0 L1310.0,847.0 L1311.0,846.9 L1312.0,846.3 L1313.0,846.3 L1314.0,846.8 L1315.0,846.8 L1316.0,846.4 L1317.0,846.3 L1318.0,846.3 L1319.0,846.5 L1320.0,847.0 L1321.0,846.8 L1322.0,845.7 L1323.0,845.6 L1324.0,846.2 L1325.0,846.2 L1326.0,845.8 L1327.0,845.9 L1328.0,846.2 L1329.0,846.2 L1330.0,846.3 L1331.0,846.6 L1332.0,847.0 L1333.0,847.1 L1334.0,847.0 L1335.0,846.6 L1336.0,846.2 L1337.0,846.4 L1338.0,846.8 L1339.0,846.9 L1340.0,847.0 L1341.0,846.8 L1342.0,846.7 L1343.0,846.4 L1344.0,846.0 L1345.0,846.1 L1346.0,846.5 L1347.0,846.7 L1348.0,846.5 L1349.0,846.5 L1350.0,846.6 L1351.0,846.8 L1352.0,846.9 L1353.0,846.7 L1354.0,846.6 L1355.0,846.8 L1356.0,846.9 L1357.0,846.6 L1358.0,846.5 L1359.0,846.2 L1360.0,846.2 L1361.0,846.6 L1362.0,846.6 L1363.0,846.7 L1364.0,846.9 L1365.0,846.8 L1366.0,846.8 L1367.0,846.6 L1368.0,846.0 L1369.0,845.9 L1370.0,846.0 L1371.0,846.4 L1372.0,847.2 L1373.0,847.7 L1374.0,847.0 L1375.0,846.1 L1376.0,846.5 L1377.0,847.2 L1378.0,847.4 L1379.0,847.2 L1380.0,846.6 L1381.0,846.0 L1382.0,845.9 L1383.0,846.5 L1384.0,846.9 L1385.0,846.7 L1386.0,846.9 L1387.0,847.2 L1388.0,847.0 L1389.0,846.7 L1390.0,847.1 L1391.0,847.3 L1392.0,846.8 L1393.0,847.0 L1394.0,847.5 L1395.0,847.5 L1396.0,846.8 L1397.0,845.8 L1398.0,845.7 L1399.0,846.1 L1400.0,846.3 L1401.0,846.7 L1402.0,846.7 L1403.0,846.6 L1404.0,846.6 L1405.0,846.4 L1406.0,846.7 L1407.0,846.4 L1408.0,845.6 L1409.0,845.3 L1410.0,845.4 L1411.0,846.0 L1412.0,846.8 L1413.0,847.4 L1414.0,847.0 L1415.0,845.9 L1416.0,845.5 L1417.0,845.8 L1418.0,846.0 L1419.0,846.2 L1420.0,846.9 L1421.0,847.3 L1422.0,846.6 L1423.0,846.9 L1424.0,847.4 L1425.0,846.8 L1426.0,846.7 L1427.0,846.8 L1428.0,845.9 L1429.0,845.4 L1430.0,846.0 L1431.0,846.8 L1432.0,847.1 L1433.0,847.3 L1434.0,847.5 L1435.0,847.1 L1436.0,846.6 L1437.0,846.9 L1438.0,847.2 L1439.0,846.9 L1440.0,846.9 L1441.0,847.6 L1442.0,847.8 L1443.0,847.2 L1444.0,846.3 L1445.0,846.0 L1446.0,846.4 L1447.0,846.6 L1448.0,846.5 L1449.0,846.8 L1450.0,846.8 L1451.0,846.6 L1452.0,846.6 L1453.0,846.6 L1454.0,846.5 L1455.0,846.7 L1456.0,847.1 L1457.0,846.9 L1458.0,846.6 L1459.0,846.8 L1460.0,847.0 L1461.0,846.9 L1462.0,846.9 L1463.0,847.2 L1464.0,846.8 L1465.0,846.0 L1466.0,845.6 L1467.0,845.8 L1468.0,846.2 L1469.0,846.1 L1470.0,846.0 L1471.0,846.3 L1472.0,846.9 L1473.0,846.8 L1474.0,846.2 L1475.0,846.0 L1476.0,845.6 L1477.0,844.8 L1478.0,843.6 L1479.0,842.7 L1480.0,842.8 L1481.0,842.4 L1482.0,841.3 L1483.0,841.1 L1484.0,841.4 L1484.3,841.3 L1485.0,840.8 L1486.0,841.2 L1487.0,842.4 L1488.0,843.1 L1489.0,843.2 L1490.0,843.6 L1491.0,843.9 L1492.0,844.1 L1493.0,844.1 L1494.0,844.2 L1495.0,844.3 L1496.0,844.7 L1497.0,844.9 L1498.0,844.6 L1499.0,844.0 L1500.0,843.4 L1501.0,842.3 L1502.0,840.7 L1503.0,840.0 L1504.0,839.7 L1505.0,838.9 L1506.0,838.8 L1507.0,838.3 L1508.0,837.6 L1508.9,837.3 L1509.0,837.0 L1510.0,837.2 L1511.0,837.7 L1512.0,838.5 L1513.0,839.7 L1514.0,840.7 L1515.0,841.6 L1516.0,842.4 L1517.0,842.7 L1518.0,843.0 L1519.0,843.4 L1520.0,843.8 L1521.0,844.4 L1522.0,844.7 L1523.0,844.1 L1524.0,843.8 L1525.0,843.9 L1526.0,843.6 L1527.0,842.9 L1528.0,842.1 L1529.0,841.7 L1530.0,841.6 L1531.0,841.5 L1531.8,841.2 L1532.0,841.4 L1533.0,841.9 L1534.0,842.0 L1535.0,842.3 L1536.0,843.1 L1537.0,843.9 L1538.0,844.4 L1539.0,844.7 L1540.0,844.8 L1541.0,845.2 L1542.0,845.6 L1543.0,845.4 L1544.0,845.2 L1545.0,845.7 L1546.0,846.2 L1547.0,846.2 L1548.0,845.9 L1549.0,845.4 L1550.0,844.7 L1551.0,843.9 L1552.0,843.6 L1553.0,844.5 L1554.0,845.5 L1555.0,844.9 L1556.0,843.8 L1557.0,843.7 L1558.0,843.8 L1559.0,842.8 L1559.7,842.4 L1560.0,843.1 L1561.0,843.2 L1562.0,843.4 L1563.0,844.3 L1564.0,844.6 L1565.0,845.0 L1566.0,845.3 L1567.0,844.8 L1568.0,844.7 L1569.0,845.2 L1570.0,845.4 L1571.0,845.4 L1572.0,845.1 L1573.0,844.4 L1574.0,844.2 L1575.0,843.9 L1576.0,843.6 L1577.0,843.6 L1578.0,843.7 L1578.4,843.4 L1579.0,843.2 L1580.0,843.5 L1581.0,844.1 L1582.0,844.9 L1583.0,845.0 L1584.0,845.4 L1585.0,846.1 L1586.0,845.9 L1587.0,845.4 L1588.0,845.7 L1589.0,846.5 L1590.0,847.1 L1591.0,847.3 L1592.0,847.1 L1593.0,846.9 L1594.0,847.4 L1595.0,847.5 L1596.0,847.6 L1597.0,848.1 L1598.0,847.7 L1599.0,847.6 L1600.0,847.9 L1601.0,847.4 L1602.0,847.0 L1603.0,847.2 L1604.0,846.7 L1605.0,845.9 L1606.0,846.2 L1607.0,846.5 L1608.0,846.4 L1609.0,846.8 L1610.0,847.1 L1611.0,847.1 L1612.0,847.2 L1613.0,847.1 L1614.0,846.4 L1615.0,846.2 L1616.0,846.6 L1617.0,847.0 L1618.0,847.2 L1619.0,847.3 L1620.0,847.4 L1621.0,847.8 L1622.0,847.8 L1623.0,846.9 L1624.0,846.3 L1625.0,846.2 L1626.0,846.7 L1627.0,847.7 L1628.0,847.6 L1629.0,847.4 L1630.0,847.8 L1631.0,847.2 L1632.0,846.6 L1633.0,847.6 L1634.0,848.1 L1635.0,847.5 L1636.0,847.3 L1637.0,847.6 L1638.0,847.4 L1639.0,847.4 L1640.0,847.6 L1641.0,847.5 L1642.0,847.1 L1643.0,847.0 L1644.0,847.0 L1645.0,846.7 L1646.0,847.1 L1647.0,847.7 L1648.0,847.6 L1649.0,847.4 L1650.0,847.6 L1651.0,847.6 L1652.0,847.2 L1653.0,847.3 L1654.0,847.3 L1655.0,846.8 L1656.0,847.1 L1657.0,848.1 L1658.0,848.0 L1659.0,847.5 L1660.0,847.7 L1661.0,848.0 L1662.0,848.3 L1663.0,847.7 L1664.0,846.6 L1665.0,847.1 L1666.0,848.3 L1667.0,848.3 L1668.0,847.3 L1669.0,846.9 L1670.0,847.2 L1671.0,847.3 L1672.0,847.1 L1673.0,847.2 L1674.0,847.7 L1675.0,848.0 L1676.0,847.6 L1677.0,846.8 L1678.0,846.3 L1679.0,846.7 L1680.0,847.1 L1681.0,847.0 L1682.0,847.8 L1683.0,848.2 L1684.0,847.6 L1685.0,847.5 L1686.0,848.0 L1687.0,847.9 L1688.0,847.4 L1689.0,847.3 L1690.0,847.5 L1691.0,847.6 L1692.0,847.8 L1693.0,848.0 L1694.0,847.8 L1695.0,847.3 L1696.0,847.8 L1697.0,848.1 L1698.0,847.7 L1699.0,847.9 L1700.0,848.1 L1701.0,847.8 L1702.0,847.6 L1703.0,847.5 L1704.0,847.1 L1705.0,846.7 L1706.0,846.8 L1707.0,847.1 L1708.0,847.6 L1709.0,848.0 L1710.0,848.1 L1711.0,848.2 L1712.0,847.7 L1713.0,847.2 L1714.0,847.0 L1715.0,847.0 L1716.0,847.6 L1717.0,847.8 L1718.0,847.4 L1719.0,847.5 L1720.0,847.9 L1721.0,847.8 L1722.0,847.7 L1723.0,847.7 L1724.0,847.7 L1725.0,847.4 L1726.0,847.1 L1727.0,847.6 L1728.0,847.7 L1729.0,847.3 L1730.0,847.4 L1731.0,847.6 L1732.0,847.8 L1733.0,848.0 L1734.0,848.0 L1735.0,847.7 L1736.0,847.6 L1737.0,848.3 L1738.0,848.3 L1739.0,847.6 L1740.0,847.8 L1741.0,847.8 L1742.0,847.3 L1743.0,847.4 L1744.0,847.9 L1745.0,848.0 L1746.0,848.3 L1747.0,848.7 L1748.0,848.1 L1749.0,847.6 L1750.0,847.6 L1751.0,847.1 L1752.0,847.6 L1753.0,848.5 L1754.0,848.0 L1755.0,847.4 L1756.0,847.3 L1757.0,847.4 L1758.0,847.2 L1759.0,846.5 L1760.0,847.0 L1761.0,847.9 L1762.0,848.2 L1763.0,847.7 L1764.0,847.4 L1765.0,847.5 L1766.0,847.3 L1767.0,847.2 L1768.0,847.9 L1769.0,848.3 L1770.0,847.8 L1771.0,847.8 L1772.0,847.5 L1773.0,846.7 L1774.0,846.7 L1775.0,847.0 L1776.0,847.1 L1777.0,847.1 L1778.0,846.6 L1779.0,846.7 L1780.0,847.2 L1781.0,847.0 L1782.0,846.5 L1783.0,846.9 L1784.0,847.2 L1785.0,846.2 L1786.0,845.6 L1787.0,846.4 L1788.0,846.8 L1789.0,845.8 L1790.0,844.1 L1791.0,843.4 L1792.0,843.6 L1793.0,842.9 L1794.0,841.7 L1795.0,840.6 L1796.0,839.2 L1797.0,836.7 L1798.0,833.5 L1799.0,829.9 L1800.0,825.3 L1801.0,819.9 L1802.0,812.8 L1803.0,804.0 L1804.0,794.6 L1805.0,784.9 L1806.0,775.9 L1807.0,769.6 L1808.0,766.6 L1808.3,765.9 L1809.0,766.0 L1810.0,771.2 L1811.0,780.1 L1812.0,789.9 L1813.0,799.2 L1814.0,807.6 L1815.0,815.5 L1816.0,822.9 L1817.0,827.7 L1818.0,831.2 L1819.0,834.6 L1820.0,837.6 L1821.0,839.4 L1822.0,840.7 L1823.0,842.0 L1824.0,843.3 L1825.0,844.0 L1826.0,844.1 L1827.0,844.7 L1828.0,845.1 L1829.0,845.3 L1830.0,845.7 L1831.0,845.9 L1832.0,845.8 L1833.0,846.1 L1834.0,846.6 L1835.0,846.4 L1836.0,846.4 L1837.0,846.8 L1838.0,846.7 L1839.0,846.5 L1840.0,846.3 L1841.0,846.2 L1842.0,846.1 L1843.0,845.4 L1844.0,845.0 L1845.0,845.2 L1846.0,844.9 L1847.0,844.8 L1848.0,845.4 L1849.0,845.8 L1850.0,845.8 L1851.0,845.8 L1852.0,846.2 L1853.0,846.6 L1854.0,846.8 L1855.0,847.3 L1856.0,847.7 L1857.0,847.4 L1858.0,847.0 L1859.0,846.9 L1860.0,846.8 L1861.0,846.8 L1862.0,846.9 L1863.0,847.3 L1864.0,847.8 L1865.0,847.9 L1866.0,847.8 L1867.0,847.6 L1868.0,847.8 L1869.0,848.9 L1870.0,849.2 L1871.0,848.4 L1872.0,848.1 L1873.0,848.2 L1874.0,848.2" stroke="#ff00ff" stroke-width="4.5"/>
<path class="c" d="M138.0,944.2 L139.0,944.1 L140.0,944.0 L141.0,944.1 L142.0,943.8 L143.0,943.4 L144.0,943.7 L145.0,944.2 L146.0,944.1 L147.0,943.9 L148.0,944.1 L149.0,944.2 L150.0,944.3 L151.0,944.1 L152.0,943.9 L153.0,943.9 L154.0,944.2 L155.0,944.6 L156.0,944.6 L157.0,944.1 L158.0,943.8 L159.0,944.0 L160.0,944.0 L161.0,944.1 L162.0,944.7 L163.0,944.9 L164.0,944.6 L165.0,944.3 L166.0,944.3 L167.0,943.9 L168.0,943.8 L169.0,944.2 L170.0,943.9 L171.0,943.2 L172.0,943.5 L173.0,944.6 L174.0,945.1 L175.0,944.7 L176.0,944.3 L177.0,944.2 L178.0,944.0 L179.0,943.9 L180.0,943.8 L181.0,943.9 L182.0,944.2 L183.0,944.3 L184.0,944.4 L185.0,944.5 L186.0,944.4 L187.0,944.5 L188.0,944.3 L189.0,943.7 L190.0,943.9 L191.0,944.1 L192.0,944.0 L193.0,943.9 L194.0,943.8 L195.0,944.2 L196.0,944.5 L197.0,944.8 L198.0,945.1 L199.0,944.7 L200.0,944.1 L201.0,944.0 L202.0,944.0 L203.0,944.1 L204.0,944.3 L205.0,944.2 L206.0,944.5 L207.0,945.0 L208.0,944.9 L209.0,944.7 L210.0,944.7 L211.0,944.5 L212.0,944.4 L213.0,944.2 L214.0,944.0 L215.0,944.3 L216.0,944.5 L217.0,944.1 L218.0,943.7 L219.0,943.5 L220.0,943.2 L221.0,943.4 L222.0,944.1 L223.0,944.6 L224.0,944.1 L225.0,943.7 L226.0,944.2 L227.0,944.3 L228.0,944.2 L229.0,944.3 L230.0,944.2 L231.0,944.2 L232.0,944.5 L233.0,944.4 L234.0,944.1 L235.0,943.9 L236.0,943.9 L237.0,944.2 L238.0,944.5 L239.0,944.6 L240.0,944.4 L241.0,944.5 L242.0,944.6 L243.0,944.3 L244.0,944.0 L245.0,944.0 L246.0,944.0 L247.0,944.4 L248.0,944.8 L249.0,944.3 L250.0,943.5 L251.0,943.4 L252.0,943.7 L253.0,944.3 L254.0,944.5 L255.0,944.2 L256.0,944.1 L257.0,944.1 L258.0,944.3 L259.0,944.5 L260.0,943.9 L261.0,943.5 L262.0,944.0 L263.0,944.2 L264.0,944.2 L265.0,944.1 L266.0,943.3 L267.0,943.1 L268.0,943.5 L269.0,943.4 L270.0,942.8 L271.0,943.0 L272.0,943.5 L273.0,943.5 L274.0,943.3 L275.0,943.2 L276.0,942.5 L277.0,942.0 L278.0,941.8 L279.0,941.7 L280.0,941.5 L281.0,941.3 L282.0,941.1 L283.0,940.7 L284.0,940.3 L285.0,940.0 L286.0,939.6 L287.0,938.6 L288.0,937.0 L289.0,935.2 L290.0,933.3 L291.0,931.4 L292.0,928.7 L293.0,924.8 L294.0,920.8 L295.0,916.5 L296.0,912.4 L297.0,909.5 L298.0,908.5 L299.0,912.0 L300.0,919.7 L301.0,927.9 L302.0,934.2 L303.0,938.2 L304.0,940.6 L305.0,941.9 L306.0,942.6 L307.0,943.1 L308.0,943.7 L309.0,944.6 L310.0,945.2 L311.0,945.2 L312.0,945.0 L313.0,945.0 L314.0,945.0 L315.0,944.6 L316.0,944.1 L317.0,944.0 L318.0,944.5 L319.0,944.7 L320.0,944.4 L321.0,944.2 L322.0,944.2 L323.0,944.2 L324.0,944.0 L325.0,944.2 L326.0,944.4 L327.0,943.9 L328.0,943.9 L329.0,944.6 L330.0,944.8 L331.0,944.6 L332.0,944.4 L333.0,944.4 L334.0,944.6 L335.0,944.7 L336.0,944.3 L337.0,944.0 L338.0,944.2 L339.0,944.7 L340.0,945.2 L341.0,945.2 L342.0,944.4 L343.0,943.8 L344.0,944.2 L345.0,944.9 L346.0,944.8 L347.0,944.9 L348.0,945.1 L349.0,944.6 L350.0,944.3 L351.0,944.2 L352.0,944.2 L353.0,944.8 L354.0,944.7 L355.0,944.3 L356.0,944.5 L357.0,944.7 L358.0,944.6 L359.0,944.4 L360.0,944.1 L361.0,944.1 L362.0,944.5 L363.0,945.4 L364.0,945.6 L365.0,944.8 L366.0,944.4 L367.0,944.7 L368.0,945.0 L369.0,945.4 L370.0,945.8 L371.0,945.4 L372.0,944.6 L373.0,944.1 L374.0,944.2 L375.0,944.3 L376.0,944.5 L377.0,944.9 L378.0,945.0 L379.0,944.6 L380.0,944.6 L381.0,945.0 L382.0,944.9 L383.0,944.3 L384.0,944.3 L385.0,944.4 L386.0,944.3 L387.0,944.4 L388.0,944.9 L389.0,945.3 L390.0,944.9 L391.0,944.3 L392.0,944.3 L393.0,944.6 L394.0,944.5 L395.0,944.6 L396.0,944.9 L397.0,944.7 L398.0,944.5 L399.0,944.7 L400.0,944.9 L401.0,944.8 L402.0,944.8 L403.0,944.8 L404.0,944.7 L405.0,944.7 L406.0,944.8 L407.0,945.1 L408.0,944.7 L409.0,944.2 L410.0,944.5 L411.0,945.0 L412.0,944.7 L413.0,944.7 L414.0,944.8 L415.0,944.5 L416.0,944.6 L417.0,945.0 L418.0,944.9 L419.0,944.3 L420.0,944.4 L421.0,944.9 L422.0,944.7 L423.0,944.9 L424.0,945.4 L425.0,944.6 L426.0,944.4 L427.0,945.4 L428.0,945.5 L429.0,945.4 L430.0,945.6 L431.0,945.4 L432.0,945.2 L433.0,944.9 L434.0,944.7 L435.0,945.0 L436.0,945.3 L437.0,945.5 L438.0,945.2 L439.0,944.8 L440.0,944.9 L441.0,945.4 L442.0,945.3 L443.0,945.1 L444.0,945.4 L445.0,945.6 L446.0,945.3 L447.0,944.7 L448.0,944.7 L449.0,945.1 L450.0,945.1 L451.0,944.5 L452.0,944.4 L453.0,944.8 L454.0,944.9 L455.0,945.0 L456.0,945.5 L457.0,945.3 L458.0,945.3 L459.0,945.7 L460.0,945.5 L461.0,945.1 L462.0,944.9 L463.0,944.7 L464.0,944.5 L465.0,944.6 L466.0,944.6 L467.0,944.6 L468.0,945.0 L469.0,944.8 L470.0,944.4 L471.0,944.6 L472.0,944.7 L473.0,944.7 L474.0,944.6 L475.0,944.6 L476.0,945.2 L477.0,945.3 L478.0,944.6 L479.0,944.4 L480.0,944.8 L481.0,945.1 L482.0,945.0 L483.0,945.1 L484.0,945.5 L485.0,945.2 L486.0,944.8 L487.0,944.6 L488.0,944.7 L489.0,944.7 L490.0,944.6 L491.0,944.8 L492.0,945.0 L493.0,944.7 L494.0,944.7 L495.0,945.0 L496.0,944.9 L497.0,944.4 L498.0,944.5 L499.0,945.1 L500.0,944.9 L501.0,944.5 L502.0,945.0 L503.0,945.3 L504.0,944.8 L505.0,944.4 L506.0,944.9 L507.0,945.2 L508.0,945.0 L509.0,945.1 L510.0,945.4 L511.0,945.2 L512.0,945.0 L513.0,945.1 L514.0,945.2 L515.0,945.2 L516.0,945.2 L517.0,944.7 L518.0,944.5 L519.0,944.8 L520.0,944.6 L521.0,944.2 L522.0,944.6 L523.0,945.0 L524.0,944.5 L525.0,944.0 L526.0,944.1 L527.0,944.4 L528.0,944.3 L529.0,944.2 L530.0,944.7 L531.0,945.2 L532.0,945.2 L533.0,945.0 L534.0,945.1 L535.0,945.3 L536.0,945.2 L537.0,944.9 L538.0,945.1 L539.0,945.4 L540.0,945.5 L541.0,945.2 L542.0,944.7 L543.0,944.7 L544.0,945.0 L545.0,945.3 L546.0,945.0 L547.0,944.4 L548.0,944.3 L549.0,944.7 L550.0,945.3 L551.0,945.4 L552.0,945.3 L553.0,945.2 L554.0,945.0 L555.0,945.1 L556.0,945.1 L557.0,945.0 L558.0,945.1 L559.0,945.4 L560.0,945.3 L561.0,944.6 L562.0,944.6 L563.0,945.0 L564.0,944.9 L565.0,944.4 L566.0,944.4 L567.0,945.0 L568.0,945.4 L569.0,945.0 L570.0,944.7 L571.0,944.9 L572.0,945.0 L573.0,945.0 L574.0,945.0 L575.0,945.0 L576.0,945.1 L577.0,945.2 L578.0,945.3 L579.0,945.0 L580.0,944.8 L581.0,944.9 L582.0,945.2 L583.0,945.4 L584.0,945.6 L585.0,945.5 L586.0,945.0 L587.0,944.9 L588.0,945.0 L589.0,944.8 L590.0,944.8 L591.0,944.8 L592.0,945.2 L593.0,945.7 L594.0,945.6 L595.0,945.4 L596.0,945.1 L597.0,944.9 L598.0,945.0 L599.0,945.4 L600.0,946.0 L601.0,946.1 L602.0,945.7 L603.0,945.4 L604.0,945.2 L605.0,945.4 L606.0,945.3 L607.0,944.8 L608.0,944.6 L609.0,944.9 L610.0,945.1 L611.0,945.0 L612.0,945.0 L613.0,944.7 L614.0,944.8 L615.0,945.6 L616.0,945.5 L617.0,944.7 L618.0,944.3 L619.0,944.7 L620.0,945.2 L621.0,945.1 L622.0,944.9 L623.0,945.4 L624.0,945.5 L625.0,945.0 L626.0,944.8 L627.0,945.1 L628.0,945.4 L629.0,945.3 L630.0,944.7 L631.0,944.6 L632.0,945.1 L633.0,945.2 L634.0,945.1 L635.0,945.2 L636.0,945.0 L637.0,944.6 L638.0,944.7 L639.0,945.4 L640.0,945.8 L641.0,945.5 L642.0,945.1 L643.0,944.9 L644.0,944.8 L645.0,944.9 L646.0,944.9 L647.0,945.1 L648.0,945.5 L649.0,945.8 L650.0,945.7 L651.0,945.5 L652.0,945.4 L653.0,945.8 L654.0,946.0 L655.0,945.2 L656.0,944.9 L657.0,945.4 L658.0,945.4 L659.0,945.2 L660.0,945.4 L661.0,945.6 L662.0,945.7 L663.0,945.5 L664.0,944.9 L665.0,944.5 L666.0,944.3 L667.0,944.8 L668.0,945.2 L669.0,945.0 L670.0,945.2 L671.0,945.7 L672.0,945.9 L673.0,945.9 L674.0,946.0 L675.0,945.8 L676.0,945.2 L677.0,945.2 L678.0,945.8 L679.0,945.7 L680.0,945.3 L681.0,945.4 L682.0,945.8 L683.0,945.8 L684.0,945.4 L685.0,945.2 L686.0,945.1 L687.0,945.1 L688.0,945.2 L689.0,945.3 L690.0,945.0 L691.0,945.1 L692.0,945.2 L693.0,945.3 L694.0,945.8 L695.0,945.8 L696.0,945.3 L697.0,945.4 L698.0,945.5 L699.0,945.5 L700.0,945.4 L701.0,945.3 L702.0,945.2 L703.0,945.3 L704.0,945.7 L705.0,945.9 L706.0,945.7 L707.0,945.2 L708.0,945.2 L709.0,945.2 L710.0,945.5 L711.0,946.1 L712.0,946.1 L713.0,945.5 L714.0,945.1 L715.0,945.6 L716.0,946.0 L717.0,945.4 L718.0,944.6 L719.0,944.5 L720.0,944.9 L721.0,945.4 L722.0,945.3 L723.0,945.1 L724.0,945.5 L725.0,945.7 L726.0,945.3 L727.0,945.1 L728.0,945.4 L729.0,945.4 L730.0,944.7 L731.0,945.0 L732.0,945.8 L733.0,945.9 L734.0,945.3 L735.0,944.8 L736.0,944.8 L737.0,945.3 L738.0,945.7 L739.0,945.3 L740.0,945.1 L741.0,945.9 L742.0,946.3 L743.0,945.7 L744.0,945.1 L745.0,945.0 L746.0,945.2 L747.0,945.7 L748.0,945.8 L749.0,945.1 L750.0,944.9 L751.0,945.2 L752.0,945.1 L753.0,944.9 L754.0,944.8 L755.0,945.1 L756.0,945.3 L757.0,945.5 L758.0,945.7 L759.0,945.4 L760.0,945.3 L761.0,945.4 L762.0,945.3 L763.0,945.1 L764.0,944.7 L765.0,944.9 L766.0,945.5 L767.0,945.7 L768.0,945.5 L769.0,945.0 L770.0,945.0 L771.0,945.3 L772.0,945.3 L773.0,945.5 L774.0,945.7 L775.0,945.4 L776.0,945.3 L777.0,945.6 L778.0,945.7 L779.0,945.8 L780.0,946.0 L781.0,945.8 L782.0,945.3 L783.0,945.3 L784.0,945.6 L785.0,945.5 L786.0,945.4 L787.0,945.6 L788.0,946.1 L789.0,945.7 L790.0,945.0 L791.0,945.0 L792.0,944.9 L793.0,945.2 L794.0,945.4 L795.0,945.2 L796.0,945.3 L797.0,945.6 L798.0,945.5 L799.0,945.3 L800.0,945.4 L801.0,945.6 L802.0,945.7 L803.0,945.7 L804.0,945.9 L805.0,946.1 L806.0,946.0 L807.0,945.7 L808.0,945.6 L809.0,945.6 L810.0,945.8 L811.0,945.9 L812.0,945.2 L813.0,945.0 L814.0,945.3 L815.0,945.5 L816.0,945.9 L817.0,946.0 L818.0,945.8 L819.0,945.4 L820.0,945.1 L821.0,945.0 L822.0,945.1 L823.0,945.2 L824.0,945.3 L825.0,945.7 L826.0,945.6 L827.0,944.7 L828.0,944.5 L829.0,945.1 L830.0,944.7 L831.0,944.0 L832.0,944.4 L833.0,945.4 L834.0,946.0 L835.0,946.1 L836.0,946.3 L837.0,946.5 L838.0,946.1 L839.0,945.3 L840.0,945.0 L841.0,945.1 L842.0,945.2 L843.0,945.3 L844.0,945.6 L845.0,945.8 L846.0,945.4 L847.0,945.2 L848.0,944.8 L849.0,944.8 L850.0,945.3 L851.0,945.3 L852.0,945.3 L853.0,945.3 L854.0,944.9 L855.0,945.0 L856.0,945.3 L857.0,944.8 L858.0,944.9 L859.0,945.2 L860.0,945.2 L861.0,945.1 L862.0,945.0 L863.0,944.8 L864.0,944.6 L865.0,944.1 L866.0,943.6 L867.0,943.5 L868.0,943.5 L869.0,943.5 L870.0,943.1 L871.0,942.5 L872.0,941.9 L873.0,941.1 L874.0,940.1 L875.0,939.0 L876.0,937.6 L877.0,935.8 L878.0,934.0 L879.0,932.1 L880.0,928.4 L881.0,923.4 L882.0,917.8 L883.0,910.9 L884.0,902.2 L885.0,892.3 L886.0,881.6 L887.0,871.2 L888.0,863.8 L888.8,862.3 L889.0,863.0 L890.0,867.4 L891.0,876.6 L892.0,888.1 L893.0,899.8 L894.0,910.2 L895.0,918.0 L896.0,923.6 L897.0,928.0 L898.0,931.2 L899.0,933.0 L900.0,934.1 L901.0,934.5 L902.0,933.7 L903.0,932.4 L904.0,930.8 L905.0,928.3 L906.0,925.2 L907.0,922.6 L908.0,921.4 L908.3,921.3 L909.0,922.0 L910.0,924.5 L911.0,927.7 L912.0,930.8 L913.0,934.0 L914.0,936.9 L915.0,938.7 L916.0,940.3 L917.0,941.7 L918.0,942.6 L919.0,943.0 L920.0,943.3 L921.0,943.7 L922.0,943.8 L923.0,944.0 L924.0,944.6 L925.0,944.7 L926.0,944.8 L927.0,945.3 L928.0,945.6 L929.0,945.8 L930.0,945.9 L931.0,945.5 L932.0,945.1 L933.0,945.1 L934.0,945.8 L935.0,946.2 L936.0,945.8 L937.0,945.5 L938.0,945.1 L939.0,945.1 L940.0,945.6 L941.0,945.9 L942.0,945.9 L943.0,945.9 L944.0,945.9 L945.0,945.5 L946.0,945.3 L947.0,945.2 L948.0,945.4 L949.0,945.8 L950.0,945.8 L951.0,945.4 L952.0,945.1 L953.0,945.2 L954.0,945.6 L955.0,945.8 L956.0,945.4 L957.0,945.5 L958.0,945.5 L959.0,945.3 L960.0,945.8 L961.0,946.5 L962.0,946.5 L963.0,945.9 L964.0,945.8 L965.0,946.0 L966.0,946.3 L967.0,946.3 L968.0,946.1 L969.0,945.9 L970.0,946.1 L971.0,946.1 L972.0,945.9 L973.0,946.0 L974.0,946.0 L975.0,945.7 L976.0,945.4 L977.0,945.4 L978.0,944.9 L979.0,944.7 L980.0,945.0 L981.0,945.1 L982.0,945.1 L983.0,944.9 L984.0,945.0 L985.0,944.8 L986.0,944.5 L987.0,944.6 L988.0,944.3 L989.0,944.1 L990.0,944.7 L991.0,944.6 L992.0,943.8 L993.0,943.3 L994.0,942.6 L995.0,941.5 L996.0,940.5 L997.0,938.8 L998.0,936.2 L999.0,933.2 L1000.0,929.1 L1001.0,923.8 L1002.0,917.9 L1003.0,911.6 L1004.0,905.6 L1005.0,901.2 L1005.7,899.9 L1006.0,900.2 L1007.0,902.7 L1008.0,907.9 L1009.0,914.7 L1010.0,921.5 L1011.0,927.5 L1012.0,932.1 L1013.0,935.4 L1014.0,937.7 L1015.0,939.5 L1016.0,940.7 L1017.0,941.5 L1018.0,942.5 L1019.0,942.8 L1020.0,942.8 L1021.0,943.5 L1022.0,944.1 L1023.0,944.3 L1024.0,944.7 L1025.0,944.7 L1026.0,944.0 L1027.0,943.6 L1028.0,943.5 L1029.0,943.5 L1030.0,943.5 L1031.0,943.2 L1032.0,942.5 L1033.0,941.4 L1034.0,940.0 L1035.0,938.2 L1036.0,936.4 L1037.0,934.2 L1038.0,930.4 L1039.0,924.8 L1040.0,917.6 L1041.0,908.9 L1042.0,899.4 L1043.0,889.6 L1044.0,881.5 L1045.0,877.3 L1045.3,877.0 L1046.0,878.5 L1047.0,884.7 L1048.0,893.8 L1049.0,903.6 L1050.0,912.6 L1051.0,919.9 L1052.0,925.2 L1053.0,929.1 L1054.0,931.7 L1055.0,933.4 L1056.0,934.1 L1057.0,933.8 L1058.0,933.4 L1059.0,933.3 L1060.0,933.2 L1061.0,933.3 L1062.0,934.1 L1063.0,935.3 L1064.0,936.8 L1065.0,938.4 L1066.0,939.3 L1067.0,940.1 L1068.0,941.2 L1069.0,942.2 L1070.0,943.0 L1071.0,943.7 L1072.0,944.2 L1073.0,944.2 L1074.0,944.3 L1075.0,944.6 L1076.0,944.5 L1077.0,944.3 L1078.0,943.9 L1079.0,943.4 L1080.0,943.4 L1081.0,943.2 L1082.0,942.9 L1083.0,942.1 L1084.0,941.6 L1085.0,941.0 L1086.0,939.7 L1087.0,938.6 L1088.0,938.3 L1089.0,938.3 L1090.0,938.3 L1090.3,938.2 L1091.0,938.3 L1092.0,938.9 L1093.0,939.2 L1094.0,939.4 L1095.0,940.1 L1096.0,941.0 L1097.0,941.9 L1098.0,942.3 L1099.0,942.8 L1100.0,943.6 L1101.0,944.0 L1102.0,944.3 L1103.0,944.6 L1104.0,944.6 L1105.0,944.8 L1106.0,945.2 L1107.0,945.1 L1108.0,945.0 L1109.0,944.9 L1110.0,945.1 L1111.0,945.3 L1112.0,945.8 L1113.0,945.8 L1114.0,944.9 L1115.0,944.6 L1116.0,945.0 L1117.0,945.0 L1118.0,944.7 L1119.0,944.6 L1120.0,944.6 L1121.0,944.4 L1122.0,944.6 L1123.0,945.0 L1124.0,944.5 L1125.0,943.4 L1126.0,942.2 L1127.0,941.6 L1128.0,941.5 L1129.0,940.7 L1130.0,938.9 L1131.0,936.7 L1132.0,934.1 L1133.0,930.5 L1134.0,925.9 L1135.0,920.8 L1136.0,915.7 L1137.0,910.8 L1138.0,906.5 L1139.0,904.2 L1139.1,904.0 L1140.0,906.0 L1141.0,910.9 L1142.0,917.3 L1143.0,924.3 L1144.0,930.5 L1145.0,935.4 L1146.0,938.4 L1147.0,940.3 L1148.0,941.7 L1149.0,943.0 L1150.0,944.1 L1151.0,944.6 L1152.0,944.8 L1153.0,944.9 L1154.0,944.8 L1155.0,944.9 L1156.0,945.8 L1157.0,946.9 L1158.0,946.9 L1159.0,946.6 L1160.0,946.4 L1161.0,945.8 L1162.0,945.8 L1163.0,946.2 L1164.0,946.4 L1165.0,946.9 L1166.0,946.7 L1167.0,945.9 L1168.0,945.8 L1169.0,946.1 L1170.0,946.3 L1171.0,946.1 L1172.0,945.8 L1173.0,945.9 L1174.0,946.6 L1175.0,946.7 L1176.0,946.1 L1177.0,945.7 L1178.0,946.5 L1179.0,947.2 L1180.0,947.0 L1181.0,946.3 L1182.0,945.7 L1183.0,945.7 L1184.0,946.2 L1185.0,946.3 L1186.0,946.2 L1187.0,946.5 L1188.0,946.7 L1189.0,946.4 L1190.0,946.2 L1191.0,946.2 L1192.0,945.7 L1193.0,945.3 L1194.0,945.4 L1195.0,945.9 L1196.0,946.1 L1197.0,946.0 L1198.0,946.0 L1199.0,946.4 L1200.0,946.7 L1201.0,946.3 L1202.0,945.7 L1203.0,945.5 L1204.0,945.8 L1205.0,946.2 L1206.0,946.2 L1207.0,946.0 L1208.0,945.8 L1209.0,945.6 L1210.0,945.6 L1211.0,945.9 L1212.0,946.0 L1213.0,946.4 L1214.0,946.4 L1215.0,946.2 L1216.0,946.3 L1217.0,946.3 L1218.0,946.2 L1219.0,946.4 L1220.0,946.4 L1221.0,945.9 L1222.0,946.2 L1223.0,946.5 L1224.0,946.1 L1225.0,945.9 L1226.0,946.3 L1227.0,946.2 L1228.0,945.7 L1229.0,945.7 L1230.0,946.1 L1231.0,946.0 L1232.0,946.0 L1233.0,946.3 L1234.0,946.2 L1235.0,946.1 L1236.0,946.0 L1237.0,946.1 L1238.0,946.4 L1239.0,946.4 L1240.0,946.4 L1241.0,946.6 L1242.0,946.9 L1243.0,946.8 L1244.0,946.4 L1245.0,946.1 L1246.0,946.1 L1247.0,946.6 L1248.0,947.1 L1249.0,947.1 L1250.0,946.7 L1251.0,946.7 L1252.0,946.5 L1253.0,946.3 L1254.0,946.2 L1255.0,946.1 L1256.0,946.7 L1257.0,947.1 L1258.0,946.5 L1259.0,946.3 L1260.0,946.2 L1261.0,945.9 L1262.0,945.6 L1263.0,945.3 L1264.0,945.3 L1265.0,945.6 L1266.0,945.4 L1267.0,944.6 L1268.0,944.0 L1269.0,943.8 L1270.0,944.1 L1271.0,944.0 L1272.0,943.9 L1273.0,944.4 L1274.0,944.4 L1275.0,944.6 L1276.0,944.9 L1277.0,944.7 L1278.0,944.8 L1279.0,945.6 L1280.0,945.5 L1281.0,945.4 L1282.0,946.2 L1283.0,946.5 L1284.0,946.2 L1285.0,946.1 L1286.0,946.4 L1287.0,946.5 L1288.0,946.2 L1289.0,945.9 L1290.0,946.0 L1291.0,945.9 L1292.0,945.7 L1293.0,945.8 L1294.0,946.0 L1295.0,946.4 L1296.0,946.8 L1297.0,947.2 L1298.0,947.4 L1299.0,947.0 L1300.0,946.4 L1301.0,946.3 L1302.0,946.6 L1303.0,946.4 L1304.0,945.8 L1305.0,946.0 L1306.0,946.4 L1307.0,946.4 L1308.0,946.5 L1309.0,946.9 L1310.0,946.9 L1311.0,946.3 L1312.0,945.9 L1313.0,945.8 L1314.0,946.2 L1315.0,947.1 L1316.0,947.2 L1317.0,946.8 L1318.0,946.5 L1319.0,946.8 L1320.0,947.0 L1321.0,946.7 L1322.0,946.9 L1323.0,946.9 L1324.0,946.4 L1325.0,946.3 L1326.0,946.3 L1327.0,946.5 L1328.0,946.8 L1329.0,946.9 L1330.0,947.1 L1331.0,946.6 L1332.0,946.0 L1333.0,946.2 L1334.0,945.7 L1335.0,945.3 L1336.0,945.8 L1337.0,946.6 L1338.0,947.3 L1339.0,947.3 L1340.0,947.0 L1341.0,946.8 L1342.0,946.7 L1343.0,946.6 L1344.0,946.7 L1345.0,946.5 L1346.0,946.4 L1347.0,946.5 L1348.0,946.8 L1349.0,947.4 L1350.0,947.0 L1351.0,946.3 L1352.0,946.1 L1353.0,946.2 L1354.0,946.5 L1355.0,946.5 L1356.0,946.1 L1357.0,946.4 L1358.0,947.1 L1359.0,946.9 L1360.0,946.5 L1361.0,946.4 L1362.0,946.4 L1363.0,946.8 L1364.0,947.2 L1365.0,947.1 L1366.0,946.4 L1367.0,946.3 L1368.0,946.5 L1369.0,946.6 L1370.0,946.9 L1371.0,946.9 L1372.0,946.1 L1373.0,945.5 L1374.0,945.7 L1375.0,946.1 L1376.0,946.2 L1377.0,946.5 L1378.0,946.7 L1379.0,946.6 L1380.0,946.4 L1381.0,946.4 L1382.0,946.3 L1383.0,946.1 L1384.0,946.7 L1385.0,947.6 L1386.0,947.3 L1387.0,946.7 L1388.0,946.5 L1389.0,946.6 L1390.0,946.8 L1391.0,947.0 L1392.0,946.6 L1393.0,946.2 L1394.0,946.2 L1395.0,946.3 L1396.0,946.3 L1397.0,946.6 L1398.0,946.7 L1399.0,946.3 L1400.0,946.4 L1401.0,946.4 L1402.0,946.1 L1403.0,945.8 L1404.0,945.6 L1405.0,945.6 L1406.0,945.8 L1407.0,946.1 L1408.0,946.6 L1409.0,947.1 L1410.0,947.2 L1411.0,946.9 L1412.0,946.8 L1413.0,946.9 L1414.0,946.8 L1415.0,946.9 L1416.0,946.9 L1417.0,946.7 L1418.0,946.2 L1419.0,946.2 L1420.0,946.8 L1421.0,946.8 L1422.0,946.5 L1423.0,946.7 L1424.0,946.6 L1425.0,946.7 L1426.0,946.8 L1427.0,946.1 L1428.0,946.2 L1429.0,946.9 L1430.0,947.2 L1431.0,947.4 L1432.0,947.2 L1433.0,946.7 L1434.0,946.7 L1435.0,946.9 L1436.0,946.6 L1437.0,946.3 L1438.0,946.5 L1439.0,946.6 L1440.0,946.5 L1441.0,946.3 L1442.0,946.1 L1443.0,945.8 L1444.0,946.4 L1445.0,947.0 L1446.0,946.7 L1447.0,946.9 L1448.0,947.2 L1449.0,946.8 L1450.0,946.8 L1451.0,946.8 L1452.0,946.6 L1453.0,946.9 L1454.0,946.7 L1455.0,946.1 L1456.0,945.9 L1457.0,946.3 L1458.0,947.2 L1459.0,947.2 L1460.0,946.2 L1461.0,945.8 L1462.0,945.6 L1463.0,945.3 L1464.0,945.1 L1465.0,944.9 L1466.0,944.9 L1467.0,945.0 L1468.0,944.9 L1469.0,944.6 L1470.0,944.2 L1471.0,944.0 L1472.0,943.6 L1473.0,943.4 L1474.0,943.3 L1475.0,942.5 L1476.0,941.9 L1477.0,941.8 L1478.0,941.5 L1479.0,941.4 L1480.0,941.2 L1481.0,940.6 L1482.0,940.7 L1483.0,941.3 L1484.0,942.1 L1485.0,942.6 L1486.0,943.1 L1487.0,943.8 L1488.0,943.6 L1489.0,943.2 L1490.0,943.6 L1491.0,943.7 L1492.0,943.8 L1493.0,944.1 L1494.0,944.4 L1495.0,944.8 L1496.0,945.1 L1497.0,944.9 L1498.0,944.4 L1499.0,944.3 L1500.0,944.1 L1501.0,943.3 L1502.0,942.9 L1503.0,942.1 L1504.0,940.8 L1505.0,939.5 L1506.0,937.9 L1507.0,936.2 L1508.0,934.5 L1509.0,932.7 L1510.0,931.8 L1511.0,932.1 L1512.0,933.4 L1513.0,935.3 L1514.0,936.9 L1515.0,938.2 L1516.0,939.7 L1517.0,941.1 L1518.0,942.0 L1519.0,942.4 L1520.0,942.5 L1521.0,942.3 L1522.0,942.5 L1523.0,942.9 L1524.0,942.9 L1525.0,942.5 L1526.0,942.0 L1527.0,941.7 L1528.0,941.5 L1529.0,941.3 L1530.0,941.5 L1531.0,941.4 L1532.0,941.2 L1533.0,941.1 L1534.0,940.3 L1535.0,939.6 L1536.0,939.6 L1537.0,939.3 L1538.0,939.3 L1539.0,939.7 L1540.0,940.0 L1541.0,939.8 L1542.0,939.6 L1543.0,940.0 L1544.0,940.3 L1545.0,940.7 L1546.0,940.9 L1547.0,940.6 L1548.0,940.6 L1549.0,941.2 L1550.0,941.4 L1551.0,941.6 L1552.0,941.8 L1553.0,941.7 L1554.0,941.9 L1555.0,942.3 L1556.0,942.8 L1557.0,943.1 L1558.0,943.5 L1559.0,943.8 L1560.0,943.6 L1561.0,943.1 L1562.0,942.8 L1563.0,942.9 L1564.0,943.2 L1565.0,943.7 L1566.0,943.6 L1567.0,942.9 L1568.0,942.8 L1569.0,942.8 L1570.0,942.5 L1571.0,942.3 L1572.0,942.1 L1573.0,942.0 L1574.0,942.1 L1575.0,941.9 L1576.0,941.6 L1577.0,941.6 L1578.0,941.3 L1579.0,941.2 L1580.0,941.2 L1581.0,941.3 L1582.0,941.5 L1583.0,941.5 L1584.0,941.8 L1585.0,942.5 L1586.0,942.6 L1587.0,942.2 L1588.0,942.2 L1589.0,943.1 L1590.0,944.0 L1591.0,943.9 L1592.0,944.1 L1593.0,944.7 L1594.0,945.2 L1595.0,945.4 L1596.0,945.4 L1597.0,945.1 L1598.0,945.1 L1599.0,945.6 L1600.0,945.8 L1601.0,945.6 L1602.0,945.2 L1603.0,945.3 L1604.0,945.4 L1605.0,944.9 L1606.0,944.4 L1607.0,943.6 L1608.0,943.0 L1609.0,943.1 L1610.0,943.6 L1611.0,944.3 L1612.0,944.5 L1613.0,944.7 L1614.0,945.3 L1615.0,945.7 L1616.0,945.9 L1617.0,946.2 L1618.0,946.7 L1619.0,946.8 L1620.0,946.8 L1621.0,946.8 L1622.0,946.7 L1623.0,946.8 L1624.0,946.9 L1625.0,946.3 L1626.0,945.8 L1627.0,945.8 L1628.0,946.1 L1629.0,946.7 L1630.0,947.0 L1631.0,946.7 L1632.0,946.6 L1633.0,946.7 L1634.0,947.1 L1635.0,947.4 L1636.0,947.4 L1637.0,947.1 L1638.0,947.1 L1639.0,947.1 L1640.0,946.7 L1641.0,946.5 L1642.0,946.4 L1643.0,946.3 L1644.0,946.2 L1645.0,946.4 L1646.0,946.8 L1647.0,946.7 L1648.0,946.4 L1649.0,946.7 L1650.0,946.8 L1651.0,946.9 L1652.0,947.0 L1653.0,946.9 L1654.0,947.1 L1655.0,947.4 L1656.0,946.9 L1657.0,946.7 L1658.0,946.7 L1659.0,946.3 L1660.0,946.5 L1661.0,947.2 L1662.0,947.3 L1663.0,946.9 L1664.0,946.8 L1665.0,946.7 L1666.0,946.4 L1667.0,946.4 L1668.0,946.4 L1669.0,946.3 L1670.0,946.7 L1671.0,947.0 L1672.0,946.9 L1673.0,946.5 L1674.0,946.1 L1675.0,946.1 L1676.0,946.6 L1677.0,947.0 L1678.0,946.8 L1679.0,946.7 L1680.0,947.3 L1681.0,947.6 L1682.0,946.9 L1683.0,946.3 L1684.0,946.8 L1685.0,947.2 L1686.0,946.7 L1687.0,946.5 L1688.0,946.6 L1689.0,946.8 L1690.0,946.9 L1691.0,946.6 L1692.0,946.4 L1693.0,946.7 L1694.0,947.2 L1695.0,947.6 L1696.0,947.8 L1697.0,947.6 L1698.0,947.2 L1699.0,947.0 L1700.0,947.0 L1701.0,946.6 L1702.0,946.4 L1703.0,946.8 L1704.0,947.2 L1705.0,947.6 L1706.0,947.4 L1707.0,946.9 L1708.0,946.7 L1709.0,946.7 L1710.0,947.0 L1711.0,946.7 L1712.0,946.0 L1713.0,946.0 L1714.0,946.8 L1715.0,947.0 L1716.0,947.0 L1717.0,947.3 L1718.0,947.3 L1719.0,947.1 L1720.0,946.9 L1721.0,946.7 L1722.0,947.0 L1723.0,947.6 L1724.0,947.5 L1725.0,947.1 L1726.0,947.0 L1727.0,947.0 L1728.0,946.7 L1729.0,946.5 L1730.0,947.0 L1731.0,947.2 L1732.0,946.6 L1733.0,946.1 L1734.0,946.0 L1735.0,946.4 L1736.0,947.1 L1737.0,946.9 L1738.0,946.7 L1739.0,947.0 L1740.0,947.0 L1741.0,946.9 L1742.0,946.6 L1743.0,946.5 L1744.0,946.6 L1745.0,946.8 L1746.0,946.8 L1747.0,946.7 L1748.0,946.5 L1749.0,946.7 L1750.0,946.8 L1751.0,947.0 L1752.0,947.2 L1753.0,947.2 L1754.0,947.4 L1755.0,947.4 L1756.0,946.9 L1757.0,946.4 L1758.0,946.5 L1759.0,946.8 L1760.0,946.8 L1761.0,947.1 L1762.0,947.2 L1763.0,946.9 L1764.0,946.9 L1765.0,946.8 L1766.0,946.8 L1767.0,946.6 L1768.0,946.2 L1769.0,946.7 L1770.0,947.2 L1771.0,946.7 L1772.0,946.4 L1773.0,946.9 L1774.0,946.9 L1775.0,946.5 L1776.0,946.3 L1777.0,946.0 L1778.0,946.0 L1779.0,946.7 L1780.0,947.1 L1781.0,947.2 L1782.0,946.9 L1783.0,946.7 L1784.0,946.6 L1785.0,946.2 L1786.0,946.0 L1787.0,946.1 L1788.0,946.0 L1789.0,945.8 L1790.0,945.8 L1791.0,946.3 L1792.0,946.6 L1793.0,946.5 L1794.0,946.4 L1795.0,946.0 L1796.0,945.2 L1797.0,944.4 L1798.0,943.9 L1799.0,943.5 L1800.0,943.3 L1801.0,942.7 L1802.0,941.4 L1803.0,940.0 L1804.0,938.3 L1805.0,936.3 L1806.0,933.7 L1807.0,930.0 L1808.0,925.1 L1809.0,920.0 L1810.0,914.5 L1811.0,909.1 L1812.0,906.5 L1812.2,906.7 L1813.0,908.2 L1814.0,912.2 L1815.0,917.3 L1816.0,922.9 L1817.0,928.4 L1818.0,933.0 L1819.0,936.1 L1820.0,938.7 L1821.0,940.8 L1822.0,941.7 L1823.0,942.7 L1824.0,944.2 L1825.0,945.2 L1826.0,945.9 L1827.0,946.1 L1828.0,945.6 L1829.0,945.6 L1830.0,945.7 L1831.0,945.4 L1832.0,946.1 L1833.0,947.2 L1834.0,947.0 L1835.0,946.7 L1836.0,947.3 L1837.0,947.5 L1838.0,946.8 L1839.0,946.6 L1840.0,947.0 L1841.0,947.2 L1842.0,946.7 L1843.0,946.4 L1844.0,946.6 L1845.0,946.4 L1846.0,945.7 L1847.0,945.4 L1848.0,945.7 L1849.0,945.8 L1850.0,945.4 L1851.0,945.3 L1852.0,945.2 L1853.0,944.7 L1854.0,944.4 L1855.0,944.5 L1856.0,944.6 L1857.0,945.1 L1858.0,945.8 L1859.0,946.2 L1860.0,946.0 L1861.0,945.6 L1862.0,945.5 L1863.0,945.6 L1864.0,946.0 L1865.0,946.8 L1866.0,947.3 L1867.0,947.4 L1868.0,946.8 L1869.0,946.2 L1870.0,946.4 L1871.0,947.0 L1872.0,947.1 L1873.0,947.0 L1874.0,947.0" stroke="#000000" stroke-width="4.2"/>
<path class="c" d="M138.0,1106.0 L139.0,1106.0 L140.0,1106.0 L141.0,1106.0 L142.0,1106.0 L143.0,1106.0 L144.0,1106.0 L145.0,1106.0 L146.0,1106.0 L147.0,1106.0 L148.0,1106.0 L149.0,1106.0 L150.0,1106.0 L151.0,1106.0 L152.0,1106.0 L153.0,1106.0 L154.0,1106.0 L155.0,1106.0 L156.0,1106.0 L157.0,1106.0 L158.0,1106.0 L159.0,1106.0 L160.0,1106.0 L161.0,1106.0 L162.0,1106.0 L163.0,1106.0 L164.0,1106.0 L165.0,1106.0 L166.0,1106.0 L167.0,1106.0 L168.0,1106.0 L169.0,1106.0 L170.0,1106.0 L171.0,1106.0 L172.0,1106.0 L173.0,1106.0 L174.0,1106.0 L175.0,1106.0 L176.0,1106.0 L177.0,1106.0 L178.0,1106.0 L179.0,1106.0 L180.0,1106.0 L181.0,1106.0 L182.0,1106.0 L183.0,1106.0 L184.0,1106.0 L185.0,1106.0 L186.0,1106.0 L187.0,1106.0 L188.0,1106.0 L189.0,1106.0 L190.0,1106.0 L191.0,1106.0 L192.0,1106.0 L193.0,1106.0 L194.0,1106.0 L195.0,1106.0 L196.0,1106.0 L197.0,1106.0 L198.0,1106.0 L199.0,1106.0 L200.0,1106.0 L201.0,1106.0 L202.0,1106.0 L203.0,1106.0 L204.0,1106.0 L205.0,1106.0 L206.0,1106.0 L207.0,1106.0 L208.0,1106.0 L209.0,1106.0 L210.0,1106.0 L211.0,1106.0 L212.0,1106.0 L213.0,1106.0 L214.0,1106.0 L215.0,1106.0 L216.0,1106.0 L217.0,1106.0 L218.0,1106.0 L219.0,1106.0 L220.0,1106.0 L221.0,1106.0 L222.0,1106.0 L223.0,1106.0 L224.0,1106.0 L225.0,1106.0 L226.0,1106.0 L227.0,1106.0 L228.0,1106.0 L229.0,1106.0 L230.0,1106.0 L231.0,1106.0 L232.0,1106.0 L233.0,1106.0 L234.0,1106.0 L235.0,1106.0 L236.0,1106.0 L237.0,1106.0 L238.0,1106.0 L239.0,1106.0 L240.0,1106.0 L241.0,1106.0 L242.0,1106.0 L243.0,1106.0 L244.0,1106.0 L245.0,1106.0 L246.0,1106.0 L247.0,1106.0 L248.0,1106.0 L249.0,1106.0 L250.0,1106.0 L251.0,1106.0 L252.0,1106.0 L253.0,1106.0 L254.0,1106.0 L255.0,1106.0 L256.0,1106.0 L257.0,1106.0 L258.0,1106.0 L259.0,1106.0 L260.0,1106.0 L261.0,1106.0 L262.0,1106.0 L263.0,1106.0 L264.0,1106.0 L265.0,1106.0 L266.0,1106.0 L267.0,1106.0 L268.0,1106.0 L269.0,1106.0 L270.0,1106.0 L271.0,1106.0 L272.0,1106.0 L273.0,1106.0 L274.0,1106.0 L275.0,1106.0 L276.0,1106.0 L277.0,1106.0 L278.0,1106.0 L279.0,1106.0 L280.0,1106.0 L281.0,1106.0 L282.0,1106.0 L283.0,1106.0 L284.0,1106.0 L285.0,1106.0 L286.0,1106.0 L287.0,1106.0 L288.0,1106.0 L289.0,1106.0 L290.0,1106.0 L291.0,1106.0 L292.0,1106.0 L293.0,1106.0 L294.0,1106.0 L295.0,1106.0 L296.0,1106.0 L297.0,1106.0 L298.0,1106.0 L299.0,1106.0 L300.0,1106.0 L301.0,1106.0 L302.0,1106.0 L303.0,1106.0 L304.0,1106.0 L305.0,1106.0 L306.0,1106.0 L307.0,1106.0 L308.0,1106.0 L309.0,1106.0 L310.0,1106.0 L311.0,1106.0 L312.0,1106.0 L313.0,1106.0 L314.0,1106.0 L315.0,1106.0 L316.0,1106.0 L317.0,1106.0 L318.0,1106.0 L319.0,1106.0 L320.0,1106.0 L321.0,1106.0 L322.0,1106.0 L323.0,1106.0 L324.0,1106.0 L325.0,1106.0 L326.0,1106.0 L327.0,1106.0 L328.0,1106.0 L329.0,1106.0 L330.0,1106.0 L331.0,1106.0 L332.0,1106.0 L333.0,1106.0 L334.0,1106.0 L335.0,1106.0 L336.0,1106.0 L337.0,1106.0 L338.0,1106.0 L339.0,1106.0 L340.0,1106.0 L341.0,1106.0 L342.0,1106.0 L343.0,1106.0 L344.0,1106.0 L345.0,1106.0 L346.0,1106.0 L347.0,1106.0 L348.0,1106.0 L349.0,1106.0 L350.0,1106.0 L351.0,1106.0 L352.0,1106.0 L353.0,1106.0 L354.0,1106.0 L355.0,1106.0 L356.0,1106.0 L357.0,1106.0 L358.0,1106.0 L359.0,1106.0 L360.0,1106.0 L361.0,1106.0 L362.0,1106.0 L363.0,1106.0 L364.0,1106.0 L365.0,1106.0 L366.0,1106.0 L367.0,1106.0 L368.0,1106.0 L369.0,1106.0 L370.0,1106.0 L371.0,1106.0 L372.0,1106.0 L373.0,1106.0 L374.0,1106.0 L375.0,1106.0 L376.0,1106.0 L377.0,1106.0 L378.0,1106.0 L379.0,1106.0 L380.0,1106.0 L381.0,1106.0 L382.0,1106.0 L383.0,1106.0 L384.0,1106.0 L385.0,1106.0 L386.0,1106.0 L387.0,1106.0 L388.0,1106.0 L389.0,1106.0 L390.0,1106.0 L391.0,1106.0 L392.0,1106.0 L393.0,1106.0 L394.0,1106.0 L395.0,1106.0 L396.0,1106.0 L397.0,1106.0 L398.0,1106.0 L399.0,1106.0 L400.0,1106.0 L401.0,1106.0 L402.0,1106.0 L403.0,1106.0 L404.0,1106.0 L405.0,1106.0 L406.0,1106.0 L407.0,1106.0 L408.0,1106.0 L409.0,1106.0 L410.0,1106.0 L411.0,1106.0 L412.0,1106.0 L413.0,1106.0 L414.0,1106.0 L415.0,1106.0 L416.0,1106.0 L417.0,1106.0 L418.0,1106.0 L419.0,1106.0 L420.0,1106.0 L421.0,1106.0 L422.0,1106.0 L423.0,1106.0 L424.0,1106.0 L425.0,1106.0 L426.0,1106.0 L427.0,1106.0 L428.0,1106.0 L429.0,1106.0 L430.0,1106.0 L431.0,1106.0 L432.0,1106.0 L433.0,1106.0 L434.0,1106.0 L435.0,1106.0 L436.0,1106.0 L437.0,1106.0 L438.0,1106.0 L439.0,1106.0 L440.0,1106.0 L441.0,1106.0 L442.0,1106.0 L443.0,1106.0 L444.0,1106.0 L445.0,1106.0 L446.0,1106.0 L447.0,1106.0 L448.0,1106.0 L449.0,1106.0 L450.0,1106.0 L451.0,1106.0 L452.0,1106.0 L453.0,1106.0 L454.0,1106.0 L455.0,1106.0 L456.0,1106.0 L457.0,1106.0 L458.0,1106.0 L459.0,1106.0 L460.0,1106.0 L461.0,1106.0 L462.0,1106.0 L463.0,1106.0 L464.0,1106.0 L465.0,1106.0 L466.0,1106.0 L467.0,1106.0 L468.0,1106.0 L469.0,1106.0 L470.0,1106.0 L471.0,1106.0 L472.0,1106.0 L473.0,1106.0 L474.0,1106.0 L475.0,1106.0 L476.0,1106.0 L477.0,1106.0 L478.0,1106.0 L479.0,1106.0 L480.0,1106.0 L481.0,1106.0 L482.0,1106.0 L483.0,1106.0 L484.0,1106.0 L485.0,1106.0 L486.0,1106.0 L487.0,1106.0 L488.0,1106.0 L489.0,1106.0 L490.0,1106.0 L491.0,1106.0 L492.0,1106.0 L493.0,1106.0 L494.0,1106.0 L495.0,1106.0 L496.0,1106.0 L497.0,1106.0 L498.0,1106.0 L499.0,1106.0 L500.0,1106.0 L501.0,1106.0 L502.0,1106.0 L503.0,1106.0 L504.0,1106.0 L505.0,1106.0 L506.0,1106.0 L507.0,1106.0 L508.0,1106.0 L509.0,1106.0 L510.0,1106.0 L511.0,1106.0 L512.0,1106.0 L513.0,1106.0 L514.0,1106.0 L515.0,1106.0 L516.0,1106.0 L517.0,1106.0 L518.0,1106.0 L519.0,1106.0 L520.0,1106.0 L521.0,1106.0 L522.0,1106.0 L523.0,1106.0 L524.0,1106.0 L525.0,1106.0 L526.0,1106.0 L527.0,1106.0 L528.0,1106.0 L529.0,1106.0 L530.0,1106.0 L531.0,1106.0 L532.0,1106.0 L533.0,1106.0 L534.0,1106.0 L535.0,1106.0 L536.0,1106.0 L537.0,1106.0 L538.0,1106.0 L539.0,1106.0 L540.0,1106.0 L541.0,1106.0 L542.0,1106.0 L543.0,1106.0 L544.0,1106.0 L545.0,1106.0 L546.0,1106.0 L547.0,1106.0 L548.0,1106.0 L549.0,1106.0 L550.0,1106.0 L551.0,1106.0 L552.0,1106.0 L553.0,1106.0 L554.0,1106.0 L555.0,1106.0 L556.0,1106.0 L557.0,1106.0 L558.0,1106.0 L559.0,1106.0 L560.0,1106.0 L561.0,1106.0 L562.0,1106.0 L563.0,1106.0 L564.0,1106.0 L565.0,1106.0 L566.0,1106.0 L567.0,1106.0 L568.0,1106.0 L569.0,1106.0 L570.0,1106.0 L571.0,1106.0 L572.0,1106.0 L573.0,1106.0 L574.0,1106.0 L575.0,1106.0 L576.0,1106.0 L577.0,1106.0 L578.0,1106.0 L579.0,1106.0 L580.0,1106.0 L581.0,1106.0 L582.0,1106.0 L583.0,1106.0 L584.0,1106.0 L585.0,1106.0 L586.0,1106.0 L587.0,1106.0 L588.0,1106.0 L589.0,1106.0 L590.0,1106.0 L591.0,1106.0 L592.0,1106.0 L593.0,1106.0 L594.0,1106.0 L595.0,1106.0 L596.0,1106.0 L597.0,1106.0 L598.0,1106.0 L599.0,1106.0 L600.0,1106.0 L601.0,1106.0 L602.0,1106.0 L603.0,1106.0 L604.0,1106.0 L605.0,1106.0 L606.0,1106.0 L607.0,1106.0 L608.0,1106.0 L609.0,1106.0 L610.0,1106.0 L611.0,1106.0 L612.0,1106.0 L613.0,1106.0 L614.0,1106.0 L615.0,1106.0 L616.0,1106.0 L617.0,1106.0 L618.0,1106.0 L619.0,1106.0 L620.0,1106.0 L621.0,1106.0 L622.0,1106.0 L623.0,1106.0 L624.0,1106.0 L625.0,1106.0 L626.0,1106.0 L627.0,1106.0 L628.0,1106.0 L629.0,1106.0 L630.0,1106.0 L631.0,1106.0 L632.0,1106.0 L633.0,1106.0 L634.0,1106.0 L635.0,1106.0 L636.0,1106.0 L637.0,1106.0 L638.0,1106.0 L639.0,1106.0 L640.0,1106.0 L641.0,1106.0 L642.0,1106.0 L643.0,1106.0 L644.0,1106.0 L645.0,1106.0 L646.0,1106.0 L647.0,1106.0 L648.0,1106.0 L649.0,1106.0 L650.0,1106.0 L651.0,1106.0 L652.0,1106.0 L653.0,1106.0 L654.0,1106.0 L655.0,1106.0 L656.0,1106.0 L657.0,1106.0 L658.0,1106.0 L659.0,1106.0 L660.0,1106.0 L661.0,1106.0 L662.0,1106.0 L663.0,1106.0 L664.0,1106.0 L665.0,1106.0 L666.0,1106.0 L667.0,1106.0 L668.0,1106.0 L669.0,1106.0 L670.0,1106.0 L671.0,1106.0 L672.0,1106.0 L673.0,1106.0 L674.0,1106.0 L675.0,1106.0 L676.0,1106.0 L677.0,1106.0 L678.0,1106.0 L679.0,1106.0 L680.0,1106.0 L681.0,1106.0 L682.0,1106.0 L683.0,1106.0 L684.0,1106.0 L685.0,1106.0 L686.0,1106.0 L687.0,1106.0 L688.0,1106.0 L689.0,1106.0 L690.0,1106.0 L691.0,1106.0 L692.0,1106.0 L693.0,1106.0 L694.0,1106.0 L695.0,1106.0 L696.0,1106.0 L697.0,1106.0 L698.0,1106.0 L699.0,1106.0 L700.0,1106.0 L701.0,1106.0 L702.0,1106.0 L703.0,1106.0 L704.0,1106.0 L705.0,1106.0 L706.0,1106.0 L707.0,1106.0 L708.0,1106.0 L709.0,1106.0 L710.0,1106.0 L711.0,1106.0 L712.0,1106.0 L713.0,1106.0 L714.0,1106.0 L715.0,1106.0 L716.0,1106.0 L717.0,1106.0 L718.0,1106.0 L719.0,1106.0 L720.0,1106.0 L721.0,1106.0 L722.0,1106.0 L723.0,1106.0 L724.0,1106.0 L725.0,1106.0 L726.0,1106.0 L727.0,1106.0 L728.0,1106.0 L729.0,1106.0 L730.0,1106.0 L731.0,1106.0 L732.0,1106.0 L733.0,1106.0 L734.0,1106.0 L735.0,1106.0 L736.0,1106.0 L737.0,1106.0 L738.0,1106.0 L739.0,1106.0 L740.0,1106.0 L741.0,1106.0 L742.0,1106.0 L743.0,1106.0 L744.0,1106.0 L745.0,1106.0 L746.0,1106.0 L747.0,1106.0 L748.0,1106.0 L749.0,1106.0 L750.0,1106.0 L751.0,1106.0 L752.0,1106.0 L753.0,1106.0 L754.0,1106.0 L755.0,1106.0 L756.0,1106.0 L757.0,1106.0 L758.0,1106.0 L759.0,1106.0 L760.0,1106.0 L761.0,1106.0 L762.0,1106.0 L763.0,1106.0 L764.0,1106.0 L765.0,1106.0 L766.0,1106.0 L767.0,1106.0 L768.0,1106.0 L769.0,1106.0 L770.0,1106.0 L771.0,1106.0 L772.0,1106.0 L773.0,1106.0 L774.0,1106.0 L775.0,1106.0 L776.0,1106.0 L777.0,1106.0 L778.0,1106.0 L779.0,1106.0 L780.0,1106.0 L781.0,1106.0 L782.0,1106.0 L783.0,1106.0 L784.0,1106.0 L785.0,1106.0 L786.0,1106.0 L787.0,1106.0 L788.0,1106.0 L789.0,1106.0 L790.0,1106.0 L791.0,1106.0 L792.0,1106.0 L793.0,1106.0 L794.0,1106.0 L795.0,1106.0 L796.0,1106.0 L797.0,1106.0 L798.0,1106.0 L799.0,1106.0 L800.0,1106.0 L801.0,1106.0 L802.0,1106.0 L803.0,1106.0 L804.0,1106.0 L805.0,1106.0 L806.0,1106.0 L807.0,1106.0 L808.0,1106.0 L809.0,1106.0 L810.0,1106.0 L811.0,1106.0 L812.0,1106.0 L813.0,1106.0 L814.0,1106.0 L815.0,1106.0 L816.0,1106.0 L817.0,1106.0 L818.0,1106.0 L819.0,1106.0 L820.0,1106.0 L821.0,1106.0 L822.0,1106.0 L823.0,1106.0 L824.0,1106.0 L825.0,1106.0 L826.0,1106.0 L827.0,1106.0 L828.0,1106.0 L829.0,1106.0 L830.0,1106.0 L831.0,1106.0 L832.0,1106.0 L833.0,1106.0 L834.0,1106.0 L835.0,1106.0 L836.0,1106.0 L837.0,1106.0 L838.0,1106.0 L839.0,1106.0 L840.0,1106.0 L841.0,1106.0 L842.0,1106.0 L843.0,1106.0 L844.0,1106.0 L845.0,1106.0 L846.0,1106.0 L847.0,1106.0 L848.0,1106.0 L849.0,1106.0 L850.0,1106.0 L851.0,1105.9 L852.0,1105.9 L853.0,1105.9 L854.0,1105.9 L855.0,1105.9 L856.0,1105.9 L857.0,1105.9 L858.0,1105.9 L859.0,1105.9 L860.0,1105.9 L861.0,1105.9 L862.0,1105.9 L863.0,1105.8 L864.0,1105.8 L865.0,1105.8 L866.0,1105.8 L867.0,1105.8 L868.0,1105.7 L869.0,1105.7 L870.0,1105.6 L871.0,1105.6 L872.0,1105.5 L873.0,1105.5 L874.0,1105.4 L875.0,1105.2 L876.0,1105.1 L877.0,1104.9 L878.0,1104.6 L879.0,1104.3 L880.0,1103.9 L881.0,1103.3 L882.0,1102.5 L883.0,1101.3 L884.0,1099.7 L885.0,1097.4 L886.0,1094.1 L887.0,1089.5 L888.0,1083.6 L889.0,1077.1 L890.0,1072.1 L890.7,1070.9 L891.0,1071.1 L892.0,1074.8 L893.0,1081.0 L894.0,1087.3 L895.0,1092.5 L896.0,1096.2 L897.0,1098.9 L898.0,1100.8 L899.0,1102.1 L900.0,1103.0 L901.0,1103.7 L902.0,1104.2 L903.0,1104.5 L904.0,1104.8 L905.0,1105.0 L906.0,1105.2 L907.0,1105.3 L908.0,1105.4 L909.0,1105.5 L910.0,1105.6 L911.0,1105.6 L912.0,1105.7 L913.0,1105.7 L914.0,1105.7 L915.0,1105.8 L916.0,1105.8 L917.0,1105.8 L918.0,1105.8 L919.0,1105.9 L920.0,1105.9 L921.0,1105.9 L922.0,1105.9 L923.0,1105.9 L924.0,1105.9 L925.0,1105.9 L926.0,1105.9 L927.0,1105.9 L928.0,1105.9 L929.0,1105.9 L930.0,1105.9 L931.0,1105.9 L932.0,1105.9 L933.0,1106.0 L934.0,1106.0 L935.0,1106.0 L936.0,1106.0 L937.0,1106.0 L938.0,1106.0 L939.0,1106.0 L940.0,1106.0 L941.0,1106.0 L942.0,1106.0 L943.0,1106.0 L944.0,1106.0 L945.0,1106.0 L946.0,1106.0 L947.0,1106.0 L948.0,1106.0 L949.0,1106.0 L950.0,1106.0 L951.0,1106.0 L952.0,1106.0 L953.0,1106.0 L954.0,1106.0 L955.0,1106.0 L956.0,1106.0 L957.0,1106.0 L958.0,1106.0 L959.0,1106.0 L960.0,1106.0 L961.0,1106.0 L962.0,1106.0 L963.0,1106.0 L964.0,1106.0 L965.0,1106.0 L966.0,1106.0 L967.0,1106.0 L968.0,1106.0 L969.0,1105.9 L970.0,1105.9 L971.0,1105.9 L972.0,1105.9 L973.0,1105.9 L974.0,1105.9 L975.0,1105.9 L976.0,1105.9 L977.0,1105.9 L978.0,1105.9 L979.0,1105.9 L980.0,1105.9 L981.0,1105.9 L982.0,1105.8 L983.0,1105.8 L984.0,1105.8 L985.0,1105.8 L986.0,1105.7 L987.0,1105.7 L988.0,1105.6 L989.0,1105.6 L990.0,1105.5 L991.0,1105.4 L992.0,1105.3 L993.0,1105.1 L994.0,1104.9 L995.0,1104.6 L996.0,1104.3 L997.0,1103.8 L998.0,1103.1 L999.0,1102.1 L1000.0,1100.7 L1001.0,1098.7 L1002.0,1095.8 L1003.0,1092.0 L1004.0,1087.6 L1005.0,1083.7 L1006.0,1082.1 L1007.0,1083.7 L1008.0,1087.6 L1009.0,1092.0 L1010.0,1095.8 L1011.0,1098.7 L1012.0,1100.7 L1013.0,1102.1 L1014.0,1103.1 L1015.0,1103.8 L1016.0,1104.3 L1017.0,1104.6 L1018.0,1104.9 L1019.0,1105.1 L1020.0,1105.3 L1021.0,1105.4 L1022.0,1105.5 L1023.0,1105.6 L1024.0,1105.6 L1025.0,1105.7 L1026.0,1105.7 L1027.0,1105.7 L1028.0,1105.8 L1029.0,1105.8 L1030.0,1105.8 L1031.0,1105.8 L1032.0,1105.8 L1033.0,1105.9 L1034.0,1105.9 L1035.0,1105.9 L1036.0,1105.9 L1037.0,1105.9 L1038.0,1105.9 L1039.0,1105.9 L1040.0,1105.9 L1041.0,1105.9 L1042.0,1105.9 L1043.0,1105.8 L1044.0,1105.8 L1045.0,1105.8 L1046.0,1105.8 L1047.0,1105.7 L1048.0,1105.7 L1049.0,1105.6 L1050.0,1105.6 L1051.0,1105.4 L1052.0,1105.3 L1053.0,1105.1 L1054.0,1104.8 L1055.0,1104.4 L1056.0,1103.8 L1057.0,1103.0 L1058.0,1101.8 L1059.0,1100.4 L1060.0,1098.9 L1061.0,1097.8 L1061.5,1097.7 L1062.0,1097.8 L1063.0,1098.9 L1064.0,1100.4 L1065.0,1101.8 L1066.0,1103.0 L1067.0,1103.8 L1068.0,1104.4 L1069.0,1104.8 L1070.0,1105.1 L1071.0,1105.3 L1072.0,1105.4 L1073.0,1105.5 L1074.0,1105.6 L1075.0,1105.7 L1076.0,1105.7 L1077.0,1105.7 L1078.0,1105.7 L1079.0,1105.7 L1080.0,1105.7 L1081.0,1105.7 L1082.0,1105.7 L1083.0,1105.6 L1084.0,1105.5 L1085.0,1105.4 L1086.0,1105.2 L1087.0,1104.9 L1088.0,1104.5 L1089.0,1103.9 L1090.0,1103.2 L1091.0,1102.5 L1092.0,1102.0 L1092.5,1101.9 L1093.0,1102.0 L1094.0,1102.5 L1095.0,1103.2 L1096.0,1103.9 L1097.0,1104.5 L1098.0,1104.9 L1099.0,1105.2 L1100.0,1105.4 L1101.0,1105.6 L1102.0,1105.7 L1103.0,1105.7 L1104.0,1105.8 L1105.0,1105.8 L1106.0,1105.9 L1107.0,1105.9 L1108.0,1105.9 L1109.0,1105.9 L1110.0,1105.9 L1111.0,1105.9 L1112.0,1105.9 L1113.0,1106.0 L1114.0,1106.0 L1115.0,1106.0 L1116.0,1106.0 L1117.0,1106.0 L1118.0,1106.0 L1119.0,1106.0 L1120.0,1106.0 L1121.0,1106.0 L1122.0,1106.0 L1123.0,1106.0 L1124.0,1106.0 L1125.0,1106.0 L1126.0,1106.0 L1127.0,1106.0 L1128.0,1106.0 L1129.0,1106.0 L1130.0,1106.0 L1131.0,1106.0 L1132.0,1106.0 L1133.0,1106.0 L1134.0,1106.0 L1135.0,1106.0 L1136.0,1106.0 L1137.0,1106.0 L1138.0,1106.0 L1139.0,1106.0 L1140.0,1106.0 L1141.0,1106.0 L1142.0,1106.0 L1143.0,1106.0 L1144.0,1106.0 L1145.0,1106.0 L1146.0,1106.0 L1147.0,1106.0 L1148.0,1106.0 L1149.0,1106.0 L1150.0,1106.0 L1151.0,1106.0 L1152.0,1106.0 L1153.0,1106.0 L1154.0,1106.0 L1155.0,1106.0 L1156.0,1106.0 L1157.0,1106.0 L1158.0,1106.0 L1159.0,1106.0 L1160.0,1106.0 L1161.0,1106.0 L1162.0,1106.0 L1163.0,1106.0 L1164.0,1106.0 L1165.0,1106.0 L1166.0,1106.0 L1167.0,1106.0 L1168.0,1106.0 L1169.0,1106.0 L1170.0,1106.0 L1171.0,1106.0 L1172.0,1106.0 L1173.0,1106.0 L1174.0,1106.0 L1175.0,1106.0 L1176.0,1106.0 L1177.0,1106.0 L1178.0,1106.0 L1179.0,1106.0 L1180.0,1106.0 L1181.0,1106.0 L1182.0,1106.0 L1183.0,1106.0 L1184.0,1106.0 L1185.0,1106.0 L1186.0,1106.0 L1187.0,1106.0 L1188.0,1106.0 L1189.0,1106.0 L1190.0,1106.0 L1191.0,1106.0 L1192.0,1106.0 L1193.0,1106.0 L1194.0,1106.0 L1195.0,1106.0 L1196.0,1106.0 L1197.0,1106.0 L1198.0,1106.0 L1199.0,1106.0 L1200.0,1106.0 L1201.0,1106.0 L1202.0,1106.0 L1203.0,1106.0 L1204.0,1106.0 L1205.0,1106.0 L1206.0,1106.0 L1207.0,1106.0 L1208.0,1106.0 L1209.0,1106.0 L1210.0,1106.0 L1211.0,1106.0 L1212.0,1106.0 L1213.0,1106.0 L1214.0,1106.0 L1215.0,1106.0 L1216.0,1106.0 L1217.0,1106.0 L1218.0,1106.0 L1219.0,1106.0 L1220.0,1106.0 L1221.0,1106.0 L1222.0,1106.0 L1223.0,1106.0 L1224.0,1106.0 L1225.0,1106.0 L1226.0,1106.0 L1227.0,1106.0 L1228.0,1106.0 L1229.0,1106.0 L1230.0,1106.0 L1231.0,1106.0 L1232.0,1106.0 L1233.0,1106.0 L1234.0,1106.0 L1235.0,1106.0 L1236.0,1106.0 L1237.0,1106.0 L1238.0,1106.0 L1239.0,1106.0 L1240.0,1106.0 L1241.0,1106.0 L1242.0,1106.0 L1243.0,1106.0 L1244.0,1106.0 L1245.0,1106.0 L1246.0,1106.0 L1247.0,1106.0 L1248.0,1106.0 L1249.0,1106.0 L1250.0,1106.0 L1251.0,1106.0 L1252.0,1106.0 L1253.0,1106.0 L1254.0,1106.0 L1255.0,1106.0 L1256.0,1106.0 L1257.0,1106.0 L1258.0,1106.0 L1259.0,1106.0 L1260.0,1106.0 L1261.0,1106.0 L1262.0,1106.0 L1263.0,1106.0 L1264.0,1106.0 L1265.0,1106.0 L1266.0,1106.0 L1267.0,1106.0 L1268.0,1106.0 L1269.0,1106.0 L1270.0,1106.0 L1271.0,1106.0 L1272.0,1106.0 L1273.0,1106.0 L1274.0,1106.0 L1275.0,1106.0 L1276.0,1106.0 L1277.0,1106.0 L1278.0,1106.0 L1279.0,1106.0 L1280.0,1106.0 L1281.0,1106.0 L1282.0,1106.0 L1283.0,1106.0 L1284.0,1106.0 L1285.0,1106.0 L1286.0,1106.0 L1287.0,1106.0 L1288.0,1106.0 L1289.0,1106.0 L1290.0,1106.0 L1291.0,1106.0 L1292.0,1106.0 L1293.0,1106.0 L1294.0,1106.0 L1295.0,1106.0 L1296.0,1106.0 L1297.0,1106.0 L1298.0,1106.0 L1299.0,1106.0 L1300.0,1106.0 L1301.0,1106.0 L1302.0,1106.0 L1303.0,1106.0 L1304.0,1106.0 L1305.0,1106.0 L1306.0,1106.0 L1307.0,1106.0 L1308.0,1106.0 L1309.0,1106.0 L1310.0,1106.0 L1311.0,1106.0 L1312.0,1106.0 L1313.0,1106.0 L1314.0,1106.0 L1315.0,1106.0 L1316.0,1106.0 L1317.0,1106.0 L1318.0,1106.0 L1319.0,1106.0 L1320.0,1106.0 L1321.0,1106.0 L1322.0,1106.0 L1323.0,1106.0 L1324.0,1106.0 L1325.0,1106.0 L1326.0,1106.0 L1327.0,1106.0 L1328.0,1106.0 L1329.0,1106.0 L1330.0,1106.0 L1331.0,1106.0 L1332.0,1106.0 L1333.0,1106.0 L1334.0,1106.0 L1335.0,1106.0 L1336.0,1106.0 L1337.0,1106.0 L1338.0,1106.0 L1339.0,1106.0 L1340.0,1106.0 L1341.0,1106.0 L1342.0,1106.0 L1343.0,1106.0 L1344.0,1106.0 L1345.0,1106.0 L1346.0,1106.0 L1347.0,1106.0 L1348.0,1106.0 L1349.0,1106.0 L1350.0,1106.0 L1351.0,1106.0 L1352.0,1106.0 L1353.0,1106.0 L1354.0,1106.0 L1355.0,1106.0 L1356.0,1106.0 L1357.0,1106.0 L1358.0,1106.0 L1359.0,1106.0 L1360.0,1106.0 L1361.0,1106.0 L1362.0,1106.0 L1363.0,1106.0 L1364.0,1106.0 L1365.0,1106.0 L1366.0,1106.0 L1367.0,1106.0 L1368.0,1106.0 L1369.0,1106.0 L1370.0,1106.0 L1371.0,1106.0 L1372.0,1106.0 L1373.0,1106.0 L1374.0,1106.0 L1375.0,1106.0 L1376.0,1106.0 L1377.0,1106.0 L1378.0,1106.0 L1379.0,1106.0 L1380.0,1106.0 L1381.0,1106.0 L1382.0,1106.0 L1383.0,1106.0 L1384.0,1106.0 L1385.0,1106.0 L1386.0,1106.0 L1387.0,1106.0 L1388.0,1106.0 L1389.0,1106.0 L1390.0,1106.0 L1391.0,1106.0 L1392.0,1106.0 L1393.0,1106.0 L1394.0,1106.0 L1395.0,1106.0 L1396.0,1106.0 L1397.0,1106.0 L1398.0,1106.0 L1399.0,1106.0 L1400.0,1106.0 L1401.0,1106.0 L1402.0,1106.0 L1403.0,1106.0 L1404.0,1106.0 L1405.0,1106.0 L1406.0,1106.0 L1407.0,1106.0 L1408.0,1106.0 L1409.0,1106.0 L1410.0,1106.0 L1411.0,1106.0 L1412.0,1106.0 L1413.0,1106.0 L1414.0,1106.0 L1415.0,1106.0 L1416.0,1106.0 L1417.0,1106.0 L1418.0,1106.0 L1419.0,1106.0 L1420.0,1106.0 L1421.0,1106.0 L1422.0,1106.0 L1423.0,1106.0 L1424.0,1106.0 L1425.0,1106.0 L1426.0,1106.0 L1427.0,1106.0 L1428.0,1106.0 L1429.0,1106.0 L1430.0,1106.0 L1431.0,1106.0 L1432.0,1106.0 L1433.0,1106.0 L1434.0,1106.0 L1435.0,1106.0 L1436.0,1106.0 L1437.0,1106.0 L1438.0,1106.0 L1439.0,1106.0 L1440.0,1106.0 L1441.0,1106.0 L1442.0,1106.0 L1443.0,1106.0 L1444.0,1106.0 L1445.0,1106.0 L1446.0,1106.0 L1447.0,1106.0 L1448.0,1106.0 L1449.0,1106.0 L1450.0,1106.0 L1451.0,1106.0 L1452.0,1106.0 L1453.0,1106.0 L1454.0,1106.0 L1455.0,1106.0 L1456.0,1106.0 L1457.0,1106.0 L1458.0,1106.0 L1459.0,1106.0 L1460.0,1106.0 L1461.0,1106.0 L1462.0,1106.0 L1463.0,1106.0 L1464.0,1106.0 L1465.0,1106.0 L1466.0,1106.0 L1467.0,1106.0 L1468.0,1106.0 L1469.0,1106.0 L1470.0,1106.0 L1471.0,1106.0 L1472.0,1105.9 L1473.0,1105.9 L1474.0,1105.9 L1475.0,1105.9 L1476.0,1105.9 L1477.0,1105.8 L1478.0,1105.7 L1479.0,1105.7 L1480.0,1105.5 L1481.0,1105.4 L1482.0,1105.1 L1483.0,1104.8 L1484.0,1104.4 L1485.0,1103.8 L1486.0,1103.1 L1487.0,1102.4 L1488.0,1101.6 L1489.0,1101.0 L1490.0,1100.7 L1490.2,1100.7 L1491.0,1100.8 L1492.0,1101.3 L1493.0,1102.0 L1494.0,1102.8 L1495.0,1103.6 L1496.0,1104.2 L1497.0,1104.7 L1498.0,1105.0 L1499.0,1105.3 L1500.0,1105.5 L1501.0,1105.6 L1502.0,1105.7 L1503.0,1105.8 L1504.0,1105.8 L1505.0,1105.9 L1506.0,1105.9 L1507.0,1105.9 L1508.0,1105.9 L1509.0,1106.0 L1510.0,1106.0 L1511.0,1106.0 L1512.0,1106.0 L1513.0,1106.0 L1514.0,1106.0 L1515.0,1106.0 L1516.0,1106.0 L1517.0,1106.0 L1518.0,1106.0 L1519.0,1106.0 L1520.0,1106.0 L1521.0,1106.0 L1522.0,1106.0 L1523.0,1105.9 L1524.0,1105.9 L1525.0,1105.9 L1526.0,1105.9 L1527.0,1105.8 L1528.0,1105.7 L1529.0,1105.6 L1530.0,1105.5 L1531.0,1105.4 L1532.0,1105.2 L1533.0,1105.0 L1534.0,1104.8 L1535.0,1104.6 L1536.0,1104.5 L1536.7,1104.5 L1537.0,1104.5 L1538.0,1104.6 L1539.0,1104.7 L1540.0,1104.9 L1541.0,1105.1 L1542.0,1105.3 L1543.0,1105.5 L1544.0,1105.6 L1545.0,1105.7 L1546.0,1105.8 L1547.0,1105.8 L1548.0,1105.9 L1549.0,1105.9 L1550.0,1105.9 L1551.0,1105.9 L1552.0,1105.9 L1553.0,1105.9 L1554.0,1105.9 L1555.0,1105.8 L1556.0,1105.8 L1557.0,1105.7 L1558.0,1105.6 L1559.0,1105.4 L1560.0,1105.3 L1561.0,1105.1 L1562.0,1104.8 L1563.0,1104.6 L1564.0,1104.4 L1565.0,1104.3 L1565.6,1104.3 L1566.0,1104.3 L1567.0,1104.4 L1568.0,1104.6 L1569.0,1104.8 L1570.0,1105.0 L1571.0,1105.2 L1572.0,1105.4 L1573.0,1105.5 L1574.0,1105.6 L1575.0,1105.6 L1576.0,1105.6 L1577.0,1105.6 L1578.0,1105.6 L1579.0,1105.5 L1580.0,1105.4 L1581.0,1105.2 L1582.0,1105.0 L1583.0,1104.8 L1584.0,1104.7 L1585.0,1104.5 L1586.0,1104.5 L1587.0,1104.5 L1588.0,1104.7 L1589.0,1104.9 L1590.0,1105.1 L1591.0,1105.3 L1592.0,1105.4 L1593.0,1105.6 L1594.0,1105.7 L1595.0,1105.8 L1596.0,1105.8 L1597.0,1105.9 L1598.0,1105.9 L1599.0,1105.9 L1600.0,1105.9 L1601.0,1106.0 L1602.0,1106.0 L1603.0,1106.0 L1604.0,1106.0 L1605.0,1106.0 L1606.0,1106.0 L1607.0,1106.0 L1608.0,1106.0 L1609.0,1106.0 L1610.0,1106.0 L1611.0,1106.0 L1612.0,1106.0 L1613.0,1106.0 L1614.0,1106.0 L1615.0,1106.0 L1616.0,1106.0 L1617.0,1106.0 L1618.0,1106.0 L1619.0,1106.0 L1620.0,1106.0 L1621.0,1106.0 L1622.0,1106.0 L1623.0,1106.0 L1624.0,1106.0 L1625.0,1106.0 L1626.0,1106.0 L1627.0,1106.0 L1628.0,1106.0 L1629.0,1106.0 L1630.0,1106.0 L1631.0,1106.0 L1632.0,1106.0 L1633.0,1106.0 L1634.0,1106.0 L1635.0,1106.0 L1636.0,1106.0 L1637.0,1106.0 L1638.0,1106.0 L1639.0,1106.0 L1640.0,1106.0 L1641.0,1106.0 L1642.0,1106.0 L1643.0,1106.0 L1644.0,1106.0 L1645.0,1106.0 L1646.0,1106.0 L1647.0,1106.0 L1648.0,1106.0 L1649.0,1106.0 L1650.0,1106.0 L1651.0,1106.0 L1652.0,1106.0 L1653.0,1106.0 L1654.0,1106.0 L1655.0,1106.0 L1656.0,1106.0 L1657.0,1106.0 L1658.0,1106.0 L1659.0,1106.0 L1660.0,1106.0 L1661.0,1106.0 L1662.0,1106.0 L1663.0,1106.0 L1664.0,1106.0 L1665.0,1106.0 L1666.0,1106.0 L1667.0,1106.0 L1668.0,1106.0 L1669.0,1106.0 L1670.0,1106.0 L1671.0,1106.0 L1672.0,1106.0 L1673.0,1106.0 L1674.0,1106.0 L1675.0,1106.0 L1676.0,1106.0 L1677.0,1106.0 L1678.0,1106.0 L1679.0,1106.0 L1680.0,1106.0 L1681.0,1106.0 L1682.0,1106.0 L1683.0,1106.0 L1684.0,1106.0 L1685.0,1106.0 L1686.0,1106.0 L1687.0,1106.0 L1688.0,1106.0 L1689.0,1106.0 L1690.0,1106.0 L1691.0,1106.0 L1692.0,1106.0 L1693.0,1106.0 L1694.0,1106.0 L1695.0,1106.0 L1696.0,1106.0 L1697.0,1106.0 L1698.0,1106.0 L1699.0,1106.0 L1700.0,1106.0 L1701.0,1106.0 L1702.0,1106.0 L1703.0,1106.0 L1704.0,1106.0 L1705.0,1106.0 L1706.0,1106.0 L1707.0,1106.0 L1708.0,1106.0 L1709.0,1106.0 L1710.0,1106.0 L1711.0,1106.0 L1712.0,1106.0 L1713.0,1106.0 L1714.0,1106.0 L1715.0,1106.0 L1716.0,1106.0 L1717.0,1106.0 L1718.0,1106.0 L1719.0,1106.0 L1720.0,1106.0 L1721.0,1106.0 L1722.0,1106.0 L1723.0,1106.0 L1724.0,1106.0 L1725.0,1106.0 L1726.0,1106.0 L1727.0,1106.0 L1728.0,1106.0 L1729.0,1106.0 L1730.0,1106.0 L1731.0,1106.0 L1732.0,1106.0 L1733.0,1106.0 L1734.0,1106.0 L1735.0,1106.0 L1736.0,1106.0 L1737.0,1106.0 L1738.0,1106.0 L1739.0,1106.0 L1740.0,1106.0 L1741.0,1106.0 L1742.0,1106.0 L1743.0,1106.0 L1744.0,1106.0 L1745.0,1106.0 L1746.0,1106.0 L1747.0,1106.0 L1748.0,1106.0 L1749.0,1106.0 L1750.0,1106.0 L1751.0,1106.0 L1752.0,1106.0 L1753.0,1106.0 L1754.0,1106.0 L1755.0,1106.0 L1756.0,1106.0 L1757.0,1106.0 L1758.0,1106.0 L1759.0,1106.0 L1760.0,1106.0 L1761.0,1106.0 L1762.0,1106.0 L1763.0,1106.0 L1764.0,1106.0 L1765.0,1106.0 L1766.0,1106.0 L1767.0,1106.0 L1768.0,1106.0 L1769.0,1106.0 L1770.0,1106.0 L1771.0,1106.0 L1772.0,1106.0 L1773.0,1106.0 L1774.0,1106.0 L1775.0,1106.0 L1776.0,1106.0 L1777.0,1106.0 L1778.0,1106.0 L1779.0,1106.0 L1780.0,1106.0 L1781.0,1106.0 L1782.0,1106.0 L1783.0,1106.0 L1784.0,1106.0 L1785.0,1106.0 L1786.0,1106.0 L1787.0,1106.0 L1788.0,1106.0 L1789.0,1106.0 L1790.0,1106.0 L1791.0,1106.0 L1792.0,1106.0 L1793.0,1106.0 L1794.0,1106.0 L1795.0,1106.0 L1796.0,1106.0 L1797.0,1106.0 L1798.0,1106.0 L1799.0,1106.0 L1800.0,1106.0 L1801.0,1106.0 L1802.0,1106.0 L1803.0,1106.0 L1804.0,1106.0 L1805.0,1106.0 L1806.0,1106.0 L1807.0,1106.0 L1808.0,1106.0 L1809.0,1106.0 L1810.0,1106.0 L1811.0,1106.0 L1812.0,1106.0 L1813.0,1106.0 L1814.0,1106.0 L1815.0,1106.0 L1816.0,1106.0 L1817.0,1106.0 L1818.0,1106.0 L1819.0,1106.0 L1820.0,1106.0 L1821.0,1106.0 L1822.0,1106.0 L1823.0,1106.0 L1824.0,1106.0 L1825.0,1106.0 L1826.0,1106.0 L1827.0,1106.0 L1828.0,1106.0 L1829.0,1106.0 L1830.0,1106.0 L1831.0,1106.0 L1832.0,1106.0 L1833.0,1106.0 L1834.0,1106.0 L1835.0,1106.0 L1836.0,1106.0 L1837.0,1106.0 L1838.0,1106.0 L1839.0,1106.0 L1840.0,1106.0 L1841.0,1106.0 L1842.0,1106.0 L1843.0,1106.0 L1844.0,1106.0 L1845.0,1106.0 L1846.0,1106.0 L1847.0,1106.0 L1848.0,1106.0 L1849.0,1106.0 L1850.0,1106.0 L1851.0,1106.0 L1852.0,1106.0 L1853.0,1106.0 L1854.0,1106.0 L1855.0,1106.0 L1856.0,1106.0 L1857.0,1106.0 L1858.0,1106.0 L1859.0,1106.0 L1860.0,1106.0 L1861.0,1106.0 L1862.0,1106.0 L1863.0,1106.0 L1864.0,1106.0 L1865.0,1106.0 L1866.0,1106.0 L1867.0,1106.0 L1868.0,1106.0 L1869.0,1106.0 L1870.0,1106.0 L1871.0,1106.0 L1872.0,1106.0 L1873.0,1106.0 L1874.0,1106.0" stroke="#0000ff" stroke-width="4"/>
<path class="c" d="M138.0,1310.0 L139.0,1310.0 L140.0,1310.0 L141.0,1310.0 L142.0,1310.0 L143.0,1310.0 L144.0,1310.0 L145.0,1310.0 L146.0,1310.0 L147.0,1310.0 L148.0,1310.0 L149.0,1310.0 L150.0,1310.0 L151.0,1310.0 L152.0,1310.0 L153.0,1310.0 L154.0,1310.0 L155.0,1310.0 L156.0,1310.0 L157.0,1310.0 L158.0,1310.0 L159.0,1310.0 L160.0,1310.0 L161.0,1310.0 L162.0,1310.0 L163.0,1310.0 L164.0,1310.0 L165.0,1310.0 L166.0,1310.0 L167.0,1310.0 L168.0,1310.0 L169.0,1310.0 L170.0,1310.0 L171.0,1310.0 L172.0,1310.0 L173.0,1310.0 L174.0,1310.0 L175.0,1310.0 L176.0,1310.0 L177.0,1310.0 L178.0,1310.0 L179.0,1310.0 L180.0,1310.0 L181.0,1310.0 L182.0,1310.0 L183.0,1310.0 L184.0,1310.0 L185.0,1310.0 L186.0,1310.0 L187.0,1310.0 L188.0,1310.0 L189.0,1310.0 L190.0,1310.0 L191.0,1310.0 L192.0,1310.0 L193.0,1310.0 L194.0,1310.0 L195.0,1310.0 L196.0,1310.0 L197.0,1310.0 L198.0,1310.0 L199.0,1310.0 L200.0,1310.0 L201.0,1310.0 L202.0,1310.0 L203.0,1310.0 L204.0,1310.0 L205.0,1310.0 L206.0,1310.0 L207.0,1310.0 L208.0,1310.0 L209.0,1310.0 L210.0,1310.0 L211.0,1310.0 L212.0,1310.0 L213.0,1310.0 L214.0,1310.0 L215.0,1310.0 L216.0,1310.0 L217.0,1310.0 L218.0,1310.0 L219.0,1310.0 L220.0,1310.0 L221.0,1310.0 L222.0,1310.0 L223.0,1310.0 L224.0,1310.0 L225.0,1310.0 L226.0,1310.0 L227.0,1310.0 L228.0,1310.0 L229.0,1310.0 L230.0,1310.0 L231.0,1310.0 L232.0,1310.0 L233.0,1310.0 L234.0,1310.0 L235.0,1310.0 L236.0,1310.0 L237.0,1310.0 L238.0,1310.0 L239.0,1310.0 L240.0,1310.0 L241.0,1310.0 L242.0,1310.0 L243.0,1310.0 L244.0,1310.0 L245.0,1310.0 L246.0,1310.0 L247.0,1310.0 L248.0,1310.0 L249.0,1310.0 L250.0,1310.0 L251.0,1310.0 L252.0,1310.0 L253.0,1309.9 L254.0,1309.9 L255.0,1309.9 L256.0,1309.9 L257.0,1309.9 L258.0,1309.9 L259.0,1309.9 L260.0,1309.9 L261.0,1309.9 L262.0,1309.9 L263.0,1309.9 L264.0,1309.9 L265.0,1309.9 L266.0,1309.9 L267.0,1309.9 L268.0,1309.9 L269.0,1309.9 L270.0,1309.9 L271.0,1309.8 L272.0,1309.8 L273.0,1309.8 L274.0,1309.8 L275.0,1309.8 L276.0,1309.8 L277.0,1309.7 L278.0,1309.7 L279.0,1309.7 L280.0,1309.6 L281.0,1309.6 L282.0,1309.5 L283.0,1309.4 L284.0,1309.4 L285.0,1309.3 L286.0,1309.1 L287.0,1309.0 L288.0,1308.7 L289.0,1308.5 L290.0,1308.1 L291.0,1307.6 L292.0,1307.0 L293.0,1306.0 L294.0,1304.7 L295.0,1302.9 L296.0,1300.5 L297.0,1297.7 L298.0,1295.5 L298.7,1294.9 L299.0,1295.0 L300.0,1296.7 L301.0,1299.4 L302.0,1302.0 L303.0,1304.1 L304.0,1305.6 L305.0,1306.6 L306.0,1307.4 L307.0,1307.9 L308.0,1308.3 L309.0,1308.6 L310.0,1308.9 L311.0,1309.1 L312.0,1309.2 L313.0,1309.3 L314.0,1309.4 L315.0,1309.5 L316.0,1309.5 L317.0,1309.6 L318.0,1309.6 L319.0,1309.7 L320.0,1309.7 L321.0,1309.7 L322.0,1309.8 L323.0,1309.8 L324.0,1309.8 L325.0,1309.8 L326.0,1309.8 L327.0,1309.8 L328.0,1309.9 L329.0,1309.9 L330.0,1309.9 L331.0,1309.9 L332.0,1309.9 L333.0,1309.9 L334.0,1309.9 L335.0,1309.9 L336.0,1309.9 L337.0,1309.9 L338.0,1309.9 L339.0,1309.9 L340.0,1309.9 L341.0,1309.9 L342.0,1309.9 L343.0,1309.9 L344.0,1309.9 L345.0,1310.0 L346.0,1310.0 L347.0,1310.0 L348.0,1310.0 L349.0,1310.0 L350.0,1310.0 L351.0,1310.0 L352.0,1310.0 L353.0,1310.0 L354.0,1310.0 L355.0,1310.0 L356.0,1310.0 L357.0,1310.0 L358.0,1310.0 L359.0,1310.0 L360.0,1310.0 L361.0,1310.0 L362.0,1310.0 L363.0,1310.0 L364.0,1310.0 L365.0,1310.0 L366.0,1310.0 L367.0,1310.0 L368.0,1310.0 L369.0,1310.0 L370.0,1310.0 L371.0,1310.0 L372.0,1310.0 L373.0,1310.0 L374.0,1310.0 L375.0,1310.0 L376.0,1310.0 L377.0,1310.0 L378.0,1310.0 L379.0,1310.0 L380.0,1310.0 L381.0,1310.0 L382.0,1310.0 L383.0,1310.0 L384.0,1310.0 L385.0,1310.0 L386.0,1310.0 L387.0,1310.0 L388.0,1310.0 L389.0,1310.0 L390.0,1310.0 L391.0,1310.0 L392.0,1310.0 L393.0,1310.0 L394.0,1310.0 L395.0,1310.0 L396.0,1310.0 L397.0,1310.0 L398.0,1310.0 L399.0,1310.0 L400.0,1310.0 L401.0,1310.0 L402.0,1310.0 L403.0,1310.0 L404.0,1310.0 L405.0,1310.0 L406.0,1310.0 L407.0,1310.0 L408.0,1310.0 L409.0,1310.0 L410.0,1310.0 L411.0,1310.0 L412.0,1310.0 L413.0,1310.0 L414.0,1310.0 L415.0,1310.0 L416.0,1310.0 L417.0,1310.0 L418.0,1310.0 L419.0,1310.0 L420.0,1310.0 L421.0,1310.0 L422.0,1310.0 L423.0,1310.0 L424.0,1310.0 L425.0,1310.0 L426.0,1310.0 L427.0,1310.0 L428.0,1310.0 L429.0,1310.0 L430.0,1310.0 L431.0,1310.0 L432.0,1310.0 L433.0,1310.0 L434.0,1310.0 L435.0,1310.0 L436.0,1310.0 L437.0,1310.0 L438.0,1310.0 L439.0,1310.0 L440.0,1310.0 L441.0,1310.0 L442.0,1310.0 L443.0,1310.0 L444.0,1310.0 L445.0,1310.0 L446.0,1310.0 L447.0,1310.0 L448.0,1310.0 L449.0,1310.0 L450.0,1310.0 L451.0,1310.0 L452.0,1310.0 L453.0,1310.0 L454.0,1310.0 L455.0,1310.0 L456.0,1310.0 L457.0,1310.0 L458.0,1310.0 L459.0,1310.0 L460.0,1310.0 L461.0,1310.0 L462.0,1310.0 L463.0,1310.0 L464.0,1310.0 L465.0,1310.0 L466.0,1310.0 L467.0,1310.0 L468.0,1310.0 L469.0,1310.0 L470.0,1310.0 L471.0,1310.0 L472.0,1310.0 L473.0,1310.0 L474.0,1310.0 L475.0,1310.0 L476.0,1310.0 L477.0,1310.0 L478.0,1310.0 L479.0,1310.0 L480.0,1310.0 L481.0,1310.0 L482.0,1310.0 L483.0,1310.0 L484.0,1310.0 L485.0,1310.0 L486.0,1310.0 L487.0,1310.0 L488.0,1310.0 L489.0,1310.0 L490.0,1310.0 L491.0,1310.0 L492.0,1310.0 L493.0,1310.0 L494.0,1310.0 L495.0,1310.0 L496.0,1310.0 L497.0,1310.0 L498.0,1310.0 L499.0,1310.0 L500.0,1310.0 L501.0,1310.0 L502.0,1310.0 L503.0,1310.0 L504.0,1310.0 L505.0,1310.0 L506.0,1310.0 L507.0,1310.0 L508.0,1310.0 L509.0,1310.0 L510.0,1310.0 L511.0,1310.0 L512.0,1310.0 L513.0,1310.0 L514.0,1310.0 L515.0,1310.0 L516.0,1310.0 L517.0,1310.0 L518.0,1310.0 L519.0,1310.0 L520.0,1310.0 L521.0,1310.0 L522.0,1310.0 L523.0,1310.0 L524.0,1310.0 L525.0,1310.0 L526.0,1310.0 L527.0,1310.0 L528.0,1310.0 L529.0,1310.0 L530.0,1310.0 L531.0,1310.0 L532.0,1310.0 L533.0,1310.0 L534.0,1310.0 L535.0,1310.0 L536.0,1310.0 L537.0,1310.0 L538.0,1310.0 L539.0,1310.0 L540.0,1310.0 L541.0,1310.0 L542.0,1310.0 L543.0,1310.0 L544.0,1310.0 L545.0,1310.0 L546.0,1310.0 L547.0,1310.0 L548.0,1310.0 L549.0,1310.0 L550.0,1310.0 L551.0,1310.0 L552.0,1310.0 L553.0,1310.0 L554.0,1310.0 L555.0,1310.0 L556.0,1310.0 L557.0,1310.0 L558.0,1310.0 L559.0,1310.0 L560.0,1310.0 L561.0,1310.0 L562.0,1310.0 L563.0,1310.0 L564.0,1310.0 L565.0,1310.0 L566.0,1310.0 L567.0,1310.0 L568.0,1310.0 L569.0,1310.0 L570.0,1310.0 L571.0,1310.0 L572.0,1310.0 L573.0,1310.0 L574.0,1310.0 L575.0,1310.0 L576.0,1310.0 L577.0,1310.0 L578.0,1310.0 L579.0,1310.0 L580.0,1310.0 L581.0,1310.0 L582.0,1310.0 L583.0,1310.0 L584.0,1310.0 L585.0,1310.0 L586.0,1310.0 L587.0,1310.0 L588.0,1310.0 L589.0,1310.0 L590.0,1310.0 L591.0,1310.0 L592.0,1310.0 L593.0,1310.0 L594.0,1310.0 L595.0,1310.0 L596.0,1310.0 L597.0,1310.0 L598.0,1310.0 L599.0,1310.0 L600.0,1310.0 L601.0,1310.0 L602.0,1310.0 L603.0,1310.0 L604.0,1310.0 L605.0,1310.0 L606.0,1310.0 L607.0,1310.0 L608.0,1310.0 L609.0,1310.0 L610.0,1310.0 L611.0,1310.0 L612.0,1310.0 L613.0,1310.0 L614.0,1310.0 L615.0,1310.0 L616.0,1310.0 L617.0,1310.0 L618.0,1310.0 L619.0,1310.0 L620.0,1310.0 L621.0,1310.0 L622.0,1310.0 L623.0,1310.0 L624.0,1310.0 L625.0,1310.0 L626.0,1310.0 L627.0,1310.0 L628.0,1310.0 L629.0,1310.0 L630.0,1310.0 L631.0,1310.0 L632.0,1310.0 L633.0,1310.0 L634.0,1310.0 L635.0,1310.0 L636.0,1310.0 L637.0,1310.0 L638.0,1310.0 L639.0,1310.0 L640.0,1310.0 L641.0,1310.0 L642.0,1310.0 L643.0,1310.0 L644.0,1310.0 L645.0,1310.0 L646.0,1310.0 L647.0,1310.0 L648.0,1310.0 L649.0,1310.0 L650.0,1310.0 L651.0,1310.0 L652.0,1310.0 L653.0,1310.0 L654.0,1310.0 L655.0,1310.0 L656.0,1310.0 L657.0,1310.0 L658.0,1310.0 L659.0,1310.0 L660.0,1310.0 L661.0,1310.0 L662.0,1310.0 L663.0,1310.0 L664.0,1310.0 L665.0,1310.0 L666.0,1310.0 L667.0,1310.0 L668.0,1310.0 L669.0,1310.0 L670.0,1310.0 L671.0,1310.0 L672.0,1310.0 L673.0,1310.0 L674.0,1310.0 L675.0,1310.0 L676.0,1310.0 L677.0,1310.0 L678.0,1310.0 L679.0,1310.0 L680.0,1310.0 L681.0,1310.0 L682.0,1310.0 L683.0,1310.0 L684.0,1310.0 L685.0,1310.0 L686.0,1310.0 L687.0,1310.0 L688.0,1310.0 L689.0,1310.0 L690.0,1310.0 L691.0,1310.0 L692.0,1310.0 L693.0,1310.0 L694.0,1310.0 L695.0,1310.0 L696.0,1310.0 L697.0,1310.0 L698.0,1310.0 L699.0,1310.0 L700.0,1310.0 L701.0,1310.0 L702.0,1310.0 L703.0,1310.0 L704.0,1310.0 L705.0,1310.0 L706.0,1310.0 L707.0,1310.0 L708.0,1310.0 L709.0,1310.0 L710.0,1310.0 L711.0,1310.0 L712.0,1310.0 L713.0,1310.0 L714.0,1310.0 L715.0,1310.0 L716.0,1310.0 L717.0,1310.0 L718.0,1310.0 L719.0,1310.0 L720.0,1310.0 L721.0,1310.0 L722.0,1310.0 L723.0,1310.0 L724.0,1310.0 L725.0,1310.0 L726.0,1310.0 L727.0,1310.0 L728.0,1310.0 L729.0,1310.0 L730.0,1310.0 L731.0,1310.0 L732.0,1310.0 L733.0,1310.0 L734.0,1310.0 L735.0,1310.0 L736.0,1310.0 L737.0,1310.0 L738.0,1310.0 L739.0,1310.0 L740.0,1310.0 L741.0,1310.0 L742.0,1310.0 L743.0,1310.0 L744.0,1310.0 L745.0,1310.0 L746.0,1310.0 L747.0,1310.0 L748.0,1310.0 L749.0,1310.0 L750.0,1310.0 L751.0,1310.0 L752.0,1310.0 L753.0,1310.0 L754.0,1310.0 L755.0,1310.0 L756.0,1310.0 L757.0,1310.0 L758.0,1310.0 L759.0,1310.0 L760.0,1310.0 L761.0,1310.0 L762.0,1310.0 L763.0,1310.0 L764.0,1310.0 L765.0,1310.0 L766.0,1310.0 L767.0,1310.0 L768.0,1310.0 L769.0,1310.0 L770.0,1310.0 L771.0,1310.0 L772.0,1310.0 L773.0,1310.0 L774.0,1310.0 L775.0,1310.0 L776.0,1310.0 L777.0,1310.0 L778.0,1310.0 L779.0,1310.0 L780.0,1310.0 L781.0,1310.0 L782.0,1310.0 L783.0,1310.0 L784.0,1310.0 L785.0,1310.0 L786.0,1310.0 L787.0,1310.0 L788.0,1310.0 L789.0,1310.0 L790.0,1310.0 L791.0,1310.0 L792.0,1310.0 L793.0,1310.0 L794.0,1310.0 L795.0,1310.0 L796.0,1310.0 L797.0,1310.0 L798.0,1310.0 L799.0,1310.0 L800.0,1310.0 L801.0,1310.0 L802.0,1310.0 L803.0,1310.0 L804.0,1310.0 L805.0,1310.0 L806.0,1310.0 L807.0,1310.0 L808.0,1310.0 L809.0,1310.0 L810.0,1310.0 L811.0,1310.0 L812.0,1310.0 L813.0,1310.0 L814.0,1310.0 L815.0,1310.0 L816.0,1310.0 L817.0,1310.0 L818.0,1310.0 L819.0,1310.0 L820.0,1310.0 L821.0,1310.0 L822.0,1310.0 L823.0,1310.0 L824.0,1310.0 L825.0,1310.0 L826.0,1310.0 L827.0,1310.0 L828.0,1310.0 L829.0,1310.0 L830.0,1310.0 L831.0,1310.0 L832.0,1310.0 L833.0,1310.0 L834.0,1310.0 L835.0,1310.0 L836.0,1310.0 L837.0,1310.0 L838.0,1310.0 L839.0,1310.0 L840.0,1309.9 L841.0,1309.9 L842.0,1309.9 L843.0,1309.9 L844.0,1309.9 L845.0,1309.9 L846.0,1309.9 L847.0,1309.9 L848.0,1309.9 L849.0,1309.9 L850.0,1309.9 L851.0,1309.9 L852.0,1309.9 L853.0,1309.9 L854.0,1309.9 L855.0,1309.9 L856.0,1309.9 L857.0,1309.9 L858.0,1309.9 L859.0,1309.9 L860.0,1309.9 L861.0,1309.9 L862.0,1309.9 L863.0,1309.9 L864.0,1309.9 L865.0,1309.9 L866.0,1309.9 L867.0,1309.9 L868.0,1309.8 L869.0,1309.8 L870.0,1309.8 L871.0,1309.8 L872.0,1309.8 L873.0,1309.8 L874.0,1309.8 L875.0,1309.8 L876.0,1309.7 L877.0,1309.7 L878.0,1309.7 L879.0,1309.7 L880.0,1309.7 L881.0,1309.6 L882.0,1309.6 L883.0,1309.6 L884.0,1309.5 L885.0,1309.5 L886.0,1309.4 L887.0,1309.4 L888.0,1309.3 L889.0,1309.2 L890.0,1309.1 L891.0,1309.0 L892.0,1308.9 L893.0,1308.8 L894.0,1308.6 L895.0,1308.3 L896.0,1308.1 L897.0,1307.7 L898.0,1307.3 L899.0,1306.7 L900.0,1306.0 L901.0,1305.0 L902.0,1303.6 L903.0,1301.8 L904.0,1299.3 L905.0,1295.9 L906.0,1291.5 L907.0,1286.3 L908.0,1281.7 L909.0,1279.8 L910.0,1281.7 L911.0,1286.3 L912.0,1291.5 L913.0,1295.9 L914.0,1299.3 L915.0,1301.8 L916.0,1303.6 L917.0,1305.0 L918.0,1306.0 L919.0,1306.7 L920.0,1307.3 L921.0,1307.7 L922.0,1308.1 L923.0,1308.3 L924.0,1308.6 L925.0,1308.7 L926.0,1308.9 L927.0,1309.0 L928.0,1309.1 L929.0,1309.2 L930.0,1309.3 L931.0,1309.4 L932.0,1309.4 L933.0,1309.5 L934.0,1309.5 L935.0,1309.6 L936.0,1309.6 L937.0,1309.6 L938.0,1309.7 L939.0,1309.7 L940.0,1309.7 L941.0,1309.7 L942.0,1309.7 L943.0,1309.7 L944.0,1309.8 L945.0,1309.8 L946.0,1309.8 L947.0,1309.8 L948.0,1309.8 L949.0,1309.8 L950.0,1309.8 L951.0,1309.8 L952.0,1309.8 L953.0,1309.8 L954.0,1309.9 L955.0,1309.9 L956.0,1309.9 L957.0,1309.9 L958.0,1309.9 L959.0,1309.9 L960.0,1309.9 L961.0,1309.9 L962.0,1309.9 L963.0,1309.9 L964.0,1309.9 L965.0,1309.9 L966.0,1309.9 L967.0,1309.9 L968.0,1309.9 L969.0,1309.9 L970.0,1309.9 L971.0,1309.9 L972.0,1309.9 L973.0,1309.9 L974.0,1309.9 L975.0,1309.9 L976.0,1309.9 L977.0,1309.9 L978.0,1309.9 L979.0,1309.9 L980.0,1309.9 L981.0,1309.9 L982.0,1309.9 L983.0,1309.9 L984.0,1309.9 L985.0,1309.9 L986.0,1309.9 L987.0,1309.9 L988.0,1309.9 L989.0,1309.9 L990.0,1309.9 L991.0,1309.9 L992.0,1309.9 L993.0,1309.9 L994.0,1309.9 L995.0,1309.9 L996.0,1309.9 L997.0,1309.9 L998.0,1309.9 L999.0,1309.9 L1000.0,1309.9 L1001.0,1309.9 L1002.0,1309.9 L1003.0,1309.9 L1004.0,1309.9 L1005.0,1309.9 L1006.0,1309.9 L1007.0,1309.8 L1008.0,1309.8 L1009.0,1309.8 L1010.0,1309.8 L1011.0,1309.8 L1012.0,1309.8 L1013.0,1309.8 L1014.0,1309.8 L1015.0,1309.8 L1016.0,1309.8 L1017.0,1309.7 L1018.0,1309.7 L1019.0,1309.7 L1020.0,1309.7 L1021.0,1309.6 L1022.0,1309.6 L1023.0,1309.6 L1024.0,1309.5 L1025.0,1309.5 L1026.0,1309.4 L1027.0,1309.4 L1028.0,1309.3 L1029.0,1309.2 L1030.0,1309.1 L1031.0,1309.0 L1032.0,1308.9 L1033.0,1308.7 L1034.0,1308.5 L1035.0,1308.2 L1036.0,1307.8 L1037.0,1307.4 L1038.0,1306.8 L1039.0,1305.9 L1040.0,1304.8 L1041.0,1303.3 L1042.0,1301.3 L1043.0,1298.5 L1044.0,1295.0 L1045.0,1291.2 L1046.0,1288.4 L1046.6,1287.9 L1047.0,1288.1 L1048.0,1290.5 L1049.0,1294.2 L1050.0,1297.8 L1051.0,1300.8 L1052.0,1303.0 L1053.0,1304.6 L1054.0,1305.7 L1055.0,1306.6 L1056.0,1307.3 L1057.0,1307.7 L1058.0,1308.1 L1059.0,1308.4 L1060.0,1308.6 L1061.0,1308.8 L1062.0,1309.0 L1063.0,1309.1 L1064.0,1309.2 L1065.0,1309.3 L1066.0,1309.4 L1067.0,1309.4 L1068.0,1309.5 L1069.0,1309.5 L1070.0,1309.6 L1071.0,1309.6 L1072.0,1309.6 L1073.0,1309.6 L1074.0,1309.7 L1075.0,1309.7 L1076.0,1309.7 L1077.0,1309.7 L1078.0,1309.7 L1079.0,1309.7 L1080.0,1309.7 L1081.0,1309.8 L1082.0,1309.8 L1083.0,1309.8 L1084.0,1309.8 L1085.0,1309.8 L1086.0,1309.8 L1087.0,1309.8 L1088.0,1309.8 L1089.0,1309.8 L1090.0,1309.8 L1091.0,1309.8 L1092.0,1309.8 L1093.0,1309.8 L1094.0,1309.8 L1095.0,1309.8 L1096.0,1309.8 L1097.0,1309.8 L1098.0,1309.8 L1099.0,1309.8 L1100.0,1309.8 L1101.0,1309.8 L1102.0,1309.7 L1103.0,1309.7 L1104.0,1309.7 L1105.0,1309.7 L1106.0,1309.7 L1107.0,1309.7 L1108.0,1309.7 L1109.0,1309.6 L1110.0,1309.6 L1111.0,1309.6 L1112.0,1309.6 L1113.0,1309.5 L1114.0,1309.5 L1115.0,1309.5 L1116.0,1309.4 L1117.0,1309.4 L1118.0,1309.3 L1119.0,1309.2 L1120.0,1309.2 L1121.0,1309.1 L1122.0,1309.0 L1123.0,1308.9 L1124.0,1308.7 L1125.0,1308.5 L1126.0,1308.3 L1127.0,1308.1 L1128.0,1307.7 L1129.0,1307.3 L1130.0,1306.8 L1131.0,1306.1 L1132.0,1305.3 L1133.0,1304.1 L1134.0,1302.6 L1135.0,1300.5 L1136.0,1297.5 L1137.0,1293.6 L1138.0,1288.4 L1139.0,1282.4 L1140.0,1277.0 L1141.0,1274.8 L1142.0,1277.0 L1143.0,1282.4 L1144.0,1288.4 L1145.0,1293.6 L1146.0,1297.5 L1147.0,1300.5 L1148.0,1302.6 L1149.0,1304.1 L1150.0,1305.3 L1151.0,1306.2 L1152.0,1306.8 L1153.0,1307.3 L1154.0,1307.7 L1155.0,1308.1 L1156.0,1308.3 L1157.0,1308.5 L1158.0,1308.7 L1159.0,1308.9 L1160.0,1309.0 L1161.0,1309.1 L1162.0,1309.2 L1163.0,1309.3 L1164.0,1309.3 L1165.0,1309.4 L1166.0,1309.4 L1167.0,1309.5 L1168.0,1309.5 L1169.0,1309.6 L1170.0,1309.6 L1171.0,1309.6 L1172.0,1309.7 L1173.0,1309.7 L1174.0,1309.7 L1175.0,1309.7 L1176.0,1309.7 L1177.0,1309.8 L1178.0,1309.8 L1179.0,1309.8 L1180.0,1309.8 L1181.0,1309.8 L1182.0,1309.8 L1183.0,1309.8 L1184.0,1309.8 L1185.0,1309.8 L1186.0,1309.8 L1187.0,1309.9 L1188.0,1309.9 L1189.0,1309.9 L1190.0,1309.9 L1191.0,1309.9 L1192.0,1309.9 L1193.0,1309.9 L1194.0,1309.9 L1195.0,1309.9 L1196.0,1309.9 L1197.0,1309.9 L1198.0,1309.9 L1199.0,1309.9 L1200.0,1309.9 L1201.0,1309.9 L1202.0,1309.9 L1203.0,1309.9 L1204.0,1309.9 L1205.0,1309.9 L1206.0,1309.9 L1207.0,1309.9 L1208.0,1309.9 L1209.0,1309.9 L1210.0,1309.9 L1211.0,1309.9 L1212.0,1309.9 L1213.0,1309.9 L1214.0,1309.9 L1215.0,1309.9 L1216.0,1309.9 L1217.0,1310.0 L1218.0,1310.0 L1219.0,1310.0 L1220.0,1310.0 L1221.0,1310.0 L1222.0,1310.0 L1223.0,1310.0 L1224.0,1310.0 L1225.0,1310.0 L1226.0,1310.0 L1227.0,1310.0 L1228.0,1310.0 L1229.0,1310.0 L1230.0,1310.0 L1231.0,1310.0 L1232.0,1310.0 L1233.0,1310.0 L1234.0,1310.0 L1235.0,1310.0 L1236.0,1310.0 L1237.0,1310.0 L1238.0,1310.0 L1239.0,1310.0 L1240.0,1310.0 L1241.0,1310.0 L1242.0,1310.0 L1243.0,1310.0 L1244.0,1310.0 L1245.0,1310.0 L1246.0,1310.0 L1247.0,1310.0 L1248.0,1310.0 L1249.0,1310.0 L1250.0,1310.0 L1251.0,1310.0 L1252.0,1310.0 L1253.0,1310.0 L1254.0,1310.0 L1255.0,1310.0 L1256.0,1310.0 L1257.0,1309.9 L1258.0,1309.9 L1259.0,1309.9 L1260.0,1309.9 L1261.0,1309.9 L1262.0,1309.9 L1263.0,1309.9 L1264.0,1309.8 L1265.0,1309.8 L1266.0,1309.7 L1267.0,1309.6 L1268.0,1309.4 L1269.0,1309.2 L1270.0,1309.0 L1271.0,1308.6 L1272.0,1308.1 L1273.0,1307.5 L1274.0,1306.8 L1275.0,1306.0 L1276.0,1305.4 L1277.0,1305.0 L1277.5,1305.0 L1278.0,1305.0 L1279.0,1305.4 L1280.0,1306.0 L1281.0,1306.8 L1282.0,1307.5 L1283.0,1308.1 L1284.0,1308.6 L1285.0,1309.0 L1286.0,1309.2 L1287.0,1309.4 L1288.0,1309.6 L1289.0,1309.7 L1290.0,1309.8 L1291.0,1309.8 L1292.0,1309.9 L1293.0,1309.9 L1294.0,1309.9 L1295.0,1309.9 L1296.0,1309.9 L1297.0,1310.0 L1298.0,1310.0 L1299.0,1310.0 L1300.0,1310.0 L1301.0,1310.0 L1302.0,1310.0 L1303.0,1310.0 L1304.0,1310.0 L1305.0,1310.0 L1306.0,1310.0 L1307.0,1310.0 L1308.0,1310.0 L1309.0,1310.0 L1310.0,1310.0 L1311.0,1310.0 L1312.0,1310.0 L1313.0,1310.0 L1314.0,1310.0 L1315.0,1310.0 L1316.0,1310.0 L1317.0,1310.0 L1318.0,1310.0 L1319.0,1310.0 L1320.0,1310.0 L1321.0,1310.0 L1322.0,1310.0 L1323.0,1310.0 L1324.0,1310.0 L1325.0,1310.0 L1326.0,1310.0 L1327.0,1310.0 L1328.0,1310.0 L1329.0,1310.0 L1330.0,1310.0 L1331.0,1310.0 L1332.0,1310.0 L1333.0,1310.0 L1334.0,1310.0 L1335.0,1310.0 L1336.0,1310.0 L1337.0,1310.0 L1338.0,1310.0 L1339.0,1310.0 L1340.0,1310.0 L1341.0,1310.0 L1342.0,1310.0 L1343.0,1310.0 L1344.0,1310.0 L1345.0,1310.0 L1346.0,1310.0 L1347.0,1310.0 L1348.0,1310.0 L1349.0,1310.0 L1350.0,1310.0 L1351.0,1310.0 L1352.0,1310.0 L1353.0,1310.0 L1354.0,1310.0 L1355.0,1310.0 L1356.0,1310.0 L1357.0,1310.0 L1358.0,1310.0 L1359.0,1310.0 L1360.0,1310.0 L1361.0,1310.0 L1362.0,1310.0 L1363.0,1310.0 L1364.0,1310.0 L1365.0,1310.0 L1366.0,1310.0 L1367.0,1310.0 L1368.0,1310.0 L1369.0,1310.0 L1370.0,1310.0 L1371.0,1310.0 L1372.0,1310.0 L1373.0,1310.0 L1374.0,1310.0 L1375.0,1310.0 L1376.0,1310.0 L1377.0,1310.0 L1378.0,1310.0 L1379.0,1310.0 L1380.0,1310.0 L1381.0,1310.0 L1382.0,1310.0 L1383.0,1310.0 L1384.0,1310.0 L1385.0,1310.0 L1386.0,1310.0 L1387.0,1310.0 L1388.0,1310.0 L1389.0,1310.0 L1390.0,1310.0 L1391.0,1310.0 L1392.0,1310.0 L1393.0,1310.0 L1394.0,1310.0 L1395.0,1310.0 L1396.0,1310.0 L1397.0,1310.0 L1398.0,1310.0 L1399.0,1310.0 L1400.0,1310.0 L1401.0,1310.0 L1402.0,1310.0 L1403.0,1310.0 L1404.0,1310.0 L1405.0,1310.0 L1406.0,1310.0 L1407.0,1310.0 L1408.0,1310.0 L1409.0,1310.0 L1410.0,1310.0 L1411.0,1310.0 L1412.0,1310.0 L1413.0,1310.0 L1414.0,1310.0 L1415.0,1310.0 L1416.0,1310.0 L1417.0,1310.0 L1418.0,1310.0 L1419.0,1310.0 L1420.0,1310.0 L1421.0,1310.0 L1422.0,1310.0 L1423.0,1310.0 L1424.0,1310.0 L1425.0,1310.0 L1426.0,1310.0 L1427.0,1310.0 L1428.0,1310.0 L1429.0,1310.0 L1430.0,1310.0 L1431.0,1310.0 L1432.0,1310.0 L1433.0,1310.0 L1434.0,1310.0 L1435.0,1310.0 L1436.0,1310.0 L1437.0,1310.0 L1438.0,1310.0 L1439.0,1310.0 L1440.0,1310.0 L1441.0,1310.0 L1442.0,1310.0 L1443.0,1310.0 L1444.0,1310.0 L1445.0,1310.0 L1446.0,1310.0 L1447.0,1310.0 L1448.0,1310.0 L1449.0,1310.0 L1450.0,1310.0 L1451.0,1310.0 L1452.0,1310.0 L1453.0,1310.0 L1454.0,1310.0 L1455.0,1310.0 L1456.0,1310.0 L1457.0,1309.9 L1458.0,1309.9 L1459.0,1309.9 L1460.0,1309.9 L1461.0,1309.9 L1462.0,1309.8 L1463.0,1309.8 L1464.0,1309.7 L1465.0,1309.6 L1466.0,1309.5 L1467.0,1309.3 L1468.0,1309.1 L1469.0,1308.7 L1470.0,1308.2 L1471.0,1307.6 L1472.0,1306.8 L1473.0,1305.9 L1474.0,1305.0 L1475.0,1304.2 L1476.0,1303.8 L1476.5,1303.7 L1477.0,1303.8 L1478.0,1304.2 L1479.0,1305.0 L1480.0,1305.9 L1481.0,1306.8 L1482.0,1307.6 L1483.0,1308.2 L1484.0,1308.7 L1485.0,1309.0 L1486.0,1309.3 L1487.0,1309.5 L1488.0,1309.6 L1489.0,1309.7 L1490.0,1309.7 L1491.0,1309.8 L1492.0,1309.8 L1493.0,1309.8 L1494.0,1309.8 L1495.0,1309.7 L1496.0,1309.7 L1497.0,1309.6 L1498.0,1309.5 L1499.0,1309.3 L1500.0,1309.1 L1501.0,1308.8 L1502.0,1308.4 L1503.0,1307.8 L1504.0,1307.1 L1505.0,1306.0 L1506.0,1304.7 L1507.0,1303.0 L1508.0,1301.3 L1509.0,1299.6 L1510.0,1298.5 L1510.9,1298.1 L1511.0,1298.1 L1512.0,1298.6 L1513.0,1299.9 L1514.0,1301.6 L1515.0,1303.4 L1516.0,1305.0 L1517.0,1306.2 L1518.0,1307.2 L1519.0,1308.0 L1520.0,1308.5 L1521.0,1308.9 L1522.0,1309.2 L1523.0,1309.4 L1524.0,1309.5 L1525.0,1309.6 L1526.0,1309.7 L1527.0,1309.8 L1528.0,1309.8 L1529.0,1309.9 L1530.0,1309.9 L1531.0,1309.9 L1532.0,1309.9 L1533.0,1309.9 L1534.0,1309.9 L1535.0,1309.9 L1536.0,1309.9 L1537.0,1309.8 L1538.0,1309.8 L1539.0,1309.7 L1540.0,1309.6 L1541.0,1309.4 L1542.0,1309.1 L1543.0,1308.8 L1544.0,1308.5 L1545.0,1308.1 L1546.0,1307.9 L1546.8,1307.8 L1547.0,1307.8 L1548.0,1308.0 L1549.0,1308.3 L1550.0,1308.6 L1551.0,1309.0 L1552.0,1309.3 L1553.0,1309.5 L1554.0,1309.6 L1555.0,1309.7 L1556.0,1309.8 L1557.0,1309.9 L1558.0,1309.9 L1559.0,1309.9 L1560.0,1309.9 L1561.0,1310.0 L1562.0,1310.0 L1563.0,1310.0 L1564.0,1310.0 L1565.0,1310.0 L1566.0,1310.0 L1567.0,1310.0 L1568.0,1310.0 L1569.0,1310.0 L1570.0,1310.0 L1571.0,1310.0 L1572.0,1310.0 L1573.0,1310.0 L1574.0,1310.0 L1575.0,1310.0 L1576.0,1310.0 L1577.0,1310.0 L1578.0,1310.0 L1579.0,1310.0 L1580.0,1310.0 L1581.0,1310.0 L1582.0,1310.0 L1583.0,1310.0 L1584.0,1310.0 L1585.0,1310.0 L1586.0,1310.0 L1587.0,1310.0 L1588.0,1310.0 L1589.0,1310.0 L1590.0,1310.0 L1591.0,1310.0 L1592.0,1310.0 L1593.0,1310.0 L1594.0,1309.9 L1595.0,1309.9 L1596.0,1309.9 L1597.0,1309.9 L1598.0,1309.9 L1599.0,1309.8 L1600.0,1309.8 L1601.0,1309.7 L1602.0,1309.6 L1603.0,1309.5 L1604.0,1309.3 L1605.0,1309.1 L1606.0,1308.8 L1607.0,1308.4 L1608.0,1308.0 L1609.0,1307.5 L1610.0,1307.0 L1611.0,1306.5 L1612.0,1306.1 L1613.0,1306.0 L1614.0,1306.1 L1615.0,1306.5 L1616.0,1307.0 L1617.0,1307.5 L1618.0,1308.0 L1619.0,1308.4 L1620.0,1308.8 L1621.0,1309.1 L1622.0,1309.3 L1623.0,1309.5 L1624.0,1309.6 L1625.0,1309.7 L1626.0,1309.8 L1627.0,1309.8 L1628.0,1309.9 L1629.0,1309.9 L1630.0,1309.9 L1631.0,1309.9 L1632.0,1309.9 L1633.0,1310.0 L1634.0,1310.0 L1635.0,1310.0 L1636.0,1310.0 L1637.0,1310.0 L1638.0,1310.0 L1639.0,1310.0 L1640.0,1310.0 L1641.0,1310.0 L1642.0,1310.0 L1643.0,1310.0 L1644.0,1310.0 L1645.0,1310.0 L1646.0,1310.0 L1647.0,1310.0 L1648.0,1310.0 L1649.0,1310.0 L1650.0,1310.0 L1651.0,1310.0 L1652.0,1310.0 L1653.0,1310.0 L1654.0,1310.0 L1655.0,1310.0 L1656.0,1310.0 L1657.0,1310.0 L1658.0,1310.0 L1659.0,1310.0 L1660.0,1310.0 L1661.0,1310.0 L1662.0,1310.0 L1663.0,1310.0 L1664.0,1310.0 L1665.0,1310.0 L1666.0,1310.0 L1667.0,1310.0 L1668.0,1310.0 L1669.0,1310.0 L1670.0,1310.0 L1671.0,1310.0 L1672.0,1310.0 L1673.0,1310.0 L1674.0,1310.0 L1675.0,1310.0 L1676.0,1310.0 L1677.0,1310.0 L1678.0,1310.0 L1679.0,1310.0 L1680.0,1310.0 L1681.0,1310.0 L1682.0,1310.0 L1683.0,1310.0 L1684.0,1310.0 L1685.0,1310.0 L1686.0,1310.0 L1687.0,1310.0 L1688.0,1310.0 L1689.0,1310.0 L1690.0,1310.0 L1691.0,1310.0 L1692.0,1310.0 L1693.0,1310.0 L1694.0,1310.0 L1695.0,1310.0 L1696.0,1310.0 L1697.0,1310.0 L1698.0,1310.0 L1699.0,1310.0 L1700.0,1310.0 L1701.0,1310.0 L1702.0,1310.0 L1703.0,1310.0 L1704.0,1310.0 L1705.0,1310.0 L1706.0,1310.0 L1707.0,1310.0 L1708.0,1310.0 L1709.0,1310.0 L1710.0,1310.0 L1711.0,1310.0 L1712.0,1310.0 L1713.0,1310.0 L1714.0,1310.0 L1715.0,1310.0 L1716.0,1310.0 L1717.0,1310.0 L1718.0,1310.0 L1719.0,1310.0 L1720.0,1310.0 L1721.0,1310.0 L1722.0,1310.0 L1723.0,1310.0 L1724.0,1310.0 L1725.0,1310.0 L1726.0,1310.0 L1727.0,1310.0 L1728.0,1310.0 L1729.0,1310.0 L1730.0,1310.0 L1731.0,1310.0 L1732.0,1310.0 L1733.0,1310.0 L1734.0,1310.0 L1735.0,1310.0 L1736.0,1310.0 L1737.0,1310.0 L1738.0,1310.0 L1739.0,1310.0 L1740.0,1310.0 L1741.0,1310.0 L1742.0,1310.0 L1743.0,1310.0 L1744.0,1310.0 L1745.0,1310.0 L1746.0,1310.0 L1747.0,1310.0 L1748.0,1310.0 L1749.0,1310.0 L1750.0,1310.0 L1751.0,1310.0 L1752.0,1310.0 L1753.0,1310.0 L1754.0,1310.0 L1755.0,1310.0 L1756.0,1310.0 L1757.0,1310.0 L1758.0,1310.0 L1759.0,1310.0 L1760.0,1310.0 L1761.0,1310.0 L1762.0,1310.0 L1763.0,1310.0 L1764.0,1310.0 L1765.0,1310.0 L1766.0,1310.0 L1767.0,1310.0 L1768.0,1310.0 L1769.0,1310.0 L1770.0,1310.0 L1771.0,1310.0 L1772.0,1309.9 L1773.0,1309.9 L1774.0,1309.9 L1775.0,1309.9 L1776.0,1309.9 L1777.0,1309.8 L1778.0,1309.8 L1779.0,1309.7 L1780.0,1309.6 L1781.0,1309.4 L1782.0,1309.2 L1783.0,1308.9 L1784.0,1308.5 L1785.0,1308.0 L1786.0,1307.4 L1787.0,1306.6 L1788.0,1305.8 L1789.0,1305.1 L1790.0,1304.7 L1790.6,1304.6 L1791.0,1304.6 L1792.0,1305.0 L1793.0,1305.6 L1794.0,1306.4 L1795.0,1307.1 L1796.0,1307.8 L1797.0,1308.3 L1798.0,1308.7 L1799.0,1308.9 L1800.0,1309.1 L1801.0,1309.1 L1802.0,1309.1 L1803.0,1309.0 L1804.0,1308.7 L1805.0,1308.4 L1806.0,1307.9 L1807.0,1307.2 L1808.0,1306.2 L1809.0,1304.9 L1810.0,1303.4 L1811.0,1301.7 L1812.0,1300.1 L1813.0,1298.9 L1814.0,1298.5 L1815.0,1298.9 L1816.0,1300.1 L1817.0,1301.7 L1818.0,1303.4 L1819.0,1305.0 L1820.0,1306.3 L1821.0,1307.2 L1822.0,1308.0 L1823.0,1308.5 L1824.0,1308.9 L1825.0,1309.2 L1826.0,1309.4 L1827.0,1309.5 L1828.0,1309.6 L1829.0,1309.7 L1830.0,1309.8 L1831.0,1309.8 L1832.0,1309.8 L1833.0,1309.9 L1834.0,1309.9 L1835.0,1309.9 L1836.0,1309.9 L1837.0,1309.9 L1838.0,1309.8 L1839.0,1309.8 L1840.0,1309.7 L1841.0,1309.7 L1842.0,1309.5 L1843.0,1309.4 L1844.0,1309.1 L1845.0,1308.8 L1846.0,1308.2 L1847.0,1307.5 L1848.0,1306.6 L1849.0,1305.4 L1850.0,1304.2 L1851.0,1303.1 L1852.0,1302.5 L1852.3,1302.5 L1853.0,1302.6 L1854.0,1303.3 L1855.0,1304.3 L1856.0,1305.4 L1857.0,1306.4 L1858.0,1307.3 L1859.0,1308.0 L1860.0,1308.6 L1861.0,1308.9 L1862.0,1309.2 L1863.0,1309.4 L1864.0,1309.6 L1865.0,1309.7 L1866.0,1309.8 L1867.0,1309.8 L1868.0,1309.9 L1869.0,1309.9 L1870.0,1309.9 L1871.0,1309.9 L1872.0,1309.9 L1873.0,1310.0 L1874.0,1310.0" stroke="#ff0000" stroke-width="4"/>
<text transform="translate(1201,89.8) scale(0.9955,1.04)" font-size="45" fill="#ff0000" text-anchor="start">1: α-MoO<tspan font-size="25" dy="15.2">3</tspan><tspan dy="-15.2" dx="0.8"> (PDF card No. 5-508)</tspan></text>
<text transform="translate(1201.8,157.0) scale(0.9955,1.04)" font-size="45" fill="#0000ff" text-anchor="start">2: β-MoO<tspan font-size="25" dy="15.2">3</tspan><tspan dy="-15.2" dx="0.8"> (PDF card No. 47-1081)</tspan></text>
<text transform="translate(1621.3,370.6) scale(1.02,1.05)" font-size="44.5" fill="#000080" text-anchor="start">1373 K</text>
<text transform="translate(1621.3,610.0) scale(1.02,1.05)" font-size="44.5" fill="#008000" text-anchor="start">1323 K</text>
<text transform="translate(1623.5,759.0) scale(1.02,1.05)" font-size="44.5" fill="#ff00ff" text-anchor="start">1273 K</text>
<text transform="translate(1628.3,914.2) scale(1.02,1.05)" font-size="44.5" fill="#000000" text-anchor="start">1223 K</text>
<text transform="translate(1203.3,1007.6) scale(1.003,1.03)" font-size="44.5" fill="#0000ff" text-anchor="start">Standard PDF card No. 47-1081</text>
<text transform="translate(1205,1062.9) scale(1.0,1.03)" font-size="44.5" fill="#0000ff" text-anchor="start">(<tspan font-style="italic">β</tspan>-MoO<tspan font-size="26" dy="15.4">3</tspan><tspan dy="-15.4" dx="0">)</tspan></text>
<text transform="translate(1211.5,1155.0) scale(1.063,1.03)" font-size="44.8" fill="#ff0000" text-anchor="start">Standard PDF card No. 5-508</text>
<text transform="translate(1213,1214.3) scale(1.055,1.03)" font-size="44.8" fill="#ff0000" text-anchor="start">(<tspan font-style="italic">α</tspan>-MoO<tspan font-size="28" dy="17.4">3</tspan><tspan dy="-17.4" dx="0">)</tspan></text>
<text transform="translate(299.3,156.8) scale(0.96,1.05)" font-size="51" fill="#ff0000" text-anchor="middle">1</text>
<text transform="translate(890.5,286.8) scale(1.08,1.05)" font-size="51" fill="#0000ff" text-anchor="middle">2</text>
<text transform="translate(912.5,367.6) scale(0.96,1.05)" font-size="51" fill="#ff0000" text-anchor="middle">1</text>
<text transform="translate(1008.5,345) scale(1.08,1.05)" font-size="51" fill="#0000ff" text-anchor="middle">2</text>
<text transform="translate(1069.3,101.5) scale(0.96,1.05)" font-size="51" fill="#ff0000" text-anchor="middle">1</text>
<text transform="translate(1096.5,393.5) scale(1.08,1.05)" font-size="51" fill="#0000ff" text-anchor="middle">2</text>
<text transform="translate(1141.3,375.4) scale(0.96,1.05)" font-size="51" fill="#ff0000" text-anchor="middle">1</text>
<text transform="translate(1815.0,214.2) scale(0.96,1.05)" font-size="45.5" fill="#ff0000" text-anchor="middle">1</text>
<text transform="translate(906,1065) rotate(-90) scale(1.065,1.04)" font-size="44.5" fill="#0000ff" text-anchor="start">(011)</text>
<text transform="translate(1020.8,1077) rotate(-90) scale(1.065,1.04)" font-size="44.5" fill="#0000ff" text-anchor="start">(200)</text>
<text transform="translate(1108,1095.5) rotate(-90) scale(1.065,1.04)" font-size="44.5" fill="#0000ff" text-anchor="start">(111)</text>
<text transform="translate(311.5,1282) rotate(-90) scale(1.065,1.04)" font-size="44.5" fill="#ff0000" text-anchor="start">(020)</text>
<text transform="translate(922,1264) rotate(-90) scale(1.065,1.04)" font-size="44.5" fill="#ff0000" text-anchor="start">(110)</text>
<text transform="translate(1058,1275) rotate(-90) scale(1.065,1.04)" font-size="44.5" fill="#ff0000" text-anchor="start">(040)</text>
<text transform="translate(1155.5,1260) rotate(-90) scale(1.065,1.04)" font-size="44.5" fill="#ff0000" text-anchor="start">(021)</text>
<text transform="translate(1825.5,1285.5) rotate(-90) scale(1.065,1.04)" font-size="44.5" fill="#ff0000" text-anchor="start">(060)</text>
<text transform="translate(138.5,1407.6) scale(1.07,1.02)" font-size="52" fill="#000000" text-anchor="middle">10</text>
<text transform="translate(427.7,1407.6) scale(1.07,1.02)" font-size="52" fill="#000000" text-anchor="middle">15</text>
<text transform="translate(716.8,1407.6) scale(1.07,1.02)" font-size="52" fill="#000000" text-anchor="middle">20</text>
<text transform="translate(1006.0,1407.6) scale(1.07,1.02)" font-size="52" fill="#000000" text-anchor="middle">25</text>
<text transform="translate(1295.2,1407.6) scale(1.07,1.02)" font-size="52" fill="#000000" text-anchor="middle">30</text>
<text transform="translate(1584.3,1407.6) scale(1.07,1.02)" font-size="52" fill="#000000" text-anchor="middle">35</text>
<text transform="translate(1874.5,1407.6) scale(1.07,1.02)" font-size="52" fill="#000000" text-anchor="middle">40</text>
<text transform="translate(1005.9,1505) scale(1.015,1.0)" font-size="66" fill="#000000" text-anchor="middle">2θ/degree</text>
<text transform="translate(83.5,706.5) rotate(-90) scale(1.03,1.0)" font-size="64" fill="#000000" text-anchor="middle">Relative Intensity</text>
</svg>
</body></html>
